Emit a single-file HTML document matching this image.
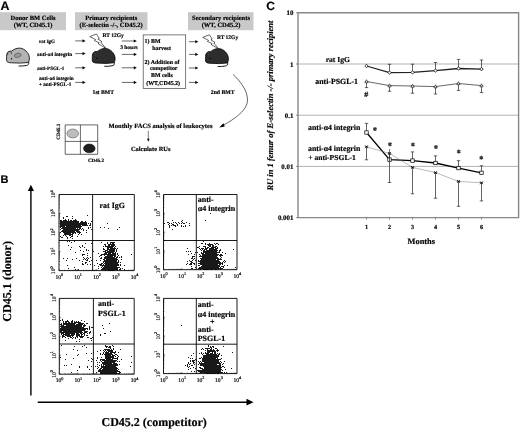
<!DOCTYPE html>
<html><head><meta charset="utf-8"><style>
html,body{margin:0;padding:0;background:#fff;width:520px;height:430px;overflow:hidden}
svg{display:block;font-family:'Liberation Serif',serif;font-weight:bold;text-rendering:geometricPrecision;filter:grayscale(1) blur(0.35px)}
text{stroke:#000;stroke-width:0.18px}
</style></head><body>
<svg width="520" height="430" viewBox="0 0 520 430">
<text x="0.4" y="9.8" font-size="12.4" style="font-family:'Liberation Sans',sans-serif;font-weight:bold">A</text>
<rect x="0" y="12.2" width="66" height="18" fill="#c9c9c9"/>
<rect x="75" y="12.2" width="72.5" height="18" fill="#c9c9c9"/>
<rect x="188" y="12.2" width="65.5" height="18" fill="#c9c9c9"/>
<text x="33" y="19.6" font-size="6.5" text-anchor="middle" >Donor BM Cells</text>
<text x="33" y="27" font-size="6.5" text-anchor="middle" >(WT, CD45.1)</text>
<text x="111.2" y="19.6" font-size="6.5" text-anchor="middle" >Primary recipients</text>
<text x="111.2" y="27" font-size="6.5" text-anchor="middle" >(E-selectin -/-, CD45.2)</text>
<text x="221" y="19.6" font-size="6.5" text-anchor="middle" >Secondary recipients</text>
<text x="221" y="27" font-size="6.5" text-anchor="middle" >(WT, CD45.2)</text>
<text x="39" y="43.4" font-size="5.0" text-anchor="start" >rat IgG</text>
<text x="37.1" y="56.2" font-size="5.25" text-anchor="start" >anti-&#945;4 integrin</text>
<text x="37.1" y="69.8" font-size="5.0" text-anchor="start" >anti-PSGL-1</text>
<text x="39" y="80.2" font-size="5.2" text-anchor="start" >anti-&#945;4 integrin</text>
<text x="39" y="86" font-size="5.15" text-anchor="start" >+ anti-PSGL-1</text>
<line x1="75.2" y1="40.9" x2="83.0" y2="40.9" stroke="#000" stroke-width="0.6"/>
<path d="M85.5 40.9 L82.5 39.3 L82.5 42.5Z" fill="#000"/>
<line x1="75.2" y1="53.6" x2="83.0" y2="53.6" stroke="#000" stroke-width="0.6"/>
<path d="M85.5 53.6 L82.5 52.0 L82.5 55.2Z" fill="#000"/>
<line x1="75.2" y1="67.8" x2="83.0" y2="67.8" stroke="#000" stroke-width="0.6"/>
<path d="M85.5 67.8 L82.5 66.2 L82.5 69.39999999999999Z" fill="#000"/>
<line x1="75.2" y1="82.4" x2="83.0" y2="82.4" stroke="#000" stroke-width="0.6"/>
<path d="M85.5 82.4 L82.5 80.80000000000001 L82.5 84.0Z" fill="#000"/>
<line x1="121.8" y1="41" x2="134.3" y2="41" stroke="#000" stroke-width="0.6"/>
<path d="M136.8 41 L133.8 39.4 L133.8 42.6Z" fill="#000"/>
<line x1="121.8" y1="54.4" x2="134.3" y2="54.4" stroke="#000" stroke-width="0.6"/>
<path d="M136.8 54.4 L133.8 52.8 L133.8 56.0Z" fill="#000"/>
<line x1="121.8" y1="67.8" x2="134.3" y2="67.8" stroke="#000" stroke-width="0.6"/>
<path d="M136.8 67.8 L133.8 66.2 L133.8 69.39999999999999Z" fill="#000"/>
<line x1="121.8" y1="82.4" x2="134.3" y2="82.4" stroke="#000" stroke-width="0.6"/>
<path d="M136.8 82.4 L133.8 80.80000000000001 L133.8 84.0Z" fill="#000"/>
<line x1="188.9" y1="41.7" x2="195.8" y2="41.7" stroke="#000" stroke-width="0.6"/>
<path d="M198.3 41.7 L195.3 40.1 L195.3 43.300000000000004Z" fill="#000"/>
<line x1="188.9" y1="54.4" x2="195.8" y2="54.4" stroke="#000" stroke-width="0.6"/>
<path d="M198.3 54.4 L195.3 52.8 L195.3 56.0Z" fill="#000"/>
<line x1="188.9" y1="68" x2="195.8" y2="68" stroke="#000" stroke-width="0.6"/>
<path d="M198.3 68 L195.3 66.4 L195.3 69.6Z" fill="#000"/>
<line x1="188.9" y1="82.4" x2="195.8" y2="82.4" stroke="#000" stroke-width="0.6"/>
<path d="M198.3 82.4 L195.3 80.80000000000001 L195.3 84.0Z" fill="#000"/>
<g transform="translate(-85.7,-0.3)"><path d="M92.3 56.5 C92.2 54.3 93 52.6 94.5 51.8 C95.5 51.3 96.5 51.3 97.3 51.5 C99.3 49.8 102 48.4 105 48.4 C109 48.4 113 51.5 114.6 55.5 C115.4 58 115.3 61 114 62.8 L106 63.4 L97 63.1 C94.5 63 92.6 62.5 92.3 61 Z" fill="#b3b3b3" stroke="#000" stroke-width="0.8"/><path d="M93.3 55.5 C92.9 53.5 93.8 52 95.5 51.9 C97 51.9 97.6 53.2 97.2 54.6" fill="#aaa" stroke="#000" stroke-width="0.5"/><ellipse cx="103.4" cy="55.6" rx="3.5" ry="2.1" transform="rotate(-15 103.4 55.6)" fill="#999" stroke="#444" stroke-width="0.5"/><circle cx="97.2" cy="59" r="0.7" fill="#000"/><path d="M114.3 62.3 C114.9 64.5 114 65.5 112 65.8 C109.5 66.3 106.5 66.4 104.3 66.3" fill="none" stroke="#000" stroke-width="0.9"/></g>
<g transform="translate(0,0)"><path d="M92.3 56.5 C92.2 54.3 93 52.6 94.5 51.8 C95.5 51.3 96.5 51.3 97.3 51.5 C99.3 49.8 102 48.4 105 48.4 C109 48.4 113 51.5 114.6 55.5 C115.4 58 115.3 61 114 62.8 L106 63.4 L97 63.1 C94.5 63 92.6 62.5 92.3 61 Z" fill="#2d2d2d" stroke="#000" stroke-width="0.8"/><path d="M94.5 51.8 C95 53 95.5 54 95 55.5" fill="none" stroke="#555" stroke-width="0.4"/><circle cx="96.8" cy="58.2" r="0.7" fill="#000"/><path d="M114.3 62.3 C114.9 64.5 114 65.5 112 65.8 C109.5 66.3 106.5 66.4 104.3 66.3" fill="none" stroke="#000" stroke-width="0.9"/></g>
<g transform="translate(113.3,0.2)"><path d="M92.3 56.5 C92.2 54.3 93 52.6 94.5 51.8 C95.5 51.3 96.5 51.3 97.3 51.5 C99.3 49.8 102 48.4 105 48.4 C109 48.4 113 51.5 114.6 55.5 C115.4 58 115.3 61 114 62.8 L106 63.4 L97 63.1 C94.5 63 92.6 62.5 92.3 61 Z" fill="#2d2d2d" stroke="#000" stroke-width="0.8"/><path d="M94.5 51.8 C95 53 95.5 54 95 55.5" fill="none" stroke="#555" stroke-width="0.4"/><circle cx="96.8" cy="58.2" r="0.7" fill="#000"/><path d="M114.3 62.3 C114.9 64.5 114 65.5 112 65.8 C109.5 66.3 106.5 66.4 104.3 66.3" fill="none" stroke="#000" stroke-width="0.9"/></g>
<path d="M89.8 36.6 L96.4 34.0 L99.2 38.3 L97.9 39.1 L102.0 41.6 L100.8 42.3 L106.0 48.4 L98.0 43.6 L99.2 42.8 L94.4 40.6 L95.6 39.6Z" fill="#fff" stroke="#000" stroke-width="0.6" stroke-linejoin="miter"/>
<path d="M202.8 37.4 L209.4 34.8 L212.2 39.1 L210.9 39.9 L215.0 42.4 L213.8 43.1 L219.0 49.2 L211.0 44.4 L212.2 43.6 L207.4 41.4 L208.6 40.4Z" fill="#fff" stroke="#000" stroke-width="0.6" stroke-linejoin="miter"/>
<text x="102.6" y="36.7" font-size="5.5" text-anchor="start" >RT 12Gy</text>
<text x="216.9" y="39.1" font-size="5.5" text-anchor="start" >RT 12Gy</text>
<text x="120.2" y="49.3" font-size="5.5" text-anchor="start" >3 hours</text>
<text x="92.5" y="94" font-size="5.75" text-anchor="start" >1st BMT</text>
<text x="210.8" y="94" font-size="5.75" text-anchor="start" >2nd BMT</text>
<rect x="143.2" y="34.9" width="42.5" height="53.5" fill="none" stroke="#444" stroke-width="0.7"/>
<text x="144.6" y="42.5" font-size="5.9" text-anchor="start" >1) BM</text>
<text x="152.2" y="49.6" font-size="5.9" text-anchor="start" >harvest</text>
<text x="144.6" y="63.6" font-size="5.95" text-anchor="start" >2) Addition of</text>
<text x="150" y="70.2" font-size="5.9" text-anchor="start" >competitor</text>
<text x="151" y="76.7" font-size="5.9" text-anchor="start" >BM cells</text>
<text x="146.2" y="84.7" font-size="5.95" text-anchor="start" >(WT,CD45.2)</text>
<path d="M233.1 74.5 C240 81 247.5 90 247.5 100 C247.5 110 235 119 221.5 126.2" fill="none" stroke="#000" stroke-width="0.6"/>
<path d="M219.2 127.5 L223.4 123.3 L224.8 126.4Z" fill="#000"/>
<ellipse cx="72.7" cy="133.5" rx="5.8" ry="4.5" fill="#bdbdbd" stroke="#444" stroke-width="0.5"/>
<ellipse cx="89.3" cy="148.4" rx="5.8" ry="4.4" fill="#1e1e1e" stroke="#000" stroke-width="0.5"/>
<path d="M65.2 124.9 H97.7 V154.3 H65.2Z M80.4 124.9 V154.3 M65.2 141.4 H97.7" fill="none" stroke="#000" stroke-width="0.6"/>
<text x="0" y="0" font-size="5" text-anchor="middle" transform="translate(60.2 131.7) rotate(-90)">CD45.1</text>
<text x="96" y="162" font-size="5.0" text-anchor="middle" >CD45.2</text>
<text x="160.5" y="127.7" font-size="6.55" text-anchor="middle" >Monthly FACS analysis of leukocytes</text>
<line x1="148.3" y1="130.8" x2="148.3" y2="139.5" stroke="#000" stroke-width="0.5"/>
<path d="M148.3 141.8 L147 138.8 L149.6 138.8Z" fill="#000"/>
<text x="150.7" y="150.8" font-size="6.45" text-anchor="middle" >Calculate RUs</text>
<text x="0.4" y="183.4" font-size="11" style="font-family:'Liberation Sans',sans-serif;font-weight:bold">B</text>
<line x1="30.9" y1="395.5" x2="30.9" y2="190" stroke="#000" stroke-width="1.4"/>
<path d="M30.9 184.8 L27.8 191 L34 191Z" fill="#000"/>
<line x1="37.7" y1="402.2" x2="247.5" y2="402.2" stroke="#000" stroke-width="1.4"/>
<path d="M253.5 402.2 L246.5 398.8 L246.5 405.6Z" fill="#000"/>
<text x="0" y="0" font-size="12.1" text-anchor="middle" transform="translate(10.8 281.4) rotate(-90)">CD45.1 (donor)</text>
<text x="101.5" y="426" font-size="12.0" text-anchor="start" >CD45.2 (competitor)</text>
<path d="M59 194.5 H134.3 V270.6 H59Z M92.6 194.5 V270.6 M59 240.5 H134.3" fill="none" stroke="#000" stroke-width="0.9"/>
<path d="M59.0 270.6 v-1.6 M59 270.6 h1.6 M64.7 270.6 v-0.9 M59 264.9 h0.9 M68.0 270.6 v-0.9 M59 261.5 h0.9 M70.3 270.6 v-0.9 M59 259.1 h0.9 M72.2 270.6 v-0.9 M59 257.3 h0.9 M73.6 270.6 v-0.9 M59 255.8 h0.9 M74.9 270.6 v-0.9 M59 254.5 h0.9 M76.0 270.6 v-0.9 M59 253.4 h0.9 M77.0 270.6 v-0.9 M59 252.4 h0.9 M77.8 270.6 v-1.6 M59 251.6 h1.6 M83.5 270.6 v-0.9 M59 245.8 h0.9 M86.8 270.6 v-0.9 M59 242.5 h0.9 M89.2 270.6 v-0.9 M59 240.1 h0.9 M91.0 270.6 v-0.9 M59 238.3 h0.9 M92.5 270.6 v-0.9 M59 236.8 h0.9 M93.7 270.6 v-0.9 M59 235.5 h0.9 M94.8 270.6 v-0.9 M59 234.4 h0.9 M95.8 270.6 v-0.9 M59 233.4 h0.9 M96.7 270.6 v-1.6 M59 232.6 h1.6 M102.3 270.6 v-0.9 M59 226.8 h0.9 M105.6 270.6 v-0.9 M59 223.5 h0.9 M108.0 270.6 v-0.9 M59 221.1 h0.9 M109.8 270.6 v-0.9 M59 219.3 h0.9 M111.3 270.6 v-0.9 M59 217.7 h0.9 M112.6 270.6 v-0.9 M59 216.5 h0.9 M113.7 270.6 v-0.9 M59 215.4 h0.9 M114.6 270.6 v-0.9 M59 214.4 h0.9 M115.5 270.6 v-1.6 M59 213.5 h1.6 M121.1 270.6 v-0.9 M59 207.8 h0.9 M124.5 270.6 v-0.9 M59 204.4 h0.9 M126.8 270.6 v-0.9 M59 202.1 h0.9 M128.6 270.6 v-0.9 M59 200.2 h0.9 M130.1 270.6 v-0.9 M59 198.7 h0.9 M131.4 270.6 v-0.9 M59 197.4 h0.9 M132.5 270.6 v-0.9 M59 196.3 h0.9 M133.4 270.6 v-0.9 M59 195.4 h0.9" stroke="#000" stroke-width="0.5"/>
<text x="59.3" y="278.6" font-size="5.6" fill="#000" text-anchor="middle" style="font-weight:normal">10<tspan dy="-2.5" font-size="4.2">0</tspan></text>
<text x="0" y="0" font-size="5.6" fill="#000" text-anchor="middle" style="font-weight:normal" transform="translate(55.4 270.3) rotate(-90)">10<tspan dy="-2.5" font-size="4.2">0</tspan></text>
<text x="78.1" y="278.6" font-size="5.6" fill="#000" text-anchor="middle" style="font-weight:normal">10<tspan dy="-2.5" font-size="4.2">1</tspan></text>
<text x="0" y="0" font-size="5.6" fill="#000" text-anchor="middle" style="font-weight:normal" transform="translate(55.4 251.3) rotate(-90)">10<tspan dy="-2.5" font-size="4.2">1</tspan></text>
<text x="97.0" y="278.6" font-size="5.6" fill="#000" text-anchor="middle" style="font-weight:normal">10<tspan dy="-2.5" font-size="4.2">2</tspan></text>
<text x="0" y="0" font-size="5.6" fill="#000" text-anchor="middle" style="font-weight:normal" transform="translate(55.4 232.2) rotate(-90)">10<tspan dy="-2.5" font-size="4.2">2</tspan></text>
<text x="115.8" y="278.6" font-size="5.6" fill="#000" text-anchor="middle" style="font-weight:normal">10<tspan dy="-2.5" font-size="4.2">3</tspan></text>
<text x="0" y="0" font-size="5.6" fill="#000" text-anchor="middle" style="font-weight:normal" transform="translate(55.4 213.2) rotate(-90)">10<tspan dy="-2.5" font-size="4.2">3</tspan></text>
<text x="134.6" y="278.6" font-size="5.6" fill="#000" text-anchor="middle" style="font-weight:normal">10<tspan dy="-2.5" font-size="4.2">4</tspan></text>
<text x="0" y="0" font-size="5.6" fill="#000" text-anchor="middle" style="font-weight:normal" transform="translate(55.4 194.2) rotate(-90)">10<tspan dy="-2.5" font-size="4.2">4</tspan></text>
<path d="M163.5 194.5 H237 V269.7 H163.5Z M196.3 194.5 V269.7 M163.5 240.5 H237" fill="none" stroke="#000" stroke-width="0.9"/>
<path d="M163.5 269.7 v-1.6 M163.5 269.7 h1.6 M169.0 269.7 v-0.9 M163.5 264.0 h0.9 M172.3 269.7 v-0.9 M163.5 260.7 h0.9 M174.6 269.7 v-0.9 M163.5 258.4 h0.9 M176.3 269.7 v-0.9 M163.5 256.6 h0.9 M177.8 269.7 v-0.9 M163.5 255.1 h0.9 M179.0 269.7 v-0.9 M163.5 253.8 h0.9 M180.1 269.7 v-0.9 M163.5 252.7 h0.9 M181.0 269.7 v-0.9 M163.5 251.8 h0.9 M181.9 269.7 v-1.6 M163.5 250.9 h1.6 M187.4 269.7 v-0.9 M163.5 245.2 h0.9 M190.6 269.7 v-0.9 M163.5 241.9 h0.9 M192.9 269.7 v-0.9 M163.5 239.6 h0.9 M194.7 269.7 v-0.9 M163.5 237.8 h0.9 M196.2 269.7 v-0.9 M163.5 236.3 h0.9 M197.4 269.7 v-0.9 M163.5 235.0 h0.9 M198.5 269.7 v-0.9 M163.5 233.9 h0.9 M199.4 269.7 v-0.9 M163.5 233.0 h0.9 M200.2 269.7 v-1.6 M163.5 232.1 h1.6 M205.8 269.7 v-0.9 M163.5 226.4 h0.9 M209.0 269.7 v-0.9 M163.5 223.1 h0.9 M211.3 269.7 v-0.9 M163.5 220.8 h0.9 M213.1 269.7 v-0.9 M163.5 219.0 h0.9 M214.5 269.7 v-0.9 M163.5 217.5 h0.9 M215.8 269.7 v-0.9 M163.5 216.2 h0.9 M216.8 269.7 v-0.9 M163.5 215.1 h0.9 M217.8 269.7 v-0.9 M163.5 214.2 h0.9 M218.6 269.7 v-1.6 M163.5 213.3 h1.6 M224.2 269.7 v-0.9 M163.5 207.6 h0.9 M227.4 269.7 v-0.9 M163.5 204.3 h0.9 M229.7 269.7 v-0.9 M163.5 202.0 h0.9 M231.5 269.7 v-0.9 M163.5 200.2 h0.9 M232.9 269.7 v-0.9 M163.5 198.7 h0.9 M234.2 269.7 v-0.9 M163.5 197.4 h0.9 M235.2 269.7 v-0.9 M163.5 196.3 h0.9 M236.2 269.7 v-0.9 M163.5 195.4 h0.9" stroke="#000" stroke-width="0.5"/>
<text x="163.8" y="277.7" font-size="5.6" fill="#000" text-anchor="middle" style="font-weight:normal">10<tspan dy="-2.5" font-size="4.2">0</tspan></text>
<text x="0" y="0" font-size="5.6" fill="#000" text-anchor="middle" style="font-weight:normal" transform="translate(159.9 269.4) rotate(-90)">10<tspan dy="-2.5" font-size="4.2">0</tspan></text>
<text x="182.2" y="277.7" font-size="5.6" fill="#000" text-anchor="middle" style="font-weight:normal">10<tspan dy="-2.5" font-size="4.2">1</tspan></text>
<text x="0" y="0" font-size="5.6" fill="#000" text-anchor="middle" style="font-weight:normal" transform="translate(159.9 250.6) rotate(-90)">10<tspan dy="-2.5" font-size="4.2">1</tspan></text>
<text x="200.6" y="277.7" font-size="5.6" fill="#000" text-anchor="middle" style="font-weight:normal">10<tspan dy="-2.5" font-size="4.2">2</tspan></text>
<text x="0" y="0" font-size="5.6" fill="#000" text-anchor="middle" style="font-weight:normal" transform="translate(159.9 231.8) rotate(-90)">10<tspan dy="-2.5" font-size="4.2">2</tspan></text>
<text x="218.9" y="277.7" font-size="5.6" fill="#000" text-anchor="middle" style="font-weight:normal">10<tspan dy="-2.5" font-size="4.2">3</tspan></text>
<text x="0" y="0" font-size="5.6" fill="#000" text-anchor="middle" style="font-weight:normal" transform="translate(159.9 213.0) rotate(-90)">10<tspan dy="-2.5" font-size="4.2">3</tspan></text>
<text x="237.3" y="277.7" font-size="5.6" fill="#000" text-anchor="middle" style="font-weight:normal">10<tspan dy="-2.5" font-size="4.2">4</tspan></text>
<text x="0" y="0" font-size="5.6" fill="#000" text-anchor="middle" style="font-weight:normal" transform="translate(159.9 194.2) rotate(-90)">10<tspan dy="-2.5" font-size="4.2">4</tspan></text>
<path d="M59.3 298.4 H134.2 V374.2 H59.3Z M93.4 298.4 V374.2 M59.3 344 H134.2" fill="none" stroke="#000" stroke-width="0.9"/>
<path d="M59.3 374.2 v-1.6 M59.3 374.2 h1.6 M64.9 374.2 v-0.9 M59.3 368.5 h0.9 M68.2 374.2 v-0.9 M59.3 365.2 h0.9 M70.6 374.2 v-0.9 M59.3 362.8 h0.9 M72.4 374.2 v-0.9 M59.3 361.0 h0.9 M73.9 374.2 v-0.9 M59.3 359.5 h0.9 M75.1 374.2 v-0.9 M59.3 358.2 h0.9 M76.2 374.2 v-0.9 M59.3 357.1 h0.9 M77.2 374.2 v-0.9 M59.3 356.1 h0.9 M78.0 374.2 v-1.6 M59.3 355.2 h1.6 M83.7 374.2 v-0.9 M59.3 349.5 h0.9 M87.0 374.2 v-0.9 M59.3 346.2 h0.9 M89.3 374.2 v-0.9 M59.3 343.8 h0.9 M91.1 374.2 v-0.9 M59.3 342.0 h0.9 M92.6 374.2 v-0.9 M59.3 340.5 h0.9 M93.8 374.2 v-0.9 M59.3 339.2 h0.9 M94.9 374.2 v-0.9 M59.3 338.1 h0.9 M95.9 374.2 v-0.9 M59.3 337.2 h0.9 M96.8 374.2 v-1.6 M59.3 336.3 h1.6 M102.4 374.2 v-0.9 M59.3 330.6 h0.9 M105.7 374.2 v-0.9 M59.3 327.3 h0.9 M108.0 374.2 v-0.9 M59.3 324.9 h0.9 M109.8 374.2 v-0.9 M59.3 323.1 h0.9 M111.3 374.2 v-0.9 M59.3 321.6 h0.9 M112.6 374.2 v-0.9 M59.3 320.3 h0.9 M113.7 374.2 v-0.9 M59.3 319.2 h0.9 M114.6 374.2 v-0.9 M59.3 318.2 h0.9 M115.5 374.2 v-1.6 M59.3 317.3 h1.6 M121.1 374.2 v-0.9 M59.3 311.6 h0.9 M124.4 374.2 v-0.9 M59.3 308.3 h0.9 M126.7 374.2 v-0.9 M59.3 305.9 h0.9 M128.6 374.2 v-0.9 M59.3 304.1 h0.9 M130.0 374.2 v-0.9 M59.3 302.6 h0.9 M131.3 374.2 v-0.9 M59.3 301.3 h0.9 M132.4 374.2 v-0.9 M59.3 300.2 h0.9 M133.3 374.2 v-0.9 M59.3 299.3 h0.9" stroke="#000" stroke-width="0.5"/>
<text x="59.6" y="382.2" font-size="5.6" fill="#000" text-anchor="middle" style="font-weight:normal">10<tspan dy="-2.5" font-size="4.2">0</tspan></text>
<text x="0" y="0" font-size="5.6" fill="#000" text-anchor="middle" style="font-weight:normal" transform="translate(55.7 373.9) rotate(-90)">10<tspan dy="-2.5" font-size="4.2">0</tspan></text>
<text x="78.3" y="382.2" font-size="5.6" fill="#000" text-anchor="middle" style="font-weight:normal">10<tspan dy="-2.5" font-size="4.2">1</tspan></text>
<text x="0" y="0" font-size="5.6" fill="#000" text-anchor="middle" style="font-weight:normal" transform="translate(55.7 354.9) rotate(-90)">10<tspan dy="-2.5" font-size="4.2">1</tspan></text>
<text x="97.0" y="382.2" font-size="5.6" fill="#000" text-anchor="middle" style="font-weight:normal">10<tspan dy="-2.5" font-size="4.2">2</tspan></text>
<text x="0" y="0" font-size="5.6" fill="#000" text-anchor="middle" style="font-weight:normal" transform="translate(55.7 336.0) rotate(-90)">10<tspan dy="-2.5" font-size="4.2">2</tspan></text>
<text x="115.8" y="382.2" font-size="5.6" fill="#000" text-anchor="middle" style="font-weight:normal">10<tspan dy="-2.5" font-size="4.2">3</tspan></text>
<text x="0" y="0" font-size="5.6" fill="#000" text-anchor="middle" style="font-weight:normal" transform="translate(55.7 317.0) rotate(-90)">10<tspan dy="-2.5" font-size="4.2">3</tspan></text>
<text x="134.5" y="382.2" font-size="5.6" fill="#000" text-anchor="middle" style="font-weight:normal">10<tspan dy="-2.5" font-size="4.2">4</tspan></text>
<text x="0" y="0" font-size="5.6" fill="#000" text-anchor="middle" style="font-weight:normal" transform="translate(55.7 298.1) rotate(-90)">10<tspan dy="-2.5" font-size="4.2">4</tspan></text>
<path d="M163.5 298.4 H237 V373.6 H163.5Z M196.3 298.4 V373.6 M163.5 344.2 H237" fill="none" stroke="#000" stroke-width="0.9"/>
<path d="M163.5 373.6 v-1.6 M163.5 373.6 h1.6 M169.0 373.6 v-0.9 M163.5 367.9 h0.9 M172.3 373.6 v-0.9 M163.5 364.6 h0.9 M174.6 373.6 v-0.9 M163.5 362.3 h0.9 M176.3 373.6 v-0.9 M163.5 360.5 h0.9 M177.8 373.6 v-0.9 M163.5 359.0 h0.9 M179.0 373.6 v-0.9 M163.5 357.7 h0.9 M180.1 373.6 v-0.9 M163.5 356.6 h0.9 M181.0 373.6 v-0.9 M163.5 355.7 h0.9 M181.9 373.6 v-1.6 M163.5 354.8 h1.6 M187.4 373.6 v-0.9 M163.5 349.1 h0.9 M190.6 373.6 v-0.9 M163.5 345.8 h0.9 M192.9 373.6 v-0.9 M163.5 343.5 h0.9 M194.7 373.6 v-0.9 M163.5 341.7 h0.9 M196.2 373.6 v-0.9 M163.5 340.2 h0.9 M197.4 373.6 v-0.9 M163.5 338.9 h0.9 M198.5 373.6 v-0.9 M163.5 337.8 h0.9 M199.4 373.6 v-0.9 M163.5 336.9 h0.9 M200.2 373.6 v-1.6 M163.5 336.0 h1.6 M205.8 373.6 v-0.9 M163.5 330.3 h0.9 M209.0 373.6 v-0.9 M163.5 327.0 h0.9 M211.3 373.6 v-0.9 M163.5 324.7 h0.9 M213.1 373.6 v-0.9 M163.5 322.9 h0.9 M214.5 373.6 v-0.9 M163.5 321.4 h0.9 M215.8 373.6 v-0.9 M163.5 320.1 h0.9 M216.8 373.6 v-0.9 M163.5 319.0 h0.9 M217.8 373.6 v-0.9 M163.5 318.1 h0.9 M218.6 373.6 v-1.6 M163.5 317.2 h1.6 M224.2 373.6 v-0.9 M163.5 311.5 h0.9 M227.4 373.6 v-0.9 M163.5 308.2 h0.9 M229.7 373.6 v-0.9 M163.5 305.9 h0.9 M231.5 373.6 v-0.9 M163.5 304.1 h0.9 M232.9 373.6 v-0.9 M163.5 302.6 h0.9 M234.2 373.6 v-0.9 M163.5 301.3 h0.9 M235.2 373.6 v-0.9 M163.5 300.2 h0.9 M236.2 373.6 v-0.9 M163.5 299.3 h0.9" stroke="#000" stroke-width="0.5"/>
<text x="163.8" y="381.6" font-size="5.6" fill="#000" text-anchor="middle" style="font-weight:normal">10<tspan dy="-2.5" font-size="4.2">0</tspan></text>
<text x="0" y="0" font-size="5.6" fill="#000" text-anchor="middle" style="font-weight:normal" transform="translate(159.9 373.3) rotate(-90)">10<tspan dy="-2.5" font-size="4.2">0</tspan></text>
<text x="182.2" y="381.6" font-size="5.6" fill="#000" text-anchor="middle" style="font-weight:normal">10<tspan dy="-2.5" font-size="4.2">1</tspan></text>
<text x="0" y="0" font-size="5.6" fill="#000" text-anchor="middle" style="font-weight:normal" transform="translate(159.9 354.5) rotate(-90)">10<tspan dy="-2.5" font-size="4.2">1</tspan></text>
<text x="200.6" y="381.6" font-size="5.6" fill="#000" text-anchor="middle" style="font-weight:normal">10<tspan dy="-2.5" font-size="4.2">2</tspan></text>
<text x="0" y="0" font-size="5.6" fill="#000" text-anchor="middle" style="font-weight:normal" transform="translate(159.9 335.7) rotate(-90)">10<tspan dy="-2.5" font-size="4.2">2</tspan></text>
<text x="218.9" y="381.6" font-size="5.6" fill="#000" text-anchor="middle" style="font-weight:normal">10<tspan dy="-2.5" font-size="4.2">3</tspan></text>
<text x="0" y="0" font-size="5.6" fill="#000" text-anchor="middle" style="font-weight:normal" transform="translate(159.9 316.9) rotate(-90)">10<tspan dy="-2.5" font-size="4.2">3</tspan></text>
<text x="237.3" y="381.6" font-size="5.6" fill="#000" text-anchor="middle" style="font-weight:normal">10<tspan dy="-2.5" font-size="4.2">4</tspan></text>
<text x="0" y="0" font-size="5.6" fill="#000" text-anchor="middle" style="font-weight:normal" transform="translate(159.9 298.1) rotate(-90)">10<tspan dy="-2.5" font-size="4.2">4</tspan></text>
<filter id="bl" x="0" y="0" width="1" height="1"><feGaussianBlur stdDeviation="0.3"/></filter>
<path d="M71 225h1v1h-1zM73 227h1v1h-1zM69 227h1v1h-1zM64 223h1v1h-1zM68 225h1v1h-1zM64 224h1v1h-1zM71 224h1v1h-1zM81 226h1v1h-1zM67 222h1v1h-1zM66 225h1v1h-1zM75 224h1v1h-1zM74 226h1v1h-1zM72 224h1v1h-1zM64 223h1v1h-1zM71 224h1v1h-1zM76 225h1v1h-1zM61 224h1v1h-1zM68 224h1v1h-1zM61 220h1v1h-1zM69 225h1v1h-1zM61 224h1v1h-1zM73 224h1v1h-1zM72 225h1v1h-1zM70 223h1v1h-1zM67 223h1v1h-1zM71 225h1v1h-1zM72 222h1v1h-1zM60 225h1v1h-1zM67 223h1v1h-1zM64 222h1v1h-1zM65 225h1v1h-1zM79 223h1v1h-1zM65 222h1v1h-1zM71 223h1v1h-1zM78 225h1v1h-1zM67 225h1v1h-1zM70 223h1v1h-1zM72 224h1v1h-1zM71 225h1v1h-1zM62 223h1v1h-1zM72 224h1v1h-1zM81 224h1v1h-1zM77 223h1v1h-1zM72 224h1v1h-1zM66 224h1v1h-1zM86 223h1v1h-1zM77 223h1v1h-1zM62 225h1v1h-1zM72 224h1v1h-1zM75 225h1v1h-1zM70 225h1v1h-1zM76 224h1v1h-1zM71 227h1v1h-1zM76 222h1v1h-1zM82 225h1v1h-1zM66 223h1v1h-1zM73 226h1v1h-1zM68 226h1v1h-1zM72 221h1v1h-1zM62 222h1v1h-1zM67 225h1v1h-1zM70 225h1v1h-1zM78 225h1v1h-1zM80 223h1v1h-1zM61 224h1v1h-1zM65 225h1v1h-1zM76 223h1v1h-1zM68 220h1v1h-1zM70 225h1v1h-1zM80 222h1v1h-1zM76 225h1v1h-1zM69 223h1v1h-1zM68 222h1v1h-1zM69 224h1v1h-1zM82 222h1v1h-1zM68 222h1v1h-1zM69 221h1v1h-1zM74 224h1v1h-1zM70 224h1v1h-1zM70 225h1v1h-1zM63 223h1v1h-1zM71 225h1v1h-1zM68 224h1v1h-1zM80 223h1v1h-1zM76 224h1v1h-1zM71 225h1v1h-1zM76 223h1v1h-1zM68 223h1v1h-1zM79 223h1v1h-1zM71 224h1v1h-1zM75 222h1v1h-1zM61 225h1v1h-1zM74 223h1v1h-1zM69 224h1v1h-1zM64 224h1v1h-1zM72 223h1v1h-1zM88 227h1v1h-1zM65 224h1v1h-1zM66 226h1v1h-1zM73 225h1v1h-1zM75 223h1v1h-1zM70 223h1v1h-1zM69 224h1v1h-1zM76 224h1v1h-1zM75 224h1v1h-1zM63 223h1v1h-1zM70 221h1v1h-1zM71 223h1v1h-1zM63 220h1v1h-1zM73 224h1v1h-1zM65 223h1v1h-1zM78 223h1v1h-1zM72 223h1v1h-1zM72 224h1v1h-1zM67 221h1v1h-1zM70 221h1v1h-1zM63 221h1v1h-1zM74 222h1v1h-1zM77 222h1v1h-1zM77 222h1v1h-1zM65 224h1v1h-1zM77 223h1v1h-1zM72 224h1v1h-1zM80 226h1v1h-1zM82 224h1v1h-1zM71 224h1v1h-1zM69 222h1v1h-1zM70 224h1v1h-1zM64 223h1v1h-1zM79 225h1v1h-1zM67 224h1v1h-1zM71 226h1v1h-1zM65 221h1v1h-1zM66 223h1v1h-1zM61 225h1v1h-1zM80 223h1v1h-1zM70 222h1v1h-1zM78 223h1v1h-1zM71 222h1v1h-1zM66 224h1v1h-1zM69 227h1v1h-1zM67 225h1v1h-1zM71 222h1v1h-1zM68 222h1v1h-1zM69 223h1v1h-1zM61 225h1v1h-1zM65 222h1v1h-1zM83 223h1v1h-1zM66 225h1v1h-1zM63 225h1v1h-1zM74 223h1v1h-1zM82 222h1v1h-1zM60 221h1v1h-1zM69 223h1v1h-1zM66 220h1v1h-1zM77 223h1v1h-1zM71 224h1v1h-1zM72 226h1v1h-1zM65 225h1v1h-1zM74 222h1v1h-1zM67 225h1v1h-1zM70 225h1v1h-1zM63 222h1v1h-1zM62 222h1v1h-1zM81 223h1v1h-1zM67 221h1v1h-1zM73 226h1v1h-1zM71 220h1v1h-1zM68 222h1v1h-1zM67 223h1v1h-1zM76 223h1v1h-1zM69 224h1v1h-1zM70 224h1v1h-1zM71 223h1v1h-1zM80 225h1v1h-1zM76 220h1v1h-1zM74 224h1v1h-1zM67 223h1v1h-1zM61 224h1v1h-1zM78 224h1v1h-1zM78 222h1v1h-1zM70 223h1v1h-1zM75 225h1v1h-1zM77 224h1v1h-1zM77 223h1v1h-1zM78 227h1v1h-1zM68 227h1v1h-1zM82 221h1v1h-1zM62 224h1v1h-1zM77 227h1v1h-1zM75 225h1v1h-1zM78 224h1v1h-1zM85 223h1v1h-1zM82 223h1v1h-1zM62 223h1v1h-1zM77 225h1v1h-1zM63 223h1v1h-1zM71 223h1v1h-1zM77 222h1v1h-1zM73 223h1v1h-1zM71 225h1v1h-1zM69 224h1v1h-1zM71 224h1v1h-1zM65 224h1v1h-1zM60 224h1v1h-1zM70 223h1v1h-1zM64 223h1v1h-1zM75 222h1v1h-1zM71 226h1v1h-1zM74 224h1v1h-1zM64 222h1v1h-1zM66 223h1v1h-1zM64 223h1v1h-1zM64 224h1v1h-1zM72 223h1v1h-1zM65 225h1v1h-1zM74 222h1v1h-1zM74 220h1v1h-1zM86 223h1v1h-1zM61 221h1v1h-1zM78 224h1v1h-1zM70 225h1v1h-1zM71 225h1v1h-1zM60 222h1v1h-1zM68 222h1v1h-1zM77 226h1v1h-1zM70 224h1v1h-1zM72 224h1v1h-1zM69 225h1v1h-1zM80 227h1v1h-1zM71 226h1v1h-1zM66 224h1v1h-1zM67 222h1v1h-1zM81 224h1v1h-1zM71 222h1v1h-1zM62 224h1v1h-1zM64 224h1v1h-1zM79 227h1v1h-1zM72 222h1v1h-1zM71 223h1v1h-1zM71 223h1v1h-1zM71 224h1v1h-1zM77 225h1v1h-1zM75 223h1v1h-1zM73 222h1v1h-1zM63 221h1v1h-1zM75 222h1v1h-1zM66 224h1v1h-1zM79 224h1v1h-1zM61 222h1v1h-1zM70 223h1v1h-1zM71 224h1v1h-1zM61 224h1v1h-1zM84 223h1v1h-1zM82 223h1v1h-1zM68 221h1v1h-1zM77 222h1v1h-1zM74 226h1v1h-1zM73 223h1v1h-1zM71 224h1v1h-1zM72 223h1v1h-1zM63 222h1v1h-1zM69 224h1v1h-1zM70 224h1v1h-1zM80 223h1v1h-1zM74 221h1v1h-1zM71 223h1v1h-1zM82 222h1v1h-1zM67 223h1v1h-1zM68 224h1v1h-1zM83 225h1v1h-1zM78 223h1v1h-1zM78 225h1v1h-1zM76 225h1v1h-1zM72 225h1v1h-1zM73 226h1v1h-1zM69 223h1v1h-1zM69 223h1v1h-1zM71 225h1v1h-1zM82 222h1v1h-1zM75 224h1v1h-1zM71 223h1v1h-1zM67 223h1v1h-1zM66 221h1v1h-1zM83 222h1v1h-1zM75 224h1v1h-1zM72 225h1v1h-1zM68 225h1v1h-1zM63 223h1v1h-1zM70 223h1v1h-1zM78 222h1v1h-1zM68 224h1v1h-1zM69 223h1v1h-1zM69 225h1v1h-1zM72 226h1v1h-1zM69 221h1v1h-1zM65 222h1v1h-1zM78 221h1v1h-1zM65 222h1v1h-1zM75 226h1v1h-1zM82 224h1v1h-1zM69 221h1v1h-1zM66 225h1v1h-1zM72 225h1v1h-1zM71 223h1v1h-1zM64 223h1v1h-1zM74 223h1v1h-1zM86 224h1v1h-1zM69 225h1v1h-1zM69 225h1v1h-1zM63 225h1v1h-1zM73 225h1v1h-1zM62 226h1v1h-1zM63 225h1v1h-1zM81 221h1v1h-1zM64 223h1v1h-1zM79 224h1v1h-1zM82 223h1v1h-1zM73 225h1v1h-1zM75 223h1v1h-1zM86 222h1v1h-1zM70 226h1v1h-1zM67 225h1v1h-1zM61 224h1v1h-1zM71 225h1v1h-1zM82 225h1v1h-1zM78 224h1v1h-1zM64 220h1v1h-1zM65 223h1v1h-1zM67 223h1v1h-1zM73 222h1v1h-1zM69 224h1v1h-1zM73 225h1v1h-1zM73 223h1v1h-1zM69 222h1v1h-1zM71 227h1v1h-1zM73 223h1v1h-1zM70 222h1v1h-1zM75 224h1v1h-1zM85 224h1v1h-1zM75 223h1v1h-1zM71 225h1v1h-1zM74 222h1v1h-1zM60 225h1v1h-1zM77 223h1v1h-1zM76 224h1v1h-1zM70 223h1v1h-1zM68 223h1v1h-1zM66 226h1v1h-1zM76 224h1v1h-1zM88 223h1v1h-1zM73 225h1v1h-1zM65 225h1v1h-1zM62 226h1v1h-1zM71 224h1v1h-1zM70 223h1v1h-1zM62 223h1v1h-1zM72 224h1v1h-1zM62 224h1v1h-1zM79 226h1v1h-1zM79 224h1v1h-1zM79 225h1v1h-1zM67 226h1v1h-1zM75 224h1v1h-1zM70 221h1v1h-1zM68 222h1v1h-1zM68 221h1v1h-1zM61 226h1v1h-1zM60 222h1v1h-1zM77 225h1v1h-1zM70 224h1v1h-1zM73 226h1v1h-1zM79 225h1v1h-1zM65 223h1v1h-1zM72 224h1v1h-1zM74 224h1v1h-1zM68 223h1v1h-1zM79 224h1v1h-1zM73 226h1v1h-1zM62 221h1v1h-1zM64 224h1v1h-1zM77 222h1v1h-1zM74 224h1v1h-1zM81 224h1v1h-1zM75 225h1v1h-1zM81 221h1v1h-1zM68 225h1v1h-1zM69 223h1v1h-1zM63 225h1v1h-1zM90 224h1v1h-1zM70 220h1v1h-1zM83 222h1v1h-1zM66 224h1v1h-1zM72 226h1v1h-1zM68 224h1v1h-1zM78 221h1v1h-1zM62 226h1v1h-1zM79 226h1v1h-1zM74 224h1v1h-1zM63 223h1v1h-1zM67 221h1v1h-1zM68 225h1v1h-1zM71 228h1v1h-1zM67 225h1v1h-1zM65 225h1v1h-1zM69 224h1v1h-1zM63 222h1v1h-1zM61 226h1v1h-1zM71 222h1v1h-1zM78 223h1v1h-1zM60 224h1v1h-1zM71 225h1v1h-1zM66 224h1v1h-1zM64 224h1v1h-1zM77 222h1v1h-1zM67 222h1v1h-1zM82 224h1v1h-1zM65 223h1v1h-1zM74 222h1v1h-1zM69 222h1v1h-1zM65 223h1v1h-1zM75 221h1v1h-1zM70 222h1v1h-1zM76 221h1v1h-1zM71 224h1v1h-1zM63 224h1v1h-1zM70 227h1v1h-1zM71 221h1v1h-1zM78 223h1v1h-1zM64 225h1v1h-1zM71 223h1v1h-1zM76 226h1v1h-1zM63 223h1v1h-1zM71 222h1v1h-1zM79 224h1v1h-1zM60 224h1v1h-1zM63 222h1v1h-1zM65 222h1v1h-1zM63 224h1v1h-1zM74 224h1v1h-1zM65 223h1v1h-1zM66 225h1v1h-1zM75 224h1v1h-1zM65 221h1v1h-1zM74 223h1v1h-1zM64 224h1v1h-1zM62 223h1v1h-1zM85 223h1v1h-1zM69 225h1v1h-1zM73 226h1v1h-1zM71 220h1v1h-1zM72 228h1v1h-1zM71 222h1v1h-1zM85 225h1v1h-1zM63 225h1v1h-1zM63 224h1v1h-1zM61 222h1v1h-1zM77 225h1v1h-1zM77 223h1v1h-1zM64 220h1v1h-1zM61 228h1v1h-1zM68 225h1v1h-1zM81 226h1v1h-1zM75 226h1v1h-1zM63 226h1v1h-1zM79 226h1v1h-1zM63 224h1v1h-1zM69 222h1v1h-1zM60 223h1v1h-1zM64 220h1v1h-1zM81 221h1v1h-1zM77 224h1v1h-1zM68 222h1v1h-1zM64 223h1v1h-1zM68 226h1v1h-1zM71 226h1v1h-1zM70 224h1v1h-1zM70 225h1v1h-1zM63 222h1v1h-1zM71 223h1v1h-1zM71 225h1v1h-1zM81 222h1v1h-1zM85 223h1v1h-1zM70 222h1v1h-1zM65 224h1v1h-1zM71 226h1v1h-1zM66 222h1v1h-1zM65 224h1v1h-1zM71 222h1v1h-1zM63 222h1v1h-1zM76 222h1v1h-1zM70 226h1v1h-1zM73 227h1v1h-1zM70 224h1v1h-1zM66 223h1v1h-1zM64 225h1v1h-1zM69 223h1v1h-1zM67 225h1v1h-1zM73 224h1v1h-1zM71 224h1v1h-1zM61 225h1v1h-1zM72 223h1v1h-1zM61 223h1v1h-1zM66 221h1v1h-1zM69 223h1v1h-1zM72 223h1v1h-1zM72 222h1v1h-1zM70 224h1v1h-1zM68 224h1v1h-1zM68 221h1v1h-1zM64 222h1v1h-1zM69 222h1v1h-1zM67 225h1v1h-1zM72 226h1v1h-1zM62 225h1v1h-1zM73 223h1v1h-1zM72 226h1v1h-1zM70 221h1v1h-1zM68 226h1v1h-1zM75 223h1v1h-1zM74 228h1v1h-1zM73 226h1v1h-1zM73 222h1v1h-1zM74 224h1v1h-1zM66 223h1v1h-1zM69 224h1v1h-1zM76 221h1v1h-1zM74 223h1v1h-1zM73 224h1v1h-1zM60 224h1v1h-1zM75 225h1v1h-1zM80 224h1v1h-1zM79 227h1v1h-1zM73 223h1v1h-1zM78 221h1v1h-1zM70 222h1v1h-1zM74 222h1v1h-1zM60 224h1v1h-1zM61 224h1v1h-1zM66 222h1v1h-1zM81 223h1v1h-1zM68 223h1v1h-1zM73 223h1v1h-1zM84 225h1v1h-1zM83 225h1v1h-1zM70 223h1v1h-1zM69 222h1v1h-1zM62 224h1v1h-1zM66 223h1v1h-1zM74 225h1v1h-1zM74 228h1v1h-1zM72 225h1v1h-1zM78 224h1v1h-1zM65 223h1v1h-1zM71 222h1v1h-1zM76 222h1v1h-1zM75 222h1v1h-1zM79 223h1v1h-1zM74 223h1v1h-1zM69 225h1v1h-1zM74 223h1v1h-1zM63 223h1v1h-1zM75 226h1v1h-1zM71 224h1v1h-1zM73 226h1v1h-1zM68 226h1v1h-1zM67 223h1v1h-1zM65 225h1v1h-1zM68 222h1v1h-1zM78 225h1v1h-1zM74 226h1v1h-1zM66 224h1v1h-1zM71 225h1v1h-1zM77 226h1v1h-1zM70 224h1v1h-1zM75 222h1v1h-1zM76 223h1v1h-1zM84 223h1v1h-1zM80 223h1v1h-1zM73 224h1v1h-1zM73 224h1v1h-1zM77 221h1v1h-1zM67 227h1v1h-1zM71 225h1v1h-1zM78 225h1v1h-1zM86 223h1v1h-1zM70 223h1v1h-1zM71 224h1v1h-1zM72 224h1v1h-1zM81 221h1v1h-1zM71 225h1v1h-1zM82 228h1v1h-1zM64 221h1v1h-1zM70 225h1v1h-1zM70 224h1v1h-1zM77 223h1v1h-1zM79 226h1v1h-1zM60 222h1v1h-1zM64 224h1v1h-1zM74 226h1v1h-1zM66 223h1v1h-1zM60 223h1v1h-1zM79 224h1v1h-1zM75 223h1v1h-1zM75 226h1v1h-1zM67 222h1v1h-1zM79 225h1v1h-1zM69 222h1v1h-1zM79 225h1v1h-1zM64 223h1v1h-1zM65 220h1v1h-1zM73 224h1v1h-1zM66 222h1v1h-1zM76 223h1v1h-1zM73 226h1v1h-1zM64 222h1v1h-1zM72 222h1v1h-1zM68 226h1v1h-1zM78 224h1v1h-1zM66 226h1v1h-1zM68 224h1v1h-1zM80 222h1v1h-1zM88 223h1v1h-1zM86 225h1v1h-1zM71 225h1v1h-1zM73 224h1v1h-1zM83 224h1v1h-1zM70 223h1v1h-1zM64 223h1v1h-1zM72 227h1v1h-1zM74 224h1v1h-1zM65 222h1v1h-1zM60 225h1v1h-1zM76 225h1v1h-1zM65 223h1v1h-1zM70 223h1v1h-1zM73 224h1v1h-1zM76 221h1v1h-1zM68 222h1v1h-1zM75 225h1v1h-1zM64 223h1v1h-1zM68 224h1v1h-1zM63 225h1v1h-1zM79 225h1v1h-1zM71 224h1v1h-1zM65 227h1v1h-1zM68 225h1v1h-1zM69 223h1v1h-1zM76 225h1v1h-1zM63 222h1v1h-1zM68 224h1v1h-1zM90 223h1v1h-1zM78 221h1v1h-1zM70 223h1v1h-1zM76 223h1v1h-1zM86 223h1v1h-1zM69 221h1v1h-1zM68 223h1v1h-1zM80 224h1v1h-1zM75 224h1v1h-1zM76 222h1v1h-1zM67 225h1v1h-1zM85 222h1v1h-1zM84 223h1v1h-1zM75 226h1v1h-1zM76 223h1v1h-1zM76 225h1v1h-1zM70 223h1v1h-1zM74 223h1v1h-1zM76 224h1v1h-1zM68 225h1v1h-1zM74 222h1v1h-1zM65 222h1v1h-1zM69 222h1v1h-1zM66 222h1v1h-1zM68 222h1v1h-1zM80 222h1v1h-1zM73 224h1v1h-1zM79 224h1v1h-1zM86 222h1v1h-1zM71 224h1v1h-1zM64 224h1v1h-1zM62 223h1v1h-1zM67 224h1v1h-1zM72 222h1v1h-1zM74 225h1v1h-1zM60 222h1v1h-1zM73 223h1v1h-1zM70 225h1v1h-1zM69 223h1v1h-1zM70 224h1v1h-1zM67 222h1v1h-1zM66 222h1v1h-1zM71 227h1v1h-1zM85 223h1v1h-1zM86 223h1v1h-1zM81 223h1v1h-1zM76 223h1v1h-1zM66 225h1v1h-1zM82 224h1v1h-1zM71 227h1v1h-1zM70 224h1v1h-1zM69 226h1v1h-1zM72 224h1v1h-1zM68 225h1v1h-1zM70 221h1v1h-1zM63 223h1v1h-1zM68 223h1v1h-1zM88 223h1v1h-1zM70 220h1v1h-1zM69 225h1v1h-1zM75 223h1v1h-1zM76 223h1v1h-1zM63 223h1v1h-1zM69 223h1v1h-1zM78 224h1v1h-1zM73 222h1v1h-1zM72 222h1v1h-1zM83 224h1v1h-1zM66 224h1v1h-1zM72 223h1v1h-1zM67 223h1v1h-1zM82 222h1v1h-1zM66 225h1v1h-1zM67 222h1v1h-1zM76 226h1v1h-1zM76 225h1v1h-1zM81 223h1v1h-1zM77 221h1v1h-1zM69 221h1v1h-1zM66 222h1v1h-1zM75 223h1v1h-1zM64 223h1v1h-1zM68 224h1v1h-1zM60 220h1v1h-1zM66 224h1v1h-1zM74 221h1v1h-1zM73 223h1v1h-1zM83 223h1v1h-1zM70 222h1v1h-1zM60 222h1v1h-1zM65 222h1v1h-1zM64 224h1v1h-1zM62 224h1v1h-1zM74 224h1v1h-1zM66 222h1v1h-1zM76 222h1v1h-1zM70 224h1v1h-1zM74 221h1v1h-1zM72 225h1v1h-1zM76 223h1v1h-1zM71 222h1v1h-1zM80 224h1v1h-1zM74 225h1v1h-1zM74 224h1v1h-1zM74 225h1v1h-1zM60 224h1v1h-1zM70 225h1v1h-1zM69 225h1v1h-1zM73 223h1v1h-1zM61 226h1v1h-1zM83 224h1v1h-1zM72 224h1v1h-1zM62 222h1v1h-1zM69 225h1v1h-1zM70 222h1v1h-1zM66 225h1v1h-1zM72 224h1v1h-1zM66 224h1v1h-1zM75 220h1v1h-1zM66 223h1v1h-1zM71 225h1v1h-1zM78 222h1v1h-1zM90 224h1v1h-1zM63 220h1v1h-1zM68 225h1v1h-1zM65 223h1v1h-1zM77 225h1v1h-1zM62 221h1v1h-1zM67 225h1v1h-1zM71 223h1v1h-1zM64 225h1v1h-1zM64 222h1v1h-1zM67 223h1v1h-1zM60 222h1v1h-1zM68 223h1v1h-1zM72 223h1v1h-1zM70 222h1v1h-1zM68 226h1v1h-1zM77 223h1v1h-1zM75 221h1v1h-1zM70 225h1v1h-1zM64 225h1v1h-1zM76 225h1v1h-1zM67 225h1v1h-1zM62 222h1v1h-1zM65 223h1v1h-1zM82 222h1v1h-1zM73 221h1v1h-1zM80 225h1v1h-1zM67 223h1v1h-1zM78 227h1v1h-1zM66 224h1v1h-1zM70 223h1v1h-1zM90 225h1v1h-1zM77 226h1v1h-1zM67 224h1v1h-1zM70 222h1v1h-1zM73 224h1v1h-1zM80 226h1v1h-1zM67 223h1v1h-1zM69 225h1v1h-1zM71 224h1v1h-1zM72 222h1v1h-1zM81 223h1v1h-1zM73 222h1v1h-1zM77 224h1v1h-1zM63 224h1v1h-1zM78 225h1v1h-1zM87 225h1v1h-1zM77 221h1v1h-1zM73 224h1v1h-1zM72 225h1v1h-1zM84 224h1v1h-1zM64 225h1v1h-1zM70 223h1v1h-1zM74 222h1v1h-1zM77 225h1v1h-1zM68 222h1v1h-1zM73 220h1v1h-1zM69 225h1v1h-1zM72 223h1v1h-1zM70 223h1v1h-1zM62 222h1v1h-1zM71 222h1v1h-1zM78 222h1v1h-1zM64 223h1v1h-1zM69 224h1v1h-1zM76 220h1v1h-1zM63 225h1v1h-1zM72 222h1v1h-1zM63 222h1v1h-1zM72 233h1v1h-1zM69 229h1v1h-1zM62 231h1v1h-1zM77 231h1v1h-1zM65 234h1v1h-1zM70 225h1v1h-1zM70 233h1v1h-1zM75 227h1v1h-1zM67 226h1v1h-1zM74 229h1v1h-1zM66 228h1v1h-1zM74 225h1v1h-1zM66 223h1v1h-1zM67 225h1v1h-1zM78 234h1v1h-1zM70 235h1v1h-1zM69 231h1v1h-1zM79 233h1v1h-1zM71 227h1v1h-1zM65 228h1v1h-1zM72 229h1v1h-1zM64 225h1v1h-1zM74 225h1v1h-1zM74 229h1v1h-1zM66 227h1v1h-1zM66 225h1v1h-1zM70 230h1v1h-1zM69 228h1v1h-1zM65 232h1v1h-1zM72 228h1v1h-1zM60 227h1v1h-1zM67 229h1v1h-1zM67 228h1v1h-1zM68 226h1v1h-1zM70 227h1v1h-1zM63 231h1v1h-1zM72 231h1v1h-1zM68 233h1v1h-1zM66 223h1v1h-1zM63 227h1v1h-1zM64 227h1v1h-1zM71 229h1v1h-1zM65 227h1v1h-1zM69 227h1v1h-1zM74 231h1v1h-1zM74 229h1v1h-1zM76 224h1v1h-1zM68 233h1v1h-1zM64 232h1v1h-1zM74 226h1v1h-1zM70 231h1v1h-1zM74 226h1v1h-1zM69 232h1v1h-1zM74 228h1v1h-1zM73 226h1v1h-1zM72 227h1v1h-1zM71 226h1v1h-1zM71 229h1v1h-1zM70 229h1v1h-1zM70 229h1v1h-1zM73 227h1v1h-1zM67 216h1v1h-1zM77 229h1v1h-1zM69 222h1v1h-1zM73 229h1v1h-1zM69 232h1v1h-1zM68 229h1v1h-1zM78 227h1v1h-1zM68 228h1v1h-1zM63 228h1v1h-1zM66 227h1v1h-1zM68 226h1v1h-1zM79 225h1v1h-1zM70 233h1v1h-1zM73 228h1v1h-1zM64 232h1v1h-1zM71 228h1v1h-1zM72 229h1v1h-1zM77 228h1v1h-1zM66 230h1v1h-1zM72 231h1v1h-1zM70 229h1v1h-1zM64 226h1v1h-1zM69 226h1v1h-1zM68 234h1v1h-1zM72 227h1v1h-1zM71 234h1v1h-1zM67 232h1v1h-1zM63 230h1v1h-1zM76 227h1v1h-1zM70 237h1v1h-1zM74 230h1v1h-1zM75 230h1v1h-1zM67 228h1v1h-1zM73 224h1v1h-1zM68 224h1v1h-1zM69 230h1v1h-1zM69 230h1v1h-1zM69 228h1v1h-1zM74 224h1v1h-1zM70 223h1v1h-1zM68 227h1v1h-1zM68 223h1v1h-1zM71 232h1v1h-1zM65 233h1v1h-1zM67 238h1v1h-1zM69 232h1v1h-1zM66 226h1v1h-1zM68 225h1v1h-1zM66 216h1v1h-1zM78 226h1v1h-1zM75 228h1v1h-1zM71 232h1v1h-1zM69 231h1v1h-1zM79 231h1v1h-1zM70 229h1v1h-1zM69 231h1v1h-1zM70 234h1v1h-1zM70 225h1v1h-1zM75 227h1v1h-1zM69 224h1v1h-1zM78 234h1v1h-1zM65 233h1v1h-1zM72 231h1v1h-1zM64 224h1v1h-1zM77 229h1v1h-1zM68 228h1v1h-1zM69 229h1v1h-1zM73 228h1v1h-1zM75 230h1v1h-1zM64 227h1v1h-1zM67 231h1v1h-1zM63 229h1v1h-1zM70 227h1v1h-1zM69 228h1v1h-1zM67 227h1v1h-1zM66 231h1v1h-1zM67 228h1v1h-1zM66 230h1v1h-1zM71 227h1v1h-1zM76 223h1v1h-1zM60 232h1v1h-1zM68 225h1v1h-1zM67 231h1v1h-1zM71 230h1v1h-1zM65 223h1v1h-1zM68 225h1v1h-1zM64 227h1v1h-1zM72 226h1v1h-1zM69 224h1v1h-1zM68 231h1v1h-1zM71 228h1v1h-1zM68 230h1v1h-1zM62 227h1v1h-1zM72 230h1v1h-1zM70 226h1v1h-1zM68 228h1v1h-1zM73 231h1v1h-1zM74 229h1v1h-1zM64 227h1v1h-1zM65 225h1v1h-1zM76 229h1v1h-1zM75 230h1v1h-1zM66 228h1v1h-1zM64 226h1v1h-1zM66 230h1v1h-1zM67 237h1v1h-1zM62 227h1v1h-1zM69 230h1v1h-1zM63 230h1v1h-1zM64 220h1v1h-1zM73 229h1v1h-1zM66 226h1v1h-1zM69 233h1v1h-1zM72 228h1v1h-1zM73 226h1v1h-1zM67 228h1v1h-1zM69 229h1v1h-1zM65 227h1v1h-1zM77 228h1v1h-1zM72 224h1v1h-1zM64 228h1v1h-1zM69 231h1v1h-1zM72 235h1v1h-1zM71 231h1v1h-1zM77 229h1v1h-1zM75 233h1v1h-1zM67 232h1v1h-1zM69 234h1v1h-1zM63 232h1v1h-1zM70 228h1v1h-1zM70 229h1v1h-1zM81 229h1v1h-1zM69 230h1v1h-1zM60 229h1v1h-1zM66 226h1v1h-1zM70 221h1v1h-1zM63 226h1v1h-1zM65 221h1v1h-1zM67 229h1v1h-1zM71 229h1v1h-1zM68 223h1v1h-1zM65 231h1v1h-1zM73 232h1v1h-1zM67 229h1v1h-1zM67 234h1v1h-1zM63 235h1v1h-1zM65 224h1v1h-1zM72 232h1v1h-1zM62 230h1v1h-1zM69 230h1v1h-1zM72 232h1v1h-1zM67 226h1v1h-1zM70 226h1v1h-1zM64 226h1v1h-1zM75 226h1v1h-1zM74 228h1v1h-1zM70 223h1v1h-1zM61 225h1v1h-1zM64 231h1v1h-1zM73 228h1v1h-1zM77 230h1v1h-1zM70 222h1v1h-1zM75 226h1v1h-1zM66 227h1v1h-1zM68 229h1v1h-1zM69 226h1v1h-1zM71 232h1v1h-1zM62 228h1v1h-1zM73 229h1v1h-1zM75 229h1v1h-1zM64 231h1v1h-1zM63 227h1v1h-1zM71 232h1v1h-1zM66 230h1v1h-1zM73 229h1v1h-1zM70 230h1v1h-1zM67 232h1v1h-1zM79 232h1v1h-1zM70 230h1v1h-1zM66 232h1v1h-1zM69 229h1v1h-1zM64 233h1v1h-1zM66 228h1v1h-1zM71 221h1v1h-1zM67 233h1v1h-1zM67 229h1v1h-1zM77 224h1v1h-1zM73 228h1v1h-1zM73 225h1v1h-1zM71 236h1v1h-1zM71 230h1v1h-1zM76 223h1v1h-1zM69 230h1v1h-1zM77 227h1v1h-1zM65 235h1v1h-1zM68 225h1v1h-1zM63 221h1v1h-1zM67 229h1v1h-1zM71 227h1v1h-1zM76 227h1v1h-1zM66 221h1v1h-1zM69 230h1v1h-1zM67 234h1v1h-1zM66 222h1v1h-1zM64 233h1v1h-1zM69 227h1v1h-1zM61 237h1v1h-1zM69 230h1v1h-1zM69 228h1v1h-1zM66 232h1v1h-1zM64 230h1v1h-1zM63 226h1v1h-1zM77 231h1v1h-1zM63 227h1v1h-1zM76 222h1v1h-1zM72 236h1v1h-1zM67 227h1v1h-1zM64 226h1v1h-1zM74 230h1v1h-1zM77 223h1v1h-1zM65 224h1v1h-1zM68 227h1v1h-1zM74 227h1v1h-1zM71 229h1v1h-1zM78 232h1v1h-1zM66 227h1v1h-1zM71 230h1v1h-1zM63 231h1v1h-1zM78 225h1v1h-1zM66 229h1v1h-1zM68 232h1v1h-1zM68 230h1v1h-1zM78 229h1v1h-1zM67 224h1v1h-1zM69 229h1v1h-1zM72 226h1v1h-1zM76 231h1v1h-1zM69 228h1v1h-1zM74 226h1v1h-1zM71 232h1v1h-1zM68 231h1v1h-1zM69 226h1v1h-1zM69 233h1v1h-1zM65 227h1v1h-1zM74 227h1v1h-1zM63 229h1v1h-1zM74 226h1v1h-1zM73 227h1v1h-1zM69 228h1v1h-1zM66 234h1v1h-1zM68 234h1v1h-1zM71 228h1v1h-1zM72 234h1v1h-1zM70 228h1v1h-1zM73 230h1v1h-1zM66 232h1v1h-1zM70 230h1v1h-1zM62 237h1v1h-1zM72 229h1v1h-1zM70 224h1v1h-1zM67 233h1v1h-1zM74 227h1v1h-1zM72 227h1v1h-1zM69 232h1v1h-1zM62 231h1v1h-1zM74 231h1v1h-1zM80 232h1v1h-1zM67 234h1v1h-1zM69 228h1v1h-1zM68 232h1v1h-1zM71 226h1v1h-1zM72 227h1v1h-1zM75 232h1v1h-1zM65 230h1v1h-1zM76 224h1v1h-1zM65 230h1v1h-1zM70 228h1v1h-1zM74 226h1v1h-1zM72 230h1v1h-1zM65 227h1v1h-1zM66 223h1v1h-1zM67 225h1v1h-1zM69 235h1v1h-1zM74 223h1v1h-1zM63 229h1v1h-1zM71 231h1v1h-1zM72 231h1v1h-1zM72 224h1v1h-1zM71 227h1v1h-1zM76 229h1v1h-1zM71 231h1v1h-1zM73 226h1v1h-1zM72 224h1v1h-1zM77 232h1v1h-1zM60 232h1v1h-1zM75 230h1v1h-1zM68 226h1v1h-1zM68 230h1v1h-1zM65 229h1v1h-1zM61 231h1v1h-1zM67 224h1v1h-1zM66 229h1v1h-1zM71 228h1v1h-1zM62 225h1v1h-1zM75 229h1v1h-1zM70 229h1v1h-1zM68 227h1v1h-1zM66 230h1v1h-1zM65 224h1v1h-1zM64 228h1v1h-1zM67 230h1v1h-1zM69 229h1v1h-1zM68 232h1v1h-1zM63 224h1v1h-1zM68 223h1v1h-1zM65 229h1v1h-1zM70 230h1v1h-1zM77 236h1v1h-1zM72 231h1v1h-1zM68 225h1v1h-1zM62 231h1v1h-1zM63 226h1v1h-1zM61 223h1v1h-1zM72 238h1v1h-1zM66 230h1v1h-1zM69 231h1v1h-1zM66 230h1v1h-1zM69 235h1v1h-1zM75 229h1v1h-1zM66 233h1v1h-1zM67 225h1v1h-1zM65 224h1v1h-1zM73 233h1v1h-1zM64 234h1v1h-1zM64 230h1v1h-1zM63 229h1v1h-1zM63 229h1v1h-1zM71 226h1v1h-1zM81 234h1v1h-1zM65 231h1v1h-1zM73 230h1v1h-1zM70 230h1v1h-1zM64 232h1v1h-1zM68 230h1v1h-1zM68 231h1v1h-1zM66 224h1v1h-1zM78 230h1v1h-1zM60 236h1v1h-1zM71 227h1v1h-1zM70 228h1v1h-1zM66 232h1v1h-1zM70 232h1v1h-1zM73 231h1v1h-1zM70 223h1v1h-1zM71 230h1v1h-1zM72 224h1v1h-1zM60 226h1v1h-1zM76 230h1v1h-1zM79 227h1v1h-1zM73 231h1v1h-1zM63 231h1v1h-1zM68 231h1v1h-1zM65 225h1v1h-1zM66 226h1v1h-1zM73 225h1v1h-1zM65 227h1v1h-1zM68 225h1v1h-1zM60 226h1v1h-1zM68 228h1v1h-1zM69 225h1v1h-1zM66 224h1v1h-1zM66 224h1v1h-1zM77 230h1v1h-1zM64 229h1v1h-1zM64 232h1v1h-1zM65 232h1v1h-1zM74 227h1v1h-1zM78 231h1v1h-1zM70 223h1v1h-1zM66 236h1v1h-1zM67 233h1v1h-1zM74 228h1v1h-1zM65 224h1v1h-1zM76 230h1v1h-1zM67 237h1v1h-1zM81 229h1v1h-1zM75 223h1v1h-1zM70 222h1v1h-1zM83 224h1v1h-1zM65 219h1v1h-1zM77 223h1v1h-1zM70 223h1v1h-1zM66 230h1v1h-1zM78 224h1v1h-1zM65 223h1v1h-1zM91 221h1v1h-1zM69 221h1v1h-1zM64 225h1v1h-1zM79 231h1v1h-1zM63 223h1v1h-1zM62 230h1v1h-1zM75 227h1v1h-1zM80 226h1v1h-1zM63 218h1v1h-1zM85 221h1v1h-1zM67 229h1v1h-1zM75 232h1v1h-1zM77 227h1v1h-1zM79 229h1v1h-1zM89 225h1v1h-1zM79 223h1v1h-1zM70 230h1v1h-1zM65 227h1v1h-1zM62 225h1v1h-1zM79 228h1v1h-1zM71 227h1v1h-1zM64 223h1v1h-1zM69 233h1v1h-1zM88 227h1v1h-1zM71 226h1v1h-1zM69 232h1v1h-1zM86 230h1v1h-1zM78 226h1v1h-1zM74 228h1v1h-1zM69 222h1v1h-1zM60 223h1v1h-1zM63 217h1v1h-1zM70 231h1v1h-1zM72 218h1v1h-1zM77 229h1v1h-1zM79 223h1v1h-1zM76 222h1v1h-1zM76 225h1v1h-1zM65 227h1v1h-1zM69 233h1v1h-1zM65 227h1v1h-1zM68 230h1v1h-1zM72 224h1v1h-1zM63 229h1v1h-1zM64 227h1v1h-1zM73 224h1v1h-1zM75 226h1v1h-1zM68 226h1v1h-1zM78 227h1v1h-1zM72 228h1v1h-1zM65 224h1v1h-1zM74 223h1v1h-1zM91 229h1v1h-1zM68 219h1v1h-1zM84 224h1v1h-1zM86 232h1v1h-1zM87 215h1v1h-1zM67 223h1v1h-1zM75 219h1v1h-1zM72 236h1v1h-1zM72 216h1v1h-1zM79 232h1v1h-1zM74 232h1v1h-1zM72 230h1v1h-1zM86 225h1v1h-1zM67 227h1v1h-1zM65 222h1v1h-1zM81 229h1v1h-1zM80 222h1v1h-1zM84 225h1v1h-1zM64 230h1v1h-1zM84 222h1v1h-1zM78 225h1v1h-1zM90 227h1v1h-1zM63 221h1v1h-1zM76 231h1v1h-1zM72 227h1v1h-1zM60 220h1v1h-1zM68 226h1v1h-1zM84 223h1v1h-1zM70 223h1v1h-1zM67 226h1v1h-1zM82 223h1v1h-1zM83 230h1v1h-1zM83 223h1v1h-1zM67 230h1v1h-1zM73 226h1v1h-1zM83 229h1v1h-1zM68 224h1v1h-1zM67 224h1v1h-1zM81 221h1v1h-1zM88 228h1v1h-1zM64 230h1v1h-1zM61 231h1v1h-1zM65 227h1v1h-1zM73 225h1v1h-1zM80 228h1v1h-1zM73 226h1v1h-1zM68 232h1v1h-1zM75 230h1v1h-1zM65 223h1v1h-1zM74 223h1v1h-1zM111 255h1v1h-1zM108 266h1v1h-1zM111 267h1v1h-1zM108 257h1v1h-1zM105 265h1v1h-1zM105 267h1v1h-1zM107 265h1v1h-1zM114 248h1v1h-1zM106 260h1v1h-1zM114 256h1v1h-1zM115 263h1v1h-1zM110 261h1v1h-1zM110 262h1v1h-1zM108 269h1v1h-1zM110 269h1v1h-1zM112 251h1v1h-1zM110 269h1v1h-1zM113 253h1v1h-1zM114 266h1v1h-1zM111 266h1v1h-1zM111 269h1v1h-1zM110 247h1v1h-1zM111 264h1v1h-1zM106 263h1v1h-1zM112 268h1v1h-1zM111 267h1v1h-1zM107 259h1v1h-1zM117 257h1v1h-1zM107 255h1v1h-1zM107 258h1v1h-1zM111 264h1v1h-1zM104 259h1v1h-1zM107 264h1v1h-1zM105 256h1v1h-1zM107 257h1v1h-1zM110 250h1v1h-1zM111 267h1v1h-1zM113 254h1v1h-1zM113 266h1v1h-1zM114 266h1v1h-1zM112 249h1v1h-1zM109 244h1v1h-1zM113 252h1v1h-1zM108 267h1v1h-1zM108 269h1v1h-1zM115 267h1v1h-1zM113 266h1v1h-1zM111 263h1v1h-1zM112 246h1v1h-1zM113 266h1v1h-1zM106 260h1v1h-1zM110 256h1v1h-1zM106 264h1v1h-1zM111 268h1v1h-1zM108 267h1v1h-1zM114 254h1v1h-1zM112 264h1v1h-1zM108 247h1v1h-1zM110 258h1v1h-1zM107 251h1v1h-1zM110 267h1v1h-1zM112 263h1v1h-1zM111 264h1v1h-1zM104 257h1v1h-1zM109 259h1v1h-1zM112 261h1v1h-1zM111 257h1v1h-1zM114 263h1v1h-1zM106 268h1v1h-1zM112 262h1v1h-1zM108 263h1v1h-1zM111 269h1v1h-1zM111 259h1v1h-1zM113 269h1v1h-1zM108 260h1v1h-1zM111 254h1v1h-1zM107 252h1v1h-1zM105 261h1v1h-1zM112 254h1v1h-1zM110 266h1v1h-1zM104 269h1v1h-1zM107 264h1v1h-1zM110 265h1v1h-1zM115 254h1v1h-1zM113 242h1v1h-1zM113 260h1v1h-1zM105 244h1v1h-1zM110 269h1v1h-1zM112 269h1v1h-1zM111 262h1v1h-1zM111 249h1v1h-1zM109 257h1v1h-1zM116 269h1v1h-1zM115 268h1v1h-1zM110 263h1v1h-1zM107 268h1v1h-1zM117 262h1v1h-1zM108 265h1v1h-1zM114 269h1v1h-1zM116 262h1v1h-1zM107 262h1v1h-1zM111 268h1v1h-1zM109 268h1v1h-1zM112 257h1v1h-1zM111 252h1v1h-1zM117 268h1v1h-1zM112 254h1v1h-1zM110 257h1v1h-1zM114 261h1v1h-1zM109 264h1v1h-1zM109 269h1v1h-1zM118 267h1v1h-1zM107 268h1v1h-1zM108 263h1v1h-1zM110 269h1v1h-1zM107 247h1v1h-1zM105 245h1v1h-1zM114 269h1v1h-1zM107 265h1v1h-1zM108 258h1v1h-1zM109 255h1v1h-1zM107 246h1v1h-1zM106 266h1v1h-1zM111 247h1v1h-1zM118 264h1v1h-1zM113 269h1v1h-1zM113 264h1v1h-1zM105 263h1v1h-1zM110 257h1v1h-1zM106 265h1v1h-1zM113 268h1v1h-1zM109 268h1v1h-1zM110 255h1v1h-1zM110 261h1v1h-1zM108 259h1v1h-1zM105 263h1v1h-1zM112 266h1v1h-1zM105 263h1v1h-1zM106 265h1v1h-1zM109 259h1v1h-1zM108 267h1v1h-1zM111 265h1v1h-1zM113 259h1v1h-1zM111 269h1v1h-1zM111 247h1v1h-1zM110 269h1v1h-1zM104 259h1v1h-1zM111 264h1v1h-1zM107 264h1v1h-1zM110 268h1v1h-1zM109 268h1v1h-1zM112 248h1v1h-1zM113 254h1v1h-1zM104 249h1v1h-1zM110 267h1v1h-1zM117 262h1v1h-1zM112 242h1v1h-1zM115 268h1v1h-1zM110 266h1v1h-1zM105 262h1v1h-1zM106 269h1v1h-1zM112 257h1v1h-1zM113 259h1v1h-1zM108 262h1v1h-1zM109 263h1v1h-1zM111 259h1v1h-1zM105 257h1v1h-1zM109 269h1v1h-1zM115 255h1v1h-1zM117 254h1v1h-1zM110 255h1v1h-1zM116 262h1v1h-1zM108 268h1v1h-1zM107 265h1v1h-1zM102 269h1v1h-1zM114 269h1v1h-1zM109 266h1v1h-1zM118 262h1v1h-1zM111 246h1v1h-1zM111 267h1v1h-1zM104 263h1v1h-1zM115 255h1v1h-1zM109 262h1v1h-1zM110 262h1v1h-1zM103 261h1v1h-1zM113 267h1v1h-1zM114 269h1v1h-1zM108 266h1v1h-1zM110 257h1v1h-1zM111 255h1v1h-1zM113 266h1v1h-1zM110 242h1v1h-1zM116 261h1v1h-1zM109 268h1v1h-1zM108 260h1v1h-1zM108 267h1v1h-1zM102 254h1v1h-1zM108 259h1v1h-1zM114 268h1v1h-1zM111 266h1v1h-1zM107 269h1v1h-1zM111 259h1v1h-1zM104 259h1v1h-1zM109 266h1v1h-1zM112 269h1v1h-1zM113 267h1v1h-1zM108 264h1v1h-1zM113 259h1v1h-1zM117 269h1v1h-1zM109 265h1v1h-1zM113 266h1v1h-1zM105 254h1v1h-1zM104 259h1v1h-1zM112 261h1v1h-1zM110 265h1v1h-1zM111 252h1v1h-1zM108 269h1v1h-1zM109 260h1v1h-1zM113 255h1v1h-1zM116 259h1v1h-1zM109 263h1v1h-1zM104 268h1v1h-1zM115 268h1v1h-1zM112 259h1v1h-1zM112 264h1v1h-1zM111 258h1v1h-1zM118 264h1v1h-1zM110 248h1v1h-1zM112 266h1v1h-1zM104 267h1v1h-1zM108 267h1v1h-1zM108 262h1v1h-1zM110 265h1v1h-1zM111 269h1v1h-1zM108 251h1v1h-1zM116 263h1v1h-1zM107 264h1v1h-1zM109 267h1v1h-1zM111 254h1v1h-1zM106 269h1v1h-1zM112 260h1v1h-1zM112 259h1v1h-1zM109 269h1v1h-1zM116 251h1v1h-1zM110 262h1v1h-1zM111 260h1v1h-1zM107 267h1v1h-1zM104 267h1v1h-1zM108 262h1v1h-1zM109 259h1v1h-1zM109 262h1v1h-1zM113 264h1v1h-1zM106 269h1v1h-1zM104 267h1v1h-1zM115 262h1v1h-1zM108 254h1v1h-1zM109 257h1v1h-1zM106 269h1v1h-1zM113 266h1v1h-1zM109 249h1v1h-1zM111 242h1v1h-1zM104 260h1v1h-1zM114 258h1v1h-1zM111 263h1v1h-1zM112 265h1v1h-1zM114 264h1v1h-1zM109 269h1v1h-1zM110 252h1v1h-1zM113 263h1v1h-1zM112 266h1v1h-1zM109 256h1v1h-1zM110 260h1v1h-1zM108 265h1v1h-1zM113 266h1v1h-1zM113 250h1v1h-1zM110 264h1v1h-1zM117 269h1v1h-1zM105 260h1v1h-1zM109 266h1v1h-1zM116 258h1v1h-1zM109 268h1v1h-1zM105 267h1v1h-1zM114 247h1v1h-1zM112 269h1v1h-1zM106 262h1v1h-1zM113 268h1v1h-1zM107 259h1v1h-1zM106 256h1v1h-1zM110 262h1v1h-1zM109 256h1v1h-1zM107 258h1v1h-1zM109 269h1v1h-1zM107 259h1v1h-1zM110 257h1v1h-1zM110 267h1v1h-1zM112 256h1v1h-1zM109 262h1v1h-1zM106 260h1v1h-1zM105 268h1v1h-1zM109 250h1v1h-1zM116 268h1v1h-1zM113 262h1v1h-1zM108 268h1v1h-1zM113 265h1v1h-1zM106 259h1v1h-1zM113 254h1v1h-1zM109 263h1v1h-1zM113 257h1v1h-1zM112 258h1v1h-1zM109 265h1v1h-1zM111 256h1v1h-1zM106 266h1v1h-1zM110 253h1v1h-1zM114 264h1v1h-1zM124 265h1v1h-1zM112 261h1v1h-1zM110 261h1v1h-1zM107 259h1v1h-1zM113 254h1v1h-1zM104 267h1v1h-1zM107 269h1v1h-1zM111 269h1v1h-1zM106 265h1v1h-1zM115 254h1v1h-1zM114 265h1v1h-1zM108 262h1v1h-1zM108 256h1v1h-1zM106 254h1v1h-1zM105 266h1v1h-1zM111 250h1v1h-1zM112 263h1v1h-1zM111 263h1v1h-1zM111 269h1v1h-1zM109 253h1v1h-1zM111 255h1v1h-1zM105 262h1v1h-1zM110 263h1v1h-1zM115 255h1v1h-1zM115 269h1v1h-1zM109 258h1v1h-1zM109 262h1v1h-1zM114 254h1v1h-1zM116 257h1v1h-1zM105 263h1v1h-1zM109 258h1v1h-1zM111 256h1v1h-1zM114 255h1v1h-1zM107 267h1v1h-1zM112 258h1v1h-1zM109 268h1v1h-1zM118 262h1v1h-1zM111 254h1v1h-1zM110 266h1v1h-1zM109 264h1v1h-1zM114 265h1v1h-1zM112 247h1v1h-1zM107 261h1v1h-1zM111 257h1v1h-1zM106 266h1v1h-1zM107 269h1v1h-1zM106 261h1v1h-1zM106 265h1v1h-1zM108 252h1v1h-1zM107 259h1v1h-1zM112 260h1v1h-1zM113 267h1v1h-1zM109 262h1v1h-1zM106 265h1v1h-1zM113 264h1v1h-1zM104 251h1v1h-1zM105 250h1v1h-1zM113 269h1v1h-1zM112 269h1v1h-1zM114 269h1v1h-1zM109 268h1v1h-1zM106 266h1v1h-1zM109 259h1v1h-1zM112 264h1v1h-1zM107 268h1v1h-1zM108 270h1v1h-1zM105 268h1v1h-1zM106 268h1v1h-1zM113 259h1v1h-1zM112 270h1v1h-1zM106 268h1v1h-1zM106 269h1v1h-1zM108 259h1v1h-1zM112 260h1v1h-1zM106 258h1v1h-1zM110 267h1v1h-1zM103 262h1v1h-1zM106 258h1v1h-1zM112 267h1v1h-1zM113 264h1v1h-1zM107 250h1v1h-1zM108 251h1v1h-1zM113 269h1v1h-1zM109 268h1v1h-1zM108 258h1v1h-1zM112 269h1v1h-1zM111 263h1v1h-1zM113 245h1v1h-1zM113 258h1v1h-1zM108 269h1v1h-1zM110 260h1v1h-1zM110 258h1v1h-1zM105 268h1v1h-1zM107 265h1v1h-1zM113 243h1v1h-1zM105 260h1v1h-1zM114 269h1v1h-1zM111 262h1v1h-1zM110 269h1v1h-1zM112 256h1v1h-1zM112 265h1v1h-1zM114 268h1v1h-1zM109 265h1v1h-1zM109 257h1v1h-1zM109 258h1v1h-1zM117 265h1v1h-1zM113 266h1v1h-1zM107 258h1v1h-1zM109 268h1v1h-1zM108 267h1v1h-1zM110 265h1v1h-1zM111 269h1v1h-1zM118 261h1v1h-1zM105 253h1v1h-1zM113 246h1v1h-1zM112 265h1v1h-1zM108 265h1v1h-1zM110 267h1v1h-1zM109 256h1v1h-1zM110 265h1v1h-1zM114 269h1v1h-1zM105 267h1v1h-1zM115 268h1v1h-1zM109 259h1v1h-1zM115 262h1v1h-1zM112 262h1v1h-1zM114 264h1v1h-1zM112 268h1v1h-1zM114 258h1v1h-1zM110 269h1v1h-1zM108 258h1v1h-1zM112 259h1v1h-1zM113 263h1v1h-1zM118 267h1v1h-1zM103 267h1v1h-1zM109 269h1v1h-1zM114 259h1v1h-1zM107 247h1v1h-1zM109 266h1v1h-1zM117 253h1v1h-1zM115 256h1v1h-1zM108 248h1v1h-1zM115 259h1v1h-1zM114 251h1v1h-1zM112 252h1v1h-1zM111 255h1v1h-1zM111 268h1v1h-1zM107 264h1v1h-1zM109 250h1v1h-1zM113 266h1v1h-1zM111 262h1v1h-1zM117 268h1v1h-1zM109 259h1v1h-1zM102 266h1v1h-1zM109 270h1v1h-1zM111 265h1v1h-1zM112 266h1v1h-1zM110 249h1v1h-1zM107 266h1v1h-1zM115 267h1v1h-1zM108 263h1v1h-1zM113 261h1v1h-1zM109 253h1v1h-1zM106 257h1v1h-1zM115 260h1v1h-1zM101 269h1v1h-1zM107 265h1v1h-1zM111 248h1v1h-1zM109 244h1v1h-1zM113 266h1v1h-1zM110 262h1v1h-1zM109 257h1v1h-1zM117 263h1v1h-1zM109 265h1v1h-1zM110 252h1v1h-1zM107 259h1v1h-1zM108 252h1v1h-1zM112 259h1v1h-1zM112 253h1v1h-1zM110 266h1v1h-1zM108 245h1v1h-1zM112 254h1v1h-1zM104 267h1v1h-1zM109 257h1v1h-1zM109 269h1v1h-1zM107 265h1v1h-1zM111 265h1v1h-1zM108 253h1v1h-1zM108 254h1v1h-1zM115 246h1v1h-1zM113 259h1v1h-1zM114 250h1v1h-1zM110 266h1v1h-1zM113 255h1v1h-1zM113 270h1v1h-1zM115 268h1v1h-1zM119 269h1v1h-1zM109 264h1v1h-1zM111 266h1v1h-1zM110 265h1v1h-1zM98 266h1v1h-1zM106 261h1v1h-1zM110 266h1v1h-1zM113 268h1v1h-1zM109 255h1v1h-1zM114 265h1v1h-1zM115 268h1v1h-1zM109 264h1v1h-1zM115 265h1v1h-1zM116 258h1v1h-1zM112 264h1v1h-1zM107 250h1v1h-1zM115 255h1v1h-1zM110 269h1v1h-1zM109 265h1v1h-1zM111 260h1v1h-1zM108 264h1v1h-1zM114 269h1v1h-1zM113 253h1v1h-1zM114 249h1v1h-1zM112 266h1v1h-1zM108 261h1v1h-1zM110 261h1v1h-1zM113 255h1v1h-1zM109 258h1v1h-1zM120 264h1v1h-1zM109 265h1v1h-1zM108 265h1v1h-1zM114 261h1v1h-1zM113 263h1v1h-1zM110 247h1v1h-1zM110 260h1v1h-1zM112 250h1v1h-1zM113 265h1v1h-1zM113 269h1v1h-1zM109 260h1v1h-1zM112 266h1v1h-1zM113 263h1v1h-1zM113 266h1v1h-1zM100 265h1v1h-1zM107 263h1v1h-1zM108 266h1v1h-1zM110 259h1v1h-1zM111 270h1v1h-1zM114 269h1v1h-1zM112 266h1v1h-1zM110 260h1v1h-1zM110 251h1v1h-1zM116 266h1v1h-1zM108 266h1v1h-1zM111 245h1v1h-1zM116 268h1v1h-1zM111 265h1v1h-1zM105 246h1v1h-1zM112 266h1v1h-1zM109 263h1v1h-1zM110 262h1v1h-1zM114 266h1v1h-1zM112 259h1v1h-1zM109 261h1v1h-1zM113 253h1v1h-1zM112 266h1v1h-1zM111 248h1v1h-1zM111 269h1v1h-1zM111 264h1v1h-1zM109 268h1v1h-1zM109 257h1v1h-1zM110 269h1v1h-1zM107 265h1v1h-1zM106 258h1v1h-1zM115 266h1v1h-1zM110 256h1v1h-1zM110 258h1v1h-1zM110 252h1v1h-1zM110 259h1v1h-1zM110 252h1v1h-1zM111 258h1v1h-1zM108 263h1v1h-1zM113 262h1v1h-1zM108 260h1v1h-1zM114 257h1v1h-1zM103 269h1v1h-1zM107 268h1v1h-1zM114 260h1v1h-1zM110 268h1v1h-1zM108 263h1v1h-1zM112 267h1v1h-1zM107 258h1v1h-1zM111 246h1v1h-1zM103 267h1v1h-1zM109 268h1v1h-1zM108 267h1v1h-1zM112 265h1v1h-1zM113 262h1v1h-1zM107 262h1v1h-1zM116 269h1v1h-1zM108 268h1v1h-1zM104 259h1v1h-1zM102 263h1v1h-1zM116 268h1v1h-1zM110 259h1v1h-1zM108 256h1v1h-1zM108 266h1v1h-1zM107 256h1v1h-1zM115 267h1v1h-1zM110 254h1v1h-1zM117 268h1v1h-1zM110 266h1v1h-1zM103 254h1v1h-1zM113 263h1v1h-1zM109 254h1v1h-1zM109 266h1v1h-1zM115 262h1v1h-1zM109 262h1v1h-1zM114 269h1v1h-1zM110 267h1v1h-1zM108 268h1v1h-1zM112 262h1v1h-1zM108 265h1v1h-1zM114 264h1v1h-1zM114 268h1v1h-1zM111 261h1v1h-1zM112 267h1v1h-1zM112 259h1v1h-1zM109 259h1v1h-1zM113 246h1v1h-1zM110 267h1v1h-1zM112 243h1v1h-1zM107 266h1v1h-1zM111 257h1v1h-1zM112 269h1v1h-1zM108 255h1v1h-1zM109 268h1v1h-1zM109 263h1v1h-1zM113 269h1v1h-1zM108 265h1v1h-1zM116 269h1v1h-1zM112 264h1v1h-1zM105 264h1v1h-1zM111 265h1v1h-1zM114 265h1v1h-1zM109 261h1v1h-1zM114 268h1v1h-1zM112 254h1v1h-1zM112 264h1v1h-1zM109 266h1v1h-1zM109 266h1v1h-1zM110 253h1v1h-1zM111 263h1v1h-1zM112 262h1v1h-1zM112 269h1v1h-1zM109 254h1v1h-1zM111 269h1v1h-1zM112 268h1v1h-1zM105 257h1v1h-1zM108 263h1v1h-1zM108 260h1v1h-1zM110 260h1v1h-1zM110 242h1v1h-1zM109 266h1v1h-1zM108 251h1v1h-1zM113 265h1v1h-1zM111 260h1v1h-1zM105 263h1v1h-1zM110 268h1v1h-1zM107 260h1v1h-1zM115 248h1v1h-1zM109 260h1v1h-1zM109 257h1v1h-1zM111 255h1v1h-1zM110 257h1v1h-1zM110 258h1v1h-1zM116 267h1v1h-1zM111 267h1v1h-1zM113 266h1v1h-1zM114 256h1v1h-1zM107 261h1v1h-1zM116 269h1v1h-1zM113 264h1v1h-1zM114 262h1v1h-1zM107 264h1v1h-1zM113 262h1v1h-1zM112 259h1v1h-1zM109 257h1v1h-1zM118 260h1v1h-1zM112 264h1v1h-1zM110 263h1v1h-1zM113 260h1v1h-1zM114 267h1v1h-1zM112 269h1v1h-1zM115 266h1v1h-1zM115 254h1v1h-1zM106 264h1v1h-1zM109 262h1v1h-1zM108 254h1v1h-1zM111 263h1v1h-1zM115 260h1v1h-1zM112 254h1v1h-1zM107 260h1v1h-1zM110 247h1v1h-1zM114 269h1v1h-1zM109 260h1v1h-1zM110 259h1v1h-1zM111 251h1v1h-1zM105 254h1v1h-1zM113 252h1v1h-1zM112 267h1v1h-1zM112 253h1v1h-1zM107 265h1v1h-1zM108 252h1v1h-1zM108 264h1v1h-1zM111 259h1v1h-1zM111 247h1v1h-1zM111 251h1v1h-1zM116 262h1v1h-1zM115 267h1v1h-1zM108 264h1v1h-1zM108 266h1v1h-1zM116 260h1v1h-1zM109 267h1v1h-1zM114 242h1v1h-1zM116 268h1v1h-1zM108 269h1v1h-1zM111 261h1v1h-1zM107 264h1v1h-1zM107 263h1v1h-1zM109 256h1v1h-1zM113 263h1v1h-1zM109 249h1v1h-1zM110 254h1v1h-1zM109 263h1v1h-1zM106 257h1v1h-1zM116 269h1v1h-1zM103 259h1v1h-1zM108 264h1v1h-1zM112 265h1v1h-1zM106 260h1v1h-1zM112 263h1v1h-1zM115 269h1v1h-1zM108 259h1v1h-1zM111 260h1v1h-1zM107 257h1v1h-1zM112 257h1v1h-1zM111 259h1v1h-1zM111 258h1v1h-1zM115 267h1v1h-1zM112 260h1v1h-1zM114 250h1v1h-1zM112 262h1v1h-1zM106 261h1v1h-1zM111 260h1v1h-1zM112 262h1v1h-1zM106 263h1v1h-1zM114 253h1v1h-1zM111 254h1v1h-1zM111 244h1v1h-1zM107 266h1v1h-1zM111 267h1v1h-1zM111 259h1v1h-1zM109 269h1v1h-1zM111 269h1v1h-1zM104 258h1v1h-1zM115 259h1v1h-1zM107 258h1v1h-1zM103 264h1v1h-1zM107 254h1v1h-1zM108 258h1v1h-1zM112 258h1v1h-1zM107 260h1v1h-1zM111 252h1v1h-1zM107 265h1v1h-1zM117 257h1v1h-1zM112 261h1v1h-1zM117 269h1v1h-1zM107 264h1v1h-1zM112 244h1v1h-1zM107 266h1v1h-1zM112 265h1v1h-1zM112 257h1v1h-1zM105 263h1v1h-1zM107 261h1v1h-1zM107 259h1v1h-1zM105 270h1v1h-1zM108 262h1v1h-1zM108 244h1v1h-1zM106 252h1v1h-1zM111 261h1v1h-1zM112 259h1v1h-1zM107 248h1v1h-1zM109 251h1v1h-1zM110 263h1v1h-1zM110 264h1v1h-1zM108 265h1v1h-1zM113 257h1v1h-1zM113 266h1v1h-1zM112 258h1v1h-1zM117 267h1v1h-1zM116 259h1v1h-1zM109 266h1v1h-1zM110 267h1v1h-1zM114 254h1v1h-1zM108 251h1v1h-1zM112 258h1v1h-1zM110 260h1v1h-1zM108 257h1v1h-1zM110 265h1v1h-1zM105 264h1v1h-1zM108 265h1v1h-1zM104 257h1v1h-1zM118 265h1v1h-1zM116 267h1v1h-1zM115 266h1v1h-1zM111 264h1v1h-1zM113 255h1v1h-1zM115 268h1v1h-1zM113 263h1v1h-1zM107 269h1v1h-1zM112 259h1v1h-1zM108 266h1v1h-1zM106 267h1v1h-1zM107 262h1v1h-1zM112 262h1v1h-1zM114 265h1v1h-1zM106 263h1v1h-1zM116 261h1v1h-1zM115 263h1v1h-1zM109 264h1v1h-1zM109 251h1v1h-1zM110 263h1v1h-1zM114 262h1v1h-1zM109 266h1v1h-1zM107 265h1v1h-1zM111 256h1v1h-1zM104 258h1v1h-1zM111 263h1v1h-1zM114 268h1v1h-1zM111 255h1v1h-1zM113 251h1v1h-1zM112 265h1v1h-1zM112 254h1v1h-1zM111 266h1v1h-1zM108 247h1v1h-1zM110 253h1v1h-1zM110 269h1v1h-1zM115 268h1v1h-1zM116 269h1v1h-1zM112 263h1v1h-1zM108 264h1v1h-1zM108 252h1v1h-1zM110 258h1v1h-1zM115 264h1v1h-1zM111 264h1v1h-1zM110 251h1v1h-1zM108 259h1v1h-1zM113 266h1v1h-1zM111 249h1v1h-1zM110 268h1v1h-1zM111 264h1v1h-1zM116 269h1v1h-1zM110 256h1v1h-1zM116 261h1v1h-1zM114 256h1v1h-1zM110 267h1v1h-1zM113 261h1v1h-1zM110 258h1v1h-1zM108 262h1v1h-1zM109 267h1v1h-1zM107 264h1v1h-1zM112 264h1v1h-1zM110 268h1v1h-1zM112 246h1v1h-1zM113 267h1v1h-1zM100 260h1v1h-1zM111 265h1v1h-1zM104 269h1v1h-1zM111 251h1v1h-1zM107 269h1v1h-1zM111 256h1v1h-1zM114 247h1v1h-1zM105 256h1v1h-1zM111 262h1v1h-1zM110 269h1v1h-1zM104 263h1v1h-1zM113 268h1v1h-1zM110 263h1v1h-1zM109 261h1v1h-1zM108 259h1v1h-1zM121 259h1v1h-1zM109 250h1v1h-1zM105 258h1v1h-1zM108 251h1v1h-1zM109 255h1v1h-1zM109 257h1v1h-1zM110 267h1v1h-1zM107 267h1v1h-1zM112 257h1v1h-1zM109 256h1v1h-1zM106 264h1v1h-1zM108 255h1v1h-1zM109 265h1v1h-1zM113 270h1v1h-1zM112 265h1v1h-1zM109 254h1v1h-1zM110 261h1v1h-1zM111 268h1v1h-1zM117 263h1v1h-1zM108 266h1v1h-1zM112 268h1v1h-1zM113 259h1v1h-1zM107 254h1v1h-1zM111 261h1v1h-1zM111 256h1v1h-1zM109 265h1v1h-1zM112 266h1v1h-1zM114 266h1v1h-1zM114 266h1v1h-1zM110 264h1v1h-1zM111 251h1v1h-1zM119 267h1v1h-1zM107 259h1v1h-1zM111 264h1v1h-1zM113 249h1v1h-1zM111 269h1v1h-1zM112 256h1v1h-1zM111 265h1v1h-1zM113 264h1v1h-1zM115 262h1v1h-1zM110 268h1v1h-1zM111 249h1v1h-1zM110 257h1v1h-1zM109 252h1v1h-1zM110 259h1v1h-1zM106 267h1v1h-1zM113 260h1v1h-1zM116 263h1v1h-1zM116 266h1v1h-1zM114 251h1v1h-1zM107 266h1v1h-1zM115 258h1v1h-1zM110 267h1v1h-1zM117 268h1v1h-1zM107 257h1v1h-1zM113 264h1v1h-1zM111 255h1v1h-1zM110 259h1v1h-1zM107 267h1v1h-1zM112 263h1v1h-1zM109 262h1v1h-1zM114 264h1v1h-1zM114 255h1v1h-1zM106 259h1v1h-1zM109 250h1v1h-1zM109 265h1v1h-1zM107 257h1v1h-1zM106 265h1v1h-1zM111 260h1v1h-1zM110 261h1v1h-1zM105 260h1v1h-1zM109 262h1v1h-1zM112 253h1v1h-1zM107 255h1v1h-1zM107 264h1v1h-1zM116 267h1v1h-1zM115 260h1v1h-1zM105 267h1v1h-1zM106 257h1v1h-1zM111 254h1v1h-1zM106 260h1v1h-1zM110 255h1v1h-1zM109 260h1v1h-1zM112 250h1v1h-1zM103 246h1v1h-1zM102 269h1v1h-1zM106 267h1v1h-1zM114 262h1v1h-1zM110 258h1v1h-1zM106 246h1v1h-1zM112 269h1v1h-1zM112 245h1v1h-1zM109 265h1v1h-1zM109 269h1v1h-1zM112 262h1v1h-1zM114 261h1v1h-1zM111 269h1v1h-1zM112 259h1v1h-1zM110 267h1v1h-1zM109 266h1v1h-1zM107 266h1v1h-1zM111 266h1v1h-1zM109 269h1v1h-1zM110 254h1v1h-1zM113 262h1v1h-1zM112 267h1v1h-1zM113 243h1v1h-1zM105 262h1v1h-1zM112 261h1v1h-1zM108 260h1v1h-1zM108 248h1v1h-1zM108 257h1v1h-1zM114 259h1v1h-1zM113 258h1v1h-1zM108 265h1v1h-1zM106 267h1v1h-1zM110 256h1v1h-1zM109 269h1v1h-1zM116 268h1v1h-1zM105 264h1v1h-1zM105 252h1v1h-1zM109 258h1v1h-1zM110 269h1v1h-1zM111 254h1v1h-1zM113 261h1v1h-1zM117 263h1v1h-1zM109 262h1v1h-1zM109 260h1v1h-1zM104 266h1v1h-1zM111 266h1v1h-1zM113 262h1v1h-1zM109 264h1v1h-1zM114 260h1v1h-1zM110 266h1v1h-1zM114 244h1v1h-1zM111 256h1v1h-1zM107 264h1v1h-1zM108 258h1v1h-1zM105 268h1v1h-1zM105 261h1v1h-1zM111 255h1v1h-1zM113 264h1v1h-1zM116 258h1v1h-1zM110 254h1v1h-1zM109 269h1v1h-1zM107 258h1v1h-1zM113 258h1v1h-1zM112 268h1v1h-1zM108 262h1v1h-1zM113 268h1v1h-1zM112 261h1v1h-1zM104 258h1v1h-1zM113 259h1v1h-1zM111 256h1v1h-1zM109 264h1v1h-1zM109 258h1v1h-1zM116 268h1v1h-1zM115 254h1v1h-1zM117 270h1v1h-1zM106 266h1v1h-1zM108 267h1v1h-1zM113 264h1v1h-1zM106 266h1v1h-1zM108 270h1v1h-1zM105 254h1v1h-1zM117 269h1v1h-1zM114 260h1v1h-1zM112 265h1v1h-1zM111 269h1v1h-1zM109 267h1v1h-1zM109 251h1v1h-1zM112 252h1v1h-1zM108 266h1v1h-1zM114 264h1v1h-1zM109 266h1v1h-1zM107 260h1v1h-1zM114 255h1v1h-1zM110 264h1v1h-1zM112 269h1v1h-1zM109 258h1v1h-1zM103 259h1v1h-1zM112 264h1v1h-1zM106 267h1v1h-1zM114 267h1v1h-1zM105 270h1v1h-1zM104 268h1v1h-1zM111 263h1v1h-1zM112 267h1v1h-1zM111 266h1v1h-1zM106 266h1v1h-1zM113 264h1v1h-1zM106 258h1v1h-1zM109 264h1v1h-1zM108 265h1v1h-1zM109 267h1v1h-1zM113 265h1v1h-1zM109 245h1v1h-1zM112 261h1v1h-1zM113 267h1v1h-1zM104 267h1v1h-1zM107 257h1v1h-1zM109 268h1v1h-1zM109 250h1v1h-1zM111 259h1v1h-1zM104 263h1v1h-1zM113 263h1v1h-1zM113 268h1v1h-1zM110 259h1v1h-1zM105 268h1v1h-1zM110 265h1v1h-1zM108 268h1v1h-1zM112 260h1v1h-1zM110 266h1v1h-1zM113 262h1v1h-1zM109 247h1v1h-1zM115 256h1v1h-1zM104 244h1v1h-1zM107 255h1v1h-1zM112 266h1v1h-1zM105 260h1v1h-1zM113 267h1v1h-1zM106 259h1v1h-1zM111 262h1v1h-1zM107 264h1v1h-1zM109 259h1v1h-1zM111 255h1v1h-1zM110 247h1v1h-1zM109 266h1v1h-1zM117 262h1v1h-1zM110 254h1v1h-1zM107 263h1v1h-1zM114 267h1v1h-1zM113 258h1v1h-1zM114 253h1v1h-1zM116 258h1v1h-1zM108 247h1v1h-1zM114 263h1v1h-1zM114 264h1v1h-1zM110 269h1v1h-1zM111 257h1v1h-1zM100 264h1v1h-1zM108 265h1v1h-1zM116 262h1v1h-1zM109 262h1v1h-1zM111 265h1v1h-1zM112 252h1v1h-1zM115 255h1v1h-1zM105 257h1v1h-1zM110 265h1v1h-1zM113 262h1v1h-1zM106 262h1v1h-1zM110 266h1v1h-1zM116 250h1v1h-1zM114 253h1v1h-1zM112 261h1v1h-1zM101 265h1v1h-1zM110 263h1v1h-1zM112 261h1v1h-1zM109 258h1v1h-1zM110 266h1v1h-1zM120 262h1v1h-1zM110 267h1v1h-1zM107 252h1v1h-1zM111 256h1v1h-1zM109 261h1v1h-1zM109 268h1v1h-1zM110 260h1v1h-1zM113 263h1v1h-1zM111 260h1v1h-1zM106 259h1v1h-1zM110 265h1v1h-1zM112 259h1v1h-1zM109 268h1v1h-1zM114 254h1v1h-1zM113 250h1v1h-1zM107 268h1v1h-1zM111 254h1v1h-1zM117 265h1v1h-1zM115 262h1v1h-1zM110 249h1v1h-1zM113 266h1v1h-1zM108 254h1v1h-1zM106 253h1v1h-1zM112 260h1v1h-1zM111 267h1v1h-1zM112 268h1v1h-1zM110 270h1v1h-1zM111 266h1v1h-1zM109 251h1v1h-1zM112 249h1v1h-1zM113 269h1v1h-1zM110 262h1v1h-1zM113 257h1v1h-1zM104 265h1v1h-1zM108 265h1v1h-1zM115 265h1v1h-1zM116 262h1v1h-1zM111 258h1v1h-1zM110 265h1v1h-1zM106 269h1v1h-1zM111 254h1v1h-1zM113 266h1v1h-1zM105 260h1v1h-1zM112 263h1v1h-1zM112 257h1v1h-1zM112 247h1v1h-1zM107 249h1v1h-1zM112 254h1v1h-1zM105 264h1v1h-1zM116 269h1v1h-1zM111 269h1v1h-1zM106 269h1v1h-1zM115 262h1v1h-1zM114 264h1v1h-1zM108 256h1v1h-1zM117 256h1v1h-1zM108 246h1v1h-1zM111 244h1v1h-1zM114 268h1v1h-1zM104 254h1v1h-1zM114 264h1v1h-1zM110 260h1v1h-1zM110 270h1v1h-1zM107 260h1v1h-1zM111 256h1v1h-1zM107 260h1v1h-1zM107 261h1v1h-1zM109 267h1v1h-1zM106 257h1v1h-1zM115 254h1v1h-1zM106 266h1v1h-1zM108 254h1v1h-1zM109 265h1v1h-1zM110 250h1v1h-1zM113 262h1v1h-1zM113 267h1v1h-1zM110 243h1v1h-1zM109 258h1v1h-1zM110 260h1v1h-1zM113 263h1v1h-1zM113 269h1v1h-1zM108 269h1v1h-1zM104 253h1v1h-1zM117 259h1v1h-1zM114 264h1v1h-1zM111 252h1v1h-1zM111 264h1v1h-1zM109 265h1v1h-1zM107 265h1v1h-1zM109 258h1v1h-1zM110 266h1v1h-1zM108 258h1v1h-1zM105 268h1v1h-1zM109 263h1v1h-1zM112 264h1v1h-1zM109 266h1v1h-1zM110 252h1v1h-1zM104 259h1v1h-1zM110 268h1v1h-1zM110 259h1v1h-1zM107 247h1v1h-1zM105 251h1v1h-1zM111 246h1v1h-1zM108 260h1v1h-1zM112 258h1v1h-1zM109 263h1v1h-1zM113 269h1v1h-1zM109 268h1v1h-1zM105 261h1v1h-1zM110 266h1v1h-1zM109 265h1v1h-1zM113 268h1v1h-1zM109 246h1v1h-1zM109 265h1v1h-1zM113 255h1v1h-1zM114 265h1v1h-1zM113 268h1v1h-1zM114 263h1v1h-1zM112 264h1v1h-1zM113 257h1v1h-1zM113 267h1v1h-1zM112 258h1v1h-1zM111 263h1v1h-1zM117 248h1v1h-1zM110 250h1v1h-1zM110 261h1v1h-1zM109 262h1v1h-1zM110 249h1v1h-1zM111 260h1v1h-1zM106 265h1v1h-1zM104 261h1v1h-1zM111 262h1v1h-1zM106 252h1v1h-1zM111 256h1v1h-1zM111 254h1v1h-1zM114 257h1v1h-1zM116 260h1v1h-1zM111 255h1v1h-1zM109 257h1v1h-1zM107 259h1v1h-1zM108 267h1v1h-1zM110 266h1v1h-1zM104 260h1v1h-1zM111 262h1v1h-1zM110 255h1v1h-1zM112 264h1v1h-1zM109 269h1v1h-1zM111 259h1v1h-1zM108 267h1v1h-1zM109 250h1v1h-1zM104 263h1v1h-1zM111 269h1v1h-1zM115 255h1v1h-1zM111 262h1v1h-1zM111 260h1v1h-1zM107 257h1v1h-1zM115 265h1v1h-1zM108 264h1v1h-1zM113 268h1v1h-1zM111 269h1v1h-1zM107 256h1v1h-1zM114 260h1v1h-1zM110 254h1v1h-1zM111 269h1v1h-1zM112 269h1v1h-1zM110 262h1v1h-1zM109 267h1v1h-1zM112 262h1v1h-1zM109 264h1v1h-1zM110 250h1v1h-1zM108 269h1v1h-1zM105 263h1v1h-1zM108 265h1v1h-1zM109 258h1v1h-1zM110 264h1v1h-1zM114 258h1v1h-1zM105 258h1v1h-1zM111 262h1v1h-1zM103 264h1v1h-1zM107 265h1v1h-1zM109 257h1v1h-1zM102 269h1v1h-1zM105 251h1v1h-1zM111 264h1v1h-1zM111 264h1v1h-1zM110 264h1v1h-1zM107 268h1v1h-1zM118 267h1v1h-1zM110 261h1v1h-1zM107 268h1v1h-1zM116 264h1v1h-1zM112 262h1v1h-1zM109 268h1v1h-1zM114 266h1v1h-1zM111 266h1v1h-1zM112 265h1v1h-1zM111 266h1v1h-1zM107 258h1v1h-1zM113 261h1v1h-1zM111 265h1v1h-1zM107 255h1v1h-1zM108 268h1v1h-1zM114 268h1v1h-1zM109 258h1v1h-1zM110 265h1v1h-1zM113 267h1v1h-1zM111 262h1v1h-1zM105 264h1v1h-1zM113 267h1v1h-1zM113 251h1v1h-1zM113 254h1v1h-1zM116 263h1v1h-1zM112 267h1v1h-1zM113 258h1v1h-1zM116 264h1v1h-1zM109 269h1v1h-1zM116 268h1v1h-1zM116 263h1v1h-1zM113 269h1v1h-1zM117 267h1v1h-1zM113 267h1v1h-1zM108 254h1v1h-1zM114 266h1v1h-1zM111 251h1v1h-1zM112 258h1v1h-1zM111 252h1v1h-1zM115 260h1v1h-1zM112 264h1v1h-1zM110 261h1v1h-1zM101 264h1v1h-1zM107 261h1v1h-1zM109 261h1v1h-1zM118 264h1v1h-1zM111 265h1v1h-1zM108 262h1v1h-1zM115 265h1v1h-1zM108 257h1v1h-1zM109 247h1v1h-1zM110 255h1v1h-1zM101 257h1v1h-1zM114 256h1v1h-1zM111 254h1v1h-1zM107 265h1v1h-1zM103 261h1v1h-1zM110 266h1v1h-1zM116 268h1v1h-1zM105 264h1v1h-1zM103 264h1v1h-1zM111 266h1v1h-1zM101 255h1v1h-1zM97 263h1v1h-1zM106 269h1v1h-1zM105 268h1v1h-1zM107 266h1v1h-1zM106 261h1v1h-1zM111 262h1v1h-1zM108 268h1v1h-1zM106 250h1v1h-1zM107 243h1v1h-1zM112 246h1v1h-1zM114 251h1v1h-1zM113 248h1v1h-1zM113 264h1v1h-1zM103 264h1v1h-1zM107 250h1v1h-1zM110 247h1v1h-1zM100 258h1v1h-1zM110 262h1v1h-1zM106 261h1v1h-1zM110 263h1v1h-1zM107 264h1v1h-1zM105 254h1v1h-1zM111 254h1v1h-1zM107 242h1v1h-1zM101 263h1v1h-1zM105 269h1v1h-1zM108 262h1v1h-1zM103 268h1v1h-1zM116 267h1v1h-1zM103 265h1v1h-1zM118 255h1v1h-1zM113 253h1v1h-1zM104 261h1v1h-1zM110 266h1v1h-1zM114 245h1v1h-1zM108 257h1v1h-1zM103 248h1v1h-1zM109 264h1v1h-1zM120 269h1v1h-1zM101 254h1v1h-1zM112 269h1v1h-1zM109 244h1v1h-1zM108 266h1v1h-1zM107 250h1v1h-1zM107 265h1v1h-1zM114 256h1v1h-1zM112 265h1v1h-1zM104 253h1v1h-1zM117 264h1v1h-1zM102 265h1v1h-1zM112 255h1v1h-1zM110 246h1v1h-1zM115 261h1v1h-1zM111 266h1v1h-1zM115 268h1v1h-1zM109 266h1v1h-1zM114 255h1v1h-1zM111 268h1v1h-1zM120 265h1v1h-1zM105 265h1v1h-1zM115 255h1v1h-1zM111 269h1v1h-1zM110 249h1v1h-1zM106 258h1v1h-1zM111 258h1v1h-1zM101 267h1v1h-1zM102 265h1v1h-1zM113 263h1v1h-1zM101 257h1v1h-1zM116 249h1v1h-1zM108 248h1v1h-1zM110 266h1v1h-1zM109 266h1v1h-1zM111 244h1v1h-1zM107 269h1v1h-1zM107 263h1v1h-1zM108 269h1v1h-1zM114 255h1v1h-1zM115 263h1v1h-1zM116 265h1v1h-1zM111 267h1v1h-1zM108 266h1v1h-1zM100 255h1v1h-1zM112 245h1v1h-1zM114 268h1v1h-1zM107 265h1v1h-1zM113 266h1v1h-1zM115 246h1v1h-1zM109 260h1v1h-1zM114 260h1v1h-1zM111 267h1v1h-1zM100 264h1v1h-1zM107 250h1v1h-1zM107 265h1v1h-1zM111 248h1v1h-1zM104 259h1v1h-1zM107 266h1v1h-1zM104 269h1v1h-1zM109 269h1v1h-1zM109 268h1v1h-1zM113 244h1v1h-1zM113 264h1v1h-1zM110 255h1v1h-1zM110 263h1v1h-1zM109 262h1v1h-1zM110 268h1v1h-1zM117 263h1v1h-1zM96 260h1v1h-1zM108 249h1v1h-1zM111 269h1v1h-1zM115 266h1v1h-1zM103 267h1v1h-1zM111 267h1v1h-1zM113 252h1v1h-1zM107 263h1v1h-1zM99 256h1v1h-1zM102 265h1v1h-1zM112 256h1v1h-1zM105 246h1v1h-1zM119 269h1v1h-1zM110 249h1v1h-1zM105 262h1v1h-1zM106 263h1v1h-1zM104 249h1v1h-1zM111 263h1v1h-1zM116 257h1v1h-1zM108 255h1v1h-1zM114 261h1v1h-1zM104 257h1v1h-1zM121 256h1v1h-1zM101 269h1v1h-1zM115 253h1v1h-1zM115 253h1v1h-1zM99 264h1v1h-1zM101 258h1v1h-1zM104 268h1v1h-1zM114 269h1v1h-1zM107 267h1v1h-1zM108 247h1v1h-1zM113 257h1v1h-1zM110 258h1v1h-1zM110 265h1v1h-1zM107 269h1v1h-1zM115 266h1v1h-1zM105 250h1v1h-1zM118 264h1v1h-1zM107 269h1v1h-1zM105 264h1v1h-1zM112 252h1v1h-1zM111 263h1v1h-1zM98 268h1v1h-1zM110 267h1v1h-1zM102 268h1v1h-1zM105 260h1v1h-1zM113 264h1v1h-1zM104 266h1v1h-1zM111 261h1v1h-1zM107 267h1v1h-1zM120 269h1v1h-1zM108 263h1v1h-1zM103 249h1v1h-1zM103 254h1v1h-1zM104 255h1v1h-1zM110 259h1v1h-1zM109 269h1v1h-1zM114 256h1v1h-1zM110 269h1v1h-1zM110 259h1v1h-1zM110 256h1v1h-1zM108 267h1v1h-1zM110 268h1v1h-1zM113 268h1v1h-1zM113 257h1v1h-1zM106 259h1v1h-1zM79 260h1v1h-1zM83 259h1v1h-1zM87 253h1v1h-1zM76 258h1v1h-1zM84 247h1v1h-1zM84 258h1v1h-1zM82 245h1v1h-1zM85 263h1v1h-1zM92 249h1v1h-1zM91 260h1v1h-1zM82 254h1v1h-1zM82 246h1v1h-1zM85 262h1v1h-1zM82 261h1v1h-1zM87 264h1v1h-1zM86 260h1v1h-1zM91 260h1v1h-1zM87 257h1v1h-1zM85 259h1v1h-1zM83 251h1v1h-1zM85 243h1v1h-1zM87 260h1v1h-1zM86 262h1v1h-1zM87 259h1v1h-1zM86 250h1v1h-1zM83 257h1v1h-1zM84 254h1v1h-1zM88 250h1v1h-1zM86 258h1v1h-1zM82 255h1v1h-1zM83 254h1v1h-1zM83 264h1v1h-1zM86 250h1v1h-1zM69 241h1v1h-1zM74 267h1v1h-1zM90 257h1v1h-1zM63 258h1v1h-1zM88 258h1v1h-1zM71 242h1v1h-1zM70 249h1v1h-1zM91 243h1v1h-1zM72 259h1v1h-1zM67 265h1v1h-1zM66 260h1v1h-1zM82 264h1v1h-1zM80 250h1v1h-1zM67 241h1v1h-1zM75 252h1v1h-1zM68 245h1v1h-1zM86 249h1v1h-1zM71 247h1v1h-1zM79 246h1v1h-1zM89 261h1v1h-1zM67 258h1v1h-1zM90 264h1v1h-1zM75 269h1v1h-1zM80 247h1v1h-1zM68 268h1v1h-1zM82 263h1v1h-1zM83 257h1v1h-1zM78 269h1v1h-1zM87 255h1v1h-1zM74 241h1v1h-1zM98 253h1v1h-1zM105 264h1v1h-1zM121 257h1v1h-1zM116 260h1v1h-1zM120 268h1v1h-1zM93 251h1v1h-1zM103 246h1v1h-1zM115 252h1v1h-1zM119 257h1v1h-1zM110 244h1v1h-1zM101 242h1v1h-1zM105 262h1v1h-1zM124 269h1v1h-1zM122 268h1v1h-1zM103 251h1v1h-1zM131 254h1v1h-1zM94 265h1v1h-1zM102 269h1v1h-1zM119 227h1v1h-1zM104 227h1v1h-1zM117 229h1v1h-1zM107 223h1v1h-1zM100 227h1v1h-1zM108 228h1v1h-1zM175 225h1v1h-1zM172 224h1v1h-1zM171 223h1v1h-1zM181 225h1v1h-1zM181 223h1v1h-1zM172 220h1v1h-1zM169 225h1v1h-1zM183 223h1v1h-1zM168 222h1v1h-1zM178 222h1v1h-1zM172 224h1v1h-1zM167 222h1v1h-1zM177 225h1v1h-1zM176 223h1v1h-1zM185 226h1v1h-1zM189 223h1v1h-1zM176 223h1v1h-1zM182 220h1v1h-1zM182 222h1v1h-1zM174 225h1v1h-1zM172 229h1v1h-1zM186 222h1v1h-1zM175 222h1v1h-1zM177 225h1v1h-1zM175 225h1v1h-1zM176 223h1v1h-1zM173 224h1v1h-1zM181 221h1v1h-1zM184 223h1v1h-1zM175 226h1v1h-1zM169 227h1v1h-1zM177 224h1v1h-1zM169 223h1v1h-1zM173 225h1v1h-1zM183 226h1v1h-1zM189 225h1v1h-1zM179 223h1v1h-1zM171 225h1v1h-1zM181 226h1v1h-1zM164 223h1v1h-1zM173 222h1v1h-1zM185 225h1v1h-1zM181 225h1v1h-1zM169 226h1v1h-1zM168 224h1v1h-1zM212 261h1v1h-1zM215 263h1v1h-1zM211 257h1v1h-1zM210 258h1v1h-1zM215 262h1v1h-1zM210 263h1v1h-1zM215 257h1v1h-1zM219 255h1v1h-1zM214 268h1v1h-1zM215 262h1v1h-1zM213 253h1v1h-1zM212 266h1v1h-1zM212 264h1v1h-1zM211 260h1v1h-1zM216 269h1v1h-1zM204 263h1v1h-1zM210 252h1v1h-1zM213 261h1v1h-1zM207 250h1v1h-1zM210 257h1v1h-1zM208 261h1v1h-1zM213 268h1v1h-1zM214 256h1v1h-1zM217 261h1v1h-1zM213 268h1v1h-1zM208 262h1v1h-1zM212 268h1v1h-1zM213 261h1v1h-1zM216 257h1v1h-1zM201 262h1v1h-1zM212 255h1v1h-1zM203 265h1v1h-1zM214 264h1v1h-1zM212 254h1v1h-1zM213 259h1v1h-1zM215 264h1v1h-1zM212 256h1v1h-1zM208 256h1v1h-1zM212 266h1v1h-1zM216 263h1v1h-1zM210 250h1v1h-1zM211 266h1v1h-1zM206 258h1v1h-1zM216 265h1v1h-1zM208 264h1v1h-1zM207 262h1v1h-1zM209 255h1v1h-1zM207 269h1v1h-1zM210 263h1v1h-1zM216 260h1v1h-1zM214 259h1v1h-1zM217 266h1v1h-1zM217 267h1v1h-1zM207 266h1v1h-1zM213 267h1v1h-1zM217 267h1v1h-1zM220 258h1v1h-1zM205 261h1v1h-1zM204 264h1v1h-1zM213 257h1v1h-1zM209 254h1v1h-1zM206 259h1v1h-1zM212 257h1v1h-1zM207 261h1v1h-1zM200 268h1v1h-1zM211 264h1v1h-1zM211 260h1v1h-1zM213 250h1v1h-1zM214 257h1v1h-1zM211 263h1v1h-1zM210 267h1v1h-1zM208 266h1v1h-1zM204 257h1v1h-1zM209 260h1v1h-1zM215 257h1v1h-1zM213 265h1v1h-1zM220 267h1v1h-1zM210 253h1v1h-1zM203 260h1v1h-1zM214 268h1v1h-1zM215 267h1v1h-1zM205 265h1v1h-1zM204 249h1v1h-1zM211 269h1v1h-1zM214 264h1v1h-1zM206 250h1v1h-1zM209 263h1v1h-1zM207 263h1v1h-1zM206 253h1v1h-1zM205 257h1v1h-1zM211 266h1v1h-1zM209 264h1v1h-1zM208 267h1v1h-1zM199 267h1v1h-1zM218 260h1v1h-1zM207 260h1v1h-1zM210 264h1v1h-1zM205 268h1v1h-1zM212 251h1v1h-1zM204 260h1v1h-1zM211 263h1v1h-1zM210 257h1v1h-1zM214 254h1v1h-1zM206 255h1v1h-1zM208 261h1v1h-1zM210 253h1v1h-1zM220 267h1v1h-1zM204 261h1v1h-1zM212 245h1v1h-1zM208 264h1v1h-1zM212 250h1v1h-1zM214 267h1v1h-1zM211 268h1v1h-1zM212 260h1v1h-1zM212 259h1v1h-1zM208 265h1v1h-1zM210 263h1v1h-1zM203 263h1v1h-1zM209 252h1v1h-1zM207 266h1v1h-1zM210 246h1v1h-1zM214 261h1v1h-1zM212 264h1v1h-1zM213 262h1v1h-1zM215 260h1v1h-1zM200 264h1v1h-1zM212 266h1v1h-1zM210 249h1v1h-1zM210 263h1v1h-1zM205 256h1v1h-1zM213 266h1v1h-1zM215 262h1v1h-1zM215 263h1v1h-1zM210 248h1v1h-1zM213 264h1v1h-1zM215 265h1v1h-1zM218 262h1v1h-1zM216 264h1v1h-1zM211 266h1v1h-1zM211 262h1v1h-1zM211 265h1v1h-1zM212 266h1v1h-1zM209 243h1v1h-1zM214 267h1v1h-1zM208 262h1v1h-1zM207 259h1v1h-1zM212 265h1v1h-1zM208 263h1v1h-1zM209 263h1v1h-1zM202 257h1v1h-1zM214 267h1v1h-1zM210 252h1v1h-1zM210 260h1v1h-1zM212 259h1v1h-1zM211 266h1v1h-1zM208 260h1v1h-1zM220 267h1v1h-1zM209 263h1v1h-1zM215 266h1v1h-1zM218 262h1v1h-1zM208 259h1v1h-1zM211 265h1v1h-1zM207 266h1v1h-1zM215 268h1v1h-1zM209 246h1v1h-1zM206 266h1v1h-1zM216 254h1v1h-1zM214 254h1v1h-1zM207 252h1v1h-1zM215 251h1v1h-1zM211 260h1v1h-1zM222 263h1v1h-1zM218 258h1v1h-1zM208 266h1v1h-1zM209 262h1v1h-1zM207 259h1v1h-1zM211 262h1v1h-1zM211 264h1v1h-1zM213 250h1v1h-1zM211 268h1v1h-1zM205 244h1v1h-1zM216 255h1v1h-1zM216 268h1v1h-1zM210 258h1v1h-1zM210 267h1v1h-1zM210 263h1v1h-1zM211 268h1v1h-1zM204 258h1v1h-1zM214 259h1v1h-1zM208 266h1v1h-1zM211 269h1v1h-1zM199 268h1v1h-1zM212 267h1v1h-1zM216 263h1v1h-1zM200 269h1v1h-1zM217 263h1v1h-1zM212 254h1v1h-1zM207 260h1v1h-1zM204 250h1v1h-1zM216 267h1v1h-1zM212 253h1v1h-1zM213 254h1v1h-1zM209 265h1v1h-1zM214 266h1v1h-1zM206 262h1v1h-1zM214 265h1v1h-1zM204 255h1v1h-1zM207 262h1v1h-1zM204 267h1v1h-1zM215 247h1v1h-1zM203 256h1v1h-1zM205 267h1v1h-1zM213 261h1v1h-1zM211 257h1v1h-1zM220 262h1v1h-1zM219 264h1v1h-1zM213 248h1v1h-1zM213 247h1v1h-1zM202 266h1v1h-1zM207 266h1v1h-1zM209 263h1v1h-1zM210 244h1v1h-1zM204 269h1v1h-1zM207 254h1v1h-1zM207 262h1v1h-1zM215 267h1v1h-1zM212 266h1v1h-1zM209 262h1v1h-1zM209 263h1v1h-1zM212 260h1v1h-1zM208 255h1v1h-1zM209 265h1v1h-1zM204 254h1v1h-1zM213 262h1v1h-1zM215 259h1v1h-1zM212 266h1v1h-1zM212 258h1v1h-1zM212 268h1v1h-1zM219 263h1v1h-1zM211 263h1v1h-1zM204 268h1v1h-1zM206 257h1v1h-1zM214 265h1v1h-1zM215 267h1v1h-1zM214 253h1v1h-1zM214 268h1v1h-1zM211 256h1v1h-1zM204 260h1v1h-1zM207 264h1v1h-1zM203 263h1v1h-1zM209 258h1v1h-1zM204 268h1v1h-1zM211 254h1v1h-1zM210 255h1v1h-1zM202 259h1v1h-1zM214 259h1v1h-1zM213 249h1v1h-1zM205 253h1v1h-1zM211 264h1v1h-1zM213 256h1v1h-1zM209 267h1v1h-1zM214 257h1v1h-1zM211 268h1v1h-1zM215 267h1v1h-1zM211 264h1v1h-1zM210 263h1v1h-1zM212 252h1v1h-1zM214 262h1v1h-1zM212 259h1v1h-1zM208 268h1v1h-1zM207 268h1v1h-1zM209 245h1v1h-1zM208 245h1v1h-1zM211 261h1v1h-1zM211 249h1v1h-1zM210 265h1v1h-1zM210 266h1v1h-1zM217 265h1v1h-1zM215 249h1v1h-1zM208 255h1v1h-1zM212 264h1v1h-1zM209 264h1v1h-1zM210 251h1v1h-1zM209 267h1v1h-1zM208 267h1v1h-1zM204 263h1v1h-1zM201 252h1v1h-1zM211 260h1v1h-1zM216 265h1v1h-1zM206 263h1v1h-1zM213 259h1v1h-1zM209 265h1v1h-1zM212 267h1v1h-1zM207 267h1v1h-1zM209 261h1v1h-1zM210 268h1v1h-1zM200 267h1v1h-1zM211 253h1v1h-1zM210 257h1v1h-1zM199 265h1v1h-1zM213 251h1v1h-1zM210 266h1v1h-1zM211 261h1v1h-1zM212 260h1v1h-1zM209 262h1v1h-1zM206 261h1v1h-1zM209 259h1v1h-1zM209 261h1v1h-1zM221 268h1v1h-1zM209 245h1v1h-1zM208 268h1v1h-1zM212 266h1v1h-1zM213 259h1v1h-1zM207 264h1v1h-1zM218 254h1v1h-1zM215 257h1v1h-1zM203 268h1v1h-1zM203 254h1v1h-1zM207 257h1v1h-1zM211 263h1v1h-1zM213 260h1v1h-1zM209 260h1v1h-1zM203 262h1v1h-1zM211 263h1v1h-1zM213 264h1v1h-1zM210 268h1v1h-1zM208 267h1v1h-1zM213 262h1v1h-1zM210 262h1v1h-1zM205 267h1v1h-1zM211 267h1v1h-1zM204 268h1v1h-1zM214 260h1v1h-1zM212 250h1v1h-1zM206 263h1v1h-1zM211 261h1v1h-1zM216 267h1v1h-1zM202 256h1v1h-1zM210 245h1v1h-1zM217 247h1v1h-1zM203 266h1v1h-1zM210 255h1v1h-1zM204 268h1v1h-1zM210 244h1v1h-1zM200 263h1v1h-1zM204 255h1v1h-1zM208 263h1v1h-1zM211 254h1v1h-1zM212 253h1v1h-1zM212 266h1v1h-1zM216 265h1v1h-1zM213 245h1v1h-1zM214 265h1v1h-1zM206 255h1v1h-1zM210 261h1v1h-1zM224 260h1v1h-1zM220 258h1v1h-1zM214 262h1v1h-1zM213 249h1v1h-1zM215 262h1v1h-1zM209 262h1v1h-1zM219 262h1v1h-1zM209 267h1v1h-1zM210 266h1v1h-1zM220 263h1v1h-1zM201 262h1v1h-1zM212 261h1v1h-1zM202 265h1v1h-1zM208 254h1v1h-1zM210 268h1v1h-1zM209 252h1v1h-1zM211 268h1v1h-1zM207 267h1v1h-1zM210 257h1v1h-1zM205 260h1v1h-1zM209 248h1v1h-1zM205 255h1v1h-1zM213 253h1v1h-1zM205 255h1v1h-1zM214 267h1v1h-1zM208 268h1v1h-1zM209 262h1v1h-1zM216 268h1v1h-1zM211 254h1v1h-1zM202 263h1v1h-1zM213 264h1v1h-1zM198 261h1v1h-1zM212 264h1v1h-1zM209 263h1v1h-1zM205 249h1v1h-1zM211 257h1v1h-1zM209 268h1v1h-1zM219 264h1v1h-1zM208 260h1v1h-1zM219 265h1v1h-1zM217 263h1v1h-1zM208 253h1v1h-1zM207 257h1v1h-1zM216 256h1v1h-1zM210 266h1v1h-1zM211 263h1v1h-1zM209 263h1v1h-1zM205 264h1v1h-1zM209 264h1v1h-1zM206 263h1v1h-1zM204 256h1v1h-1zM209 268h1v1h-1zM218 259h1v1h-1zM217 257h1v1h-1zM210 258h1v1h-1zM211 261h1v1h-1zM213 259h1v1h-1zM217 268h1v1h-1zM212 268h1v1h-1zM208 262h1v1h-1zM209 262h1v1h-1zM215 254h1v1h-1zM221 254h1v1h-1zM208 258h1v1h-1zM201 268h1v1h-1zM214 265h1v1h-1zM210 265h1v1h-1zM211 252h1v1h-1zM216 255h1v1h-1zM211 257h1v1h-1zM205 259h1v1h-1zM202 261h1v1h-1zM210 254h1v1h-1zM206 253h1v1h-1zM212 265h1v1h-1zM204 265h1v1h-1zM209 265h1v1h-1zM203 269h1v1h-1zM209 257h1v1h-1zM208 258h1v1h-1zM213 262h1v1h-1zM216 260h1v1h-1zM210 262h1v1h-1zM207 252h1v1h-1zM218 244h1v1h-1zM212 257h1v1h-1zM213 265h1v1h-1zM213 257h1v1h-1zM217 262h1v1h-1zM215 266h1v1h-1zM213 258h1v1h-1zM213 252h1v1h-1zM206 268h1v1h-1zM208 265h1v1h-1zM210 257h1v1h-1zM211 258h1v1h-1zM210 260h1v1h-1zM212 266h1v1h-1zM211 265h1v1h-1zM208 265h1v1h-1zM203 266h1v1h-1zM214 267h1v1h-1zM213 253h1v1h-1zM206 266h1v1h-1zM213 257h1v1h-1zM212 268h1v1h-1zM211 253h1v1h-1zM202 262h1v1h-1zM205 269h1v1h-1zM208 264h1v1h-1zM218 265h1v1h-1zM206 266h1v1h-1zM209 260h1v1h-1zM205 266h1v1h-1zM208 259h1v1h-1zM212 257h1v1h-1zM201 259h1v1h-1zM198 260h1v1h-1zM213 265h1v1h-1zM211 264h1v1h-1zM208 259h1v1h-1zM214 256h1v1h-1zM215 268h1v1h-1zM202 248h1v1h-1zM210 264h1v1h-1zM215 261h1v1h-1zM208 255h1v1h-1zM209 263h1v1h-1zM215 260h1v1h-1zM209 264h1v1h-1zM205 266h1v1h-1zM207 260h1v1h-1zM205 254h1v1h-1zM213 263h1v1h-1zM202 267h1v1h-1zM215 254h1v1h-1zM203 263h1v1h-1zM211 265h1v1h-1zM204 265h1v1h-1zM209 262h1v1h-1zM215 268h1v1h-1zM215 252h1v1h-1zM217 267h1v1h-1zM210 267h1v1h-1zM211 264h1v1h-1zM213 252h1v1h-1zM209 263h1v1h-1zM215 261h1v1h-1zM212 261h1v1h-1zM216 267h1v1h-1zM213 267h1v1h-1zM214 268h1v1h-1zM207 259h1v1h-1zM209 260h1v1h-1zM204 263h1v1h-1zM209 266h1v1h-1zM210 246h1v1h-1zM214 268h1v1h-1zM205 255h1v1h-1zM225 261h1v1h-1zM210 266h1v1h-1zM216 253h1v1h-1zM215 260h1v1h-1zM200 256h1v1h-1zM209 255h1v1h-1zM217 265h1v1h-1zM201 243h1v1h-1zM214 262h1v1h-1zM207 255h1v1h-1zM208 264h1v1h-1zM211 267h1v1h-1zM203 251h1v1h-1zM211 255h1v1h-1zM208 251h1v1h-1zM207 265h1v1h-1zM214 265h1v1h-1zM227 265h1v1h-1zM212 257h1v1h-1zM213 252h1v1h-1zM210 259h1v1h-1zM207 267h1v1h-1zM212 260h1v1h-1zM217 264h1v1h-1zM211 264h1v1h-1zM214 257h1v1h-1zM209 260h1v1h-1zM221 259h1v1h-1zM213 266h1v1h-1zM213 252h1v1h-1zM211 255h1v1h-1zM205 263h1v1h-1zM205 261h1v1h-1zM209 263h1v1h-1zM211 259h1v1h-1zM205 263h1v1h-1zM205 268h1v1h-1zM213 264h1v1h-1zM215 262h1v1h-1zM208 267h1v1h-1zM207 268h1v1h-1zM207 253h1v1h-1zM222 266h1v1h-1zM213 267h1v1h-1zM210 268h1v1h-1zM215 268h1v1h-1zM221 263h1v1h-1zM216 260h1v1h-1zM204 257h1v1h-1zM210 252h1v1h-1zM209 257h1v1h-1zM209 263h1v1h-1zM205 251h1v1h-1zM209 264h1v1h-1zM205 267h1v1h-1zM212 260h1v1h-1zM211 266h1v1h-1zM204 265h1v1h-1zM203 253h1v1h-1zM208 261h1v1h-1zM213 258h1v1h-1zM213 259h1v1h-1zM210 254h1v1h-1zM208 262h1v1h-1zM207 258h1v1h-1zM209 248h1v1h-1zM205 251h1v1h-1zM208 265h1v1h-1zM207 264h1v1h-1zM223 266h1v1h-1zM213 257h1v1h-1zM209 265h1v1h-1zM210 265h1v1h-1zM210 252h1v1h-1zM211 250h1v1h-1zM208 264h1v1h-1zM210 267h1v1h-1zM215 258h1v1h-1zM214 267h1v1h-1zM212 262h1v1h-1zM216 249h1v1h-1zM211 259h1v1h-1zM206 262h1v1h-1zM204 246h1v1h-1zM207 268h1v1h-1zM210 253h1v1h-1zM215 253h1v1h-1zM208 268h1v1h-1zM207 248h1v1h-1zM214 261h1v1h-1zM215 258h1v1h-1zM208 256h1v1h-1zM212 256h1v1h-1zM217 268h1v1h-1zM212 260h1v1h-1zM210 263h1v1h-1zM200 268h1v1h-1zM216 265h1v1h-1zM213 263h1v1h-1zM211 268h1v1h-1zM208 260h1v1h-1zM204 266h1v1h-1zM210 244h1v1h-1zM210 246h1v1h-1zM215 256h1v1h-1zM205 262h1v1h-1zM216 254h1v1h-1zM210 256h1v1h-1zM216 263h1v1h-1zM206 258h1v1h-1zM212 257h1v1h-1zM216 265h1v1h-1zM211 260h1v1h-1zM204 265h1v1h-1zM209 265h1v1h-1zM213 259h1v1h-1zM204 264h1v1h-1zM204 264h1v1h-1zM211 259h1v1h-1zM206 257h1v1h-1zM214 267h1v1h-1zM205 262h1v1h-1zM202 258h1v1h-1zM207 260h1v1h-1zM217 257h1v1h-1zM207 255h1v1h-1zM210 256h1v1h-1zM211 256h1v1h-1zM206 267h1v1h-1zM215 259h1v1h-1zM211 256h1v1h-1zM212 265h1v1h-1zM202 268h1v1h-1zM203 261h1v1h-1zM198 263h1v1h-1zM210 253h1v1h-1zM209 268h1v1h-1zM214 268h1v1h-1zM216 248h1v1h-1zM209 266h1v1h-1zM209 255h1v1h-1zM217 262h1v1h-1zM206 266h1v1h-1zM213 259h1v1h-1zM209 263h1v1h-1zM209 253h1v1h-1zM214 253h1v1h-1zM207 257h1v1h-1zM206 255h1v1h-1zM213 265h1v1h-1zM210 262h1v1h-1zM209 262h1v1h-1zM210 259h1v1h-1zM213 266h1v1h-1zM209 266h1v1h-1zM213 251h1v1h-1zM212 262h1v1h-1zM217 265h1v1h-1zM216 254h1v1h-1zM214 268h1v1h-1zM209 261h1v1h-1zM211 267h1v1h-1zM208 261h1v1h-1zM223 261h1v1h-1zM209 252h1v1h-1zM213 265h1v1h-1zM217 264h1v1h-1zM204 259h1v1h-1zM207 254h1v1h-1zM209 248h1v1h-1zM206 268h1v1h-1zM205 261h1v1h-1zM208 256h1v1h-1zM216 251h1v1h-1zM214 258h1v1h-1zM211 264h1v1h-1zM210 257h1v1h-1zM203 260h1v1h-1zM213 254h1v1h-1zM212 256h1v1h-1zM206 259h1v1h-1zM211 264h1v1h-1zM210 245h1v1h-1zM208 261h1v1h-1zM206 261h1v1h-1zM208 253h1v1h-1zM206 266h1v1h-1zM213 267h1v1h-1zM212 259h1v1h-1zM212 266h1v1h-1zM209 266h1v1h-1zM208 264h1v1h-1zM220 268h1v1h-1zM202 267h1v1h-1zM216 261h1v1h-1zM212 266h1v1h-1zM211 258h1v1h-1zM208 250h1v1h-1zM209 256h1v1h-1zM205 267h1v1h-1zM204 257h1v1h-1zM210 268h1v1h-1zM203 260h1v1h-1zM214 253h1v1h-1zM215 262h1v1h-1zM203 267h1v1h-1zM212 267h1v1h-1zM211 251h1v1h-1zM211 266h1v1h-1zM212 266h1v1h-1zM214 260h1v1h-1zM214 266h1v1h-1zM218 252h1v1h-1zM210 254h1v1h-1zM214 264h1v1h-1zM204 249h1v1h-1zM210 259h1v1h-1zM205 256h1v1h-1zM217 266h1v1h-1zM220 250h1v1h-1zM213 267h1v1h-1zM205 261h1v1h-1zM210 265h1v1h-1zM211 266h1v1h-1zM211 269h1v1h-1zM215 249h1v1h-1zM215 262h1v1h-1zM199 254h1v1h-1zM216 258h1v1h-1zM208 254h1v1h-1zM208 268h1v1h-1zM216 255h1v1h-1zM209 259h1v1h-1zM205 255h1v1h-1zM204 262h1v1h-1zM211 261h1v1h-1zM214 262h1v1h-1zM217 265h1v1h-1zM210 253h1v1h-1zM208 255h1v1h-1zM217 255h1v1h-1zM208 263h1v1h-1zM216 251h1v1h-1zM211 264h1v1h-1zM211 257h1v1h-1zM209 268h1v1h-1zM212 263h1v1h-1zM208 261h1v1h-1zM207 258h1v1h-1zM210 262h1v1h-1zM207 268h1v1h-1zM212 256h1v1h-1zM211 259h1v1h-1zM209 262h1v1h-1zM210 260h1v1h-1zM209 262h1v1h-1zM217 248h1v1h-1zM210 263h1v1h-1zM208 265h1v1h-1zM209 256h1v1h-1zM213 257h1v1h-1zM209 265h1v1h-1zM210 250h1v1h-1zM209 258h1v1h-1zM211 261h1v1h-1zM212 268h1v1h-1zM212 253h1v1h-1zM203 257h1v1h-1zM205 265h1v1h-1zM198 265h1v1h-1zM214 264h1v1h-1zM215 261h1v1h-1zM216 257h1v1h-1zM211 257h1v1h-1zM216 267h1v1h-1zM210 267h1v1h-1zM210 259h1v1h-1zM204 260h1v1h-1zM207 263h1v1h-1zM208 268h1v1h-1zM214 258h1v1h-1zM218 261h1v1h-1zM208 252h1v1h-1zM212 262h1v1h-1zM212 258h1v1h-1zM207 265h1v1h-1zM203 254h1v1h-1zM207 263h1v1h-1zM204 261h1v1h-1zM209 268h1v1h-1zM210 264h1v1h-1zM210 255h1v1h-1zM210 256h1v1h-1zM213 268h1v1h-1zM206 264h1v1h-1zM214 249h1v1h-1zM202 267h1v1h-1zM211 264h1v1h-1zM212 268h1v1h-1zM207 257h1v1h-1zM203 258h1v1h-1zM213 255h1v1h-1zM207 263h1v1h-1zM214 252h1v1h-1zM213 246h1v1h-1zM210 267h1v1h-1zM210 266h1v1h-1zM215 267h1v1h-1zM212 259h1v1h-1zM206 264h1v1h-1zM211 253h1v1h-1zM213 268h1v1h-1zM211 264h1v1h-1zM211 261h1v1h-1zM210 258h1v1h-1zM210 263h1v1h-1zM206 268h1v1h-1zM204 268h1v1h-1zM216 267h1v1h-1zM207 268h1v1h-1zM211 254h1v1h-1zM211 263h1v1h-1zM207 254h1v1h-1zM222 252h1v1h-1zM206 260h1v1h-1zM206 266h1v1h-1zM215 259h1v1h-1zM216 263h1v1h-1zM201 256h1v1h-1zM212 267h1v1h-1zM214 265h1v1h-1zM205 265h1v1h-1zM213 263h1v1h-1zM208 257h1v1h-1zM206 263h1v1h-1zM209 259h1v1h-1zM208 263h1v1h-1zM204 259h1v1h-1zM220 256h1v1h-1zM208 266h1v1h-1zM214 257h1v1h-1zM210 262h1v1h-1zM216 263h1v1h-1zM209 268h1v1h-1zM212 250h1v1h-1zM211 253h1v1h-1zM211 263h1v1h-1zM209 267h1v1h-1zM210 265h1v1h-1zM218 266h1v1h-1zM208 255h1v1h-1zM208 267h1v1h-1zM209 252h1v1h-1zM213 265h1v1h-1zM212 256h1v1h-1zM215 264h1v1h-1zM204 263h1v1h-1zM212 263h1v1h-1zM210 269h1v1h-1zM209 263h1v1h-1zM211 251h1v1h-1zM202 258h1v1h-1zM212 263h1v1h-1zM211 265h1v1h-1zM204 266h1v1h-1zM210 249h1v1h-1zM217 264h1v1h-1zM209 267h1v1h-1zM213 262h1v1h-1zM209 261h1v1h-1zM207 267h1v1h-1zM207 252h1v1h-1zM209 245h1v1h-1zM216 255h1v1h-1zM214 266h1v1h-1zM207 258h1v1h-1zM215 268h1v1h-1zM210 268h1v1h-1zM207 263h1v1h-1zM212 262h1v1h-1zM207 255h1v1h-1zM204 257h1v1h-1zM216 257h1v1h-1zM202 268h1v1h-1zM203 268h1v1h-1zM210 252h1v1h-1zM209 264h1v1h-1zM208 263h1v1h-1zM200 268h1v1h-1zM210 265h1v1h-1zM210 258h1v1h-1zM207 258h1v1h-1zM210 266h1v1h-1zM214 251h1v1h-1zM207 259h1v1h-1zM212 263h1v1h-1zM205 261h1v1h-1zM212 258h1v1h-1zM213 256h1v1h-1zM222 268h1v1h-1zM214 264h1v1h-1zM212 268h1v1h-1zM217 266h1v1h-1zM206 250h1v1h-1zM215 263h1v1h-1zM208 247h1v1h-1zM207 269h1v1h-1zM216 268h1v1h-1zM211 268h1v1h-1zM216 250h1v1h-1zM204 258h1v1h-1zM212 267h1v1h-1zM208 267h1v1h-1zM209 251h1v1h-1zM202 265h1v1h-1zM215 267h1v1h-1zM211 255h1v1h-1zM206 263h1v1h-1zM205 254h1v1h-1zM206 268h1v1h-1zM216 258h1v1h-1zM210 265h1v1h-1zM209 256h1v1h-1zM213 266h1v1h-1zM210 265h1v1h-1zM211 267h1v1h-1zM214 262h1v1h-1zM212 259h1v1h-1zM215 267h1v1h-1zM205 261h1v1h-1zM211 268h1v1h-1zM209 265h1v1h-1zM211 244h1v1h-1zM210 267h1v1h-1zM208 255h1v1h-1zM209 267h1v1h-1zM215 263h1v1h-1zM208 265h1v1h-1zM205 263h1v1h-1zM213 253h1v1h-1zM215 261h1v1h-1zM209 259h1v1h-1zM211 264h1v1h-1zM207 265h1v1h-1zM210 266h1v1h-1zM216 267h1v1h-1zM214 267h1v1h-1zM211 268h1v1h-1zM209 266h1v1h-1zM204 258h1v1h-1zM212 261h1v1h-1zM213 264h1v1h-1zM215 264h1v1h-1zM212 268h1v1h-1zM214 243h1v1h-1zM206 249h1v1h-1zM216 262h1v1h-1zM214 263h1v1h-1zM216 261h1v1h-1zM213 256h1v1h-1zM213 265h1v1h-1zM217 268h1v1h-1zM208 259h1v1h-1zM214 268h1v1h-1zM215 262h1v1h-1zM207 263h1v1h-1zM206 257h1v1h-1zM212 245h1v1h-1zM211 268h1v1h-1zM213 261h1v1h-1zM213 265h1v1h-1zM207 252h1v1h-1zM212 252h1v1h-1zM216 267h1v1h-1zM209 258h1v1h-1zM209 252h1v1h-1zM205 268h1v1h-1zM214 267h1v1h-1zM219 261h1v1h-1zM204 267h1v1h-1zM214 262h1v1h-1zM214 260h1v1h-1zM208 268h1v1h-1zM209 261h1v1h-1zM206 261h1v1h-1zM207 264h1v1h-1zM211 254h1v1h-1zM213 257h1v1h-1zM211 255h1v1h-1zM214 258h1v1h-1zM211 264h1v1h-1zM206 255h1v1h-1zM217 264h1v1h-1zM216 267h1v1h-1zM207 263h1v1h-1zM218 262h1v1h-1zM213 266h1v1h-1zM211 266h1v1h-1zM219 266h1v1h-1zM199 265h1v1h-1zM204 257h1v1h-1zM214 264h1v1h-1zM210 255h1v1h-1zM206 263h1v1h-1zM217 265h1v1h-1zM213 262h1v1h-1zM205 262h1v1h-1zM214 266h1v1h-1zM219 268h1v1h-1zM202 260h1v1h-1zM212 254h1v1h-1zM209 263h1v1h-1zM203 259h1v1h-1zM210 258h1v1h-1zM203 266h1v1h-1zM208 264h1v1h-1zM218 260h1v1h-1zM213 265h1v1h-1zM214 259h1v1h-1zM213 265h1v1h-1zM212 256h1v1h-1zM215 258h1v1h-1zM206 261h1v1h-1zM209 249h1v1h-1zM214 261h1v1h-1zM207 264h1v1h-1zM209 259h1v1h-1zM216 267h1v1h-1zM217 263h1v1h-1zM208 262h1v1h-1zM207 266h1v1h-1zM213 261h1v1h-1zM212 261h1v1h-1zM208 268h1v1h-1zM213 260h1v1h-1zM213 258h1v1h-1zM211 262h1v1h-1zM224 262h1v1h-1zM217 263h1v1h-1zM214 266h1v1h-1zM215 255h1v1h-1zM224 265h1v1h-1zM216 264h1v1h-1zM207 264h1v1h-1zM212 249h1v1h-1zM211 247h1v1h-1zM208 266h1v1h-1zM212 264h1v1h-1zM212 268h1v1h-1zM210 245h1v1h-1zM209 257h1v1h-1zM214 261h1v1h-1zM204 259h1v1h-1zM214 264h1v1h-1zM211 265h1v1h-1zM212 269h1v1h-1zM200 267h1v1h-1zM218 263h1v1h-1zM203 262h1v1h-1zM207 252h1v1h-1zM213 258h1v1h-1zM208 267h1v1h-1zM209 248h1v1h-1zM201 258h1v1h-1zM209 258h1v1h-1zM212 266h1v1h-1zM214 264h1v1h-1zM209 262h1v1h-1zM212 260h1v1h-1zM213 261h1v1h-1zM208 257h1v1h-1zM207 259h1v1h-1zM220 269h1v1h-1zM207 253h1v1h-1zM216 269h1v1h-1zM211 263h1v1h-1zM217 255h1v1h-1zM208 259h1v1h-1zM213 263h1v1h-1zM212 263h1v1h-1zM210 267h1v1h-1zM212 264h1v1h-1zM207 263h1v1h-1zM210 251h1v1h-1zM209 261h1v1h-1zM214 261h1v1h-1zM210 252h1v1h-1zM205 258h1v1h-1zM209 254h1v1h-1zM210 261h1v1h-1zM207 266h1v1h-1zM217 265h1v1h-1zM213 264h1v1h-1zM214 261h1v1h-1zM207 263h1v1h-1zM209 266h1v1h-1zM215 267h1v1h-1zM205 258h1v1h-1zM212 267h1v1h-1zM211 268h1v1h-1zM209 262h1v1h-1zM211 260h1v1h-1zM206 266h1v1h-1zM212 260h1v1h-1zM205 265h1v1h-1zM205 260h1v1h-1zM217 261h1v1h-1zM207 267h1v1h-1zM201 263h1v1h-1zM215 257h1v1h-1zM207 259h1v1h-1zM210 263h1v1h-1zM215 260h1v1h-1zM212 248h1v1h-1zM218 259h1v1h-1zM210 250h1v1h-1zM213 264h1v1h-1zM206 263h1v1h-1zM211 257h1v1h-1zM218 268h1v1h-1zM213 267h1v1h-1zM211 267h1v1h-1zM202 265h1v1h-1zM209 268h1v1h-1zM205 266h1v1h-1zM214 267h1v1h-1zM207 263h1v1h-1zM212 257h1v1h-1zM206 269h1v1h-1zM220 267h1v1h-1zM205 264h1v1h-1zM211 261h1v1h-1zM222 255h1v1h-1zM212 265h1v1h-1zM207 260h1v1h-1zM213 263h1v1h-1zM215 264h1v1h-1zM215 268h1v1h-1zM202 265h1v1h-1zM212 252h1v1h-1zM201 264h1v1h-1zM219 261h1v1h-1zM211 266h1v1h-1zM209 268h1v1h-1zM214 260h1v1h-1zM213 261h1v1h-1zM206 251h1v1h-1zM218 267h1v1h-1zM210 264h1v1h-1zM203 264h1v1h-1zM217 262h1v1h-1zM217 252h1v1h-1zM216 265h1v1h-1zM213 263h1v1h-1zM207 266h1v1h-1zM215 266h1v1h-1zM220 268h1v1h-1zM214 261h1v1h-1zM216 243h1v1h-1zM207 263h1v1h-1zM215 258h1v1h-1zM215 267h1v1h-1zM205 246h1v1h-1zM203 269h1v1h-1zM208 250h1v1h-1zM211 248h1v1h-1zM213 267h1v1h-1zM210 256h1v1h-1zM210 261h1v1h-1zM210 261h1v1h-1zM211 263h1v1h-1zM214 268h1v1h-1zM213 257h1v1h-1zM210 262h1v1h-1zM212 255h1v1h-1zM209 255h1v1h-1zM215 268h1v1h-1zM209 258h1v1h-1zM217 250h1v1h-1zM211 252h1v1h-1zM212 254h1v1h-1zM208 256h1v1h-1zM209 252h1v1h-1zM212 267h1v1h-1zM211 266h1v1h-1zM208 268h1v1h-1zM205 266h1v1h-1zM211 254h1v1h-1zM211 267h1v1h-1zM213 250h1v1h-1zM215 247h1v1h-1zM209 260h1v1h-1zM202 258h1v1h-1zM210 265h1v1h-1zM203 259h1v1h-1zM205 268h1v1h-1zM215 265h1v1h-1zM213 266h1v1h-1zM208 263h1v1h-1zM208 260h1v1h-1zM210 260h1v1h-1zM202 268h1v1h-1zM213 246h1v1h-1zM209 260h1v1h-1zM219 261h1v1h-1zM206 268h1v1h-1zM215 261h1v1h-1zM208 255h1v1h-1zM216 267h1v1h-1zM206 260h1v1h-1zM214 265h1v1h-1zM209 258h1v1h-1zM207 256h1v1h-1zM210 255h1v1h-1zM213 262h1v1h-1zM213 266h1v1h-1zM217 255h1v1h-1zM214 251h1v1h-1zM199 263h1v1h-1zM209 267h1v1h-1zM203 250h1v1h-1zM209 253h1v1h-1zM213 259h1v1h-1zM204 267h1v1h-1zM205 266h1v1h-1zM211 264h1v1h-1zM210 253h1v1h-1zM218 259h1v1h-1zM212 268h1v1h-1zM213 268h1v1h-1zM218 254h1v1h-1zM208 263h1v1h-1zM211 268h1v1h-1zM206 266h1v1h-1zM212 264h1v1h-1zM216 268h1v1h-1zM217 261h1v1h-1zM211 269h1v1h-1zM208 255h1v1h-1zM207 261h1v1h-1zM204 267h1v1h-1zM211 254h1v1h-1zM217 267h1v1h-1zM200 261h1v1h-1zM202 255h1v1h-1zM217 261h1v1h-1zM203 263h1v1h-1zM212 250h1v1h-1zM206 254h1v1h-1zM214 261h1v1h-1zM214 262h1v1h-1zM211 254h1v1h-1zM215 268h1v1h-1zM211 265h1v1h-1zM213 262h1v1h-1zM219 266h1v1h-1zM215 252h1v1h-1zM208 253h1v1h-1zM207 257h1v1h-1zM210 262h1v1h-1zM210 263h1v1h-1zM211 252h1v1h-1zM208 259h1v1h-1zM214 259h1v1h-1zM211 265h1v1h-1zM212 258h1v1h-1zM211 264h1v1h-1zM213 250h1v1h-1zM206 254h1v1h-1zM218 268h1v1h-1zM212 261h1v1h-1zM213 259h1v1h-1zM214 263h1v1h-1zM215 253h1v1h-1zM214 255h1v1h-1zM212 263h1v1h-1zM210 250h1v1h-1zM203 262h1v1h-1zM212 267h1v1h-1zM210 245h1v1h-1zM209 267h1v1h-1zM222 264h1v1h-1zM203 261h1v1h-1zM211 260h1v1h-1zM216 252h1v1h-1zM215 261h1v1h-1zM217 266h1v1h-1zM205 263h1v1h-1zM207 259h1v1h-1zM214 258h1v1h-1zM210 249h1v1h-1zM219 264h1v1h-1zM212 263h1v1h-1zM212 251h1v1h-1zM213 262h1v1h-1zM210 266h1v1h-1zM211 256h1v1h-1zM208 267h1v1h-1zM211 268h1v1h-1zM209 264h1v1h-1zM212 261h1v1h-1zM205 252h1v1h-1zM205 255h1v1h-1zM213 259h1v1h-1zM212 262h1v1h-1zM206 263h1v1h-1zM210 260h1v1h-1zM206 262h1v1h-1zM220 263h1v1h-1zM204 261h1v1h-1zM219 262h1v1h-1zM207 262h1v1h-1zM213 265h1v1h-1zM210 260h1v1h-1zM209 266h1v1h-1zM215 268h1v1h-1zM214 257h1v1h-1zM210 260h1v1h-1zM207 259h1v1h-1zM220 264h1v1h-1zM217 258h1v1h-1zM211 258h1v1h-1zM210 259h1v1h-1zM212 255h1v1h-1zM211 248h1v1h-1zM216 257h1v1h-1zM207 259h1v1h-1zM211 265h1v1h-1zM207 261h1v1h-1zM217 263h1v1h-1zM219 268h1v1h-1zM210 254h1v1h-1zM213 264h1v1h-1zM217 254h1v1h-1zM207 267h1v1h-1zM213 264h1v1h-1zM210 257h1v1h-1zM218 268h1v1h-1zM212 268h1v1h-1zM203 256h1v1h-1zM212 257h1v1h-1zM211 266h1v1h-1zM220 267h1v1h-1zM210 258h1v1h-1zM213 268h1v1h-1zM212 269h1v1h-1zM204 266h1v1h-1zM211 258h1v1h-1zM209 268h1v1h-1zM217 258h1v1h-1zM221 257h1v1h-1zM206 264h1v1h-1zM206 266h1v1h-1zM207 260h1v1h-1zM208 255h1v1h-1zM208 263h1v1h-1zM211 264h1v1h-1zM215 246h1v1h-1zM205 259h1v1h-1zM205 248h1v1h-1zM203 255h1v1h-1zM216 267h1v1h-1zM217 261h1v1h-1zM204 266h1v1h-1zM211 256h1v1h-1zM215 254h1v1h-1zM216 267h1v1h-1zM212 256h1v1h-1zM214 250h1v1h-1zM212 267h1v1h-1zM209 243h1v1h-1zM219 252h1v1h-1zM211 268h1v1h-1zM206 265h1v1h-1zM209 267h1v1h-1zM204 258h1v1h-1zM211 253h1v1h-1zM215 249h1v1h-1zM206 248h1v1h-1zM216 266h1v1h-1zM219 251h1v1h-1zM213 266h1v1h-1zM206 253h1v1h-1zM207 262h1v1h-1zM209 263h1v1h-1zM206 252h1v1h-1zM206 258h1v1h-1zM210 264h1v1h-1zM210 259h1v1h-1zM214 261h1v1h-1zM206 253h1v1h-1zM219 263h1v1h-1zM215 254h1v1h-1zM215 259h1v1h-1zM208 255h1v1h-1zM219 259h1v1h-1zM209 261h1v1h-1zM219 264h1v1h-1zM207 258h1v1h-1zM209 259h1v1h-1zM219 263h1v1h-1zM215 250h1v1h-1zM210 252h1v1h-1zM212 258h1v1h-1zM212 260h1v1h-1zM207 263h1v1h-1zM210 266h1v1h-1zM208 264h1v1h-1zM209 263h1v1h-1zM213 265h1v1h-1zM207 259h1v1h-1zM214 266h1v1h-1zM211 264h1v1h-1zM214 258h1v1h-1zM215 261h1v1h-1zM216 260h1v1h-1zM213 249h1v1h-1zM214 256h1v1h-1zM210 264h1v1h-1zM213 257h1v1h-1zM207 255h1v1h-1zM210 245h1v1h-1zM214 258h1v1h-1zM211 255h1v1h-1zM213 253h1v1h-1zM207 244h1v1h-1zM217 261h1v1h-1zM208 268h1v1h-1zM213 264h1v1h-1zM211 254h1v1h-1zM215 261h1v1h-1zM209 255h1v1h-1zM206 263h1v1h-1zM203 253h1v1h-1zM210 258h1v1h-1zM205 264h1v1h-1zM213 268h1v1h-1zM217 258h1v1h-1zM200 267h1v1h-1zM205 259h1v1h-1zM212 251h1v1h-1zM212 265h1v1h-1zM212 264h1v1h-1zM213 265h1v1h-1zM213 258h1v1h-1zM219 264h1v1h-1zM213 247h1v1h-1zM205 268h1v1h-1zM209 261h1v1h-1zM212 259h1v1h-1zM208 247h1v1h-1zM210 268h1v1h-1zM209 262h1v1h-1zM208 255h1v1h-1zM214 257h1v1h-1zM209 259h1v1h-1zM206 258h1v1h-1zM208 259h1v1h-1zM211 263h1v1h-1zM220 258h1v1h-1zM212 263h1v1h-1zM218 268h1v1h-1zM213 263h1v1h-1zM201 260h1v1h-1zM213 262h1v1h-1zM207 264h1v1h-1zM205 257h1v1h-1zM206 267h1v1h-1zM219 265h1v1h-1zM203 267h1v1h-1zM208 267h1v1h-1zM216 267h1v1h-1zM214 266h1v1h-1zM204 246h1v1h-1zM210 257h1v1h-1zM209 262h1v1h-1zM210 266h1v1h-1zM214 260h1v1h-1zM208 258h1v1h-1zM210 259h1v1h-1zM218 263h1v1h-1zM203 256h1v1h-1zM209 251h1v1h-1zM213 256h1v1h-1zM205 262h1v1h-1zM208 256h1v1h-1zM205 255h1v1h-1zM212 256h1v1h-1zM208 259h1v1h-1zM214 260h1v1h-1zM216 268h1v1h-1zM211 263h1v1h-1zM209 257h1v1h-1zM212 255h1v1h-1zM211 257h1v1h-1zM206 259h1v1h-1zM216 266h1v1h-1zM212 259h1v1h-1zM215 266h1v1h-1zM205 256h1v1h-1zM215 257h1v1h-1zM220 259h1v1h-1zM213 254h1v1h-1zM204 260h1v1h-1zM211 268h1v1h-1zM211 256h1v1h-1zM212 261h1v1h-1zM210 254h1v1h-1zM213 259h1v1h-1zM209 250h1v1h-1zM212 263h1v1h-1zM208 258h1v1h-1zM211 264h1v1h-1zM215 261h1v1h-1zM209 254h1v1h-1zM214 262h1v1h-1zM207 267h1v1h-1zM209 260h1v1h-1zM210 268h1v1h-1zM216 256h1v1h-1zM207 265h1v1h-1zM216 261h1v1h-1zM205 254h1v1h-1zM210 266h1v1h-1zM215 258h1v1h-1zM214 266h1v1h-1zM206 263h1v1h-1zM205 263h1v1h-1zM215 260h1v1h-1zM206 255h1v1h-1zM214 268h1v1h-1zM209 260h1v1h-1zM211 264h1v1h-1zM221 257h1v1h-1zM218 265h1v1h-1zM214 254h1v1h-1zM205 264h1v1h-1zM212 250h1v1h-1zM211 266h1v1h-1zM210 262h1v1h-1zM216 248h1v1h-1zM203 269h1v1h-1zM212 268h1v1h-1zM211 262h1v1h-1zM207 266h1v1h-1zM219 263h1v1h-1zM205 259h1v1h-1zM211 268h1v1h-1zM211 260h1v1h-1zM202 254h1v1h-1zM205 256h1v1h-1zM206 268h1v1h-1zM214 262h1v1h-1zM215 254h1v1h-1zM213 250h1v1h-1zM212 246h1v1h-1zM202 253h1v1h-1zM212 254h1v1h-1zM208 267h1v1h-1zM215 244h1v1h-1zM216 246h1v1h-1zM220 254h1v1h-1zM214 254h1v1h-1zM215 266h1v1h-1zM206 263h1v1h-1zM211 269h1v1h-1zM205 259h1v1h-1zM215 267h1v1h-1zM206 252h1v1h-1zM210 265h1v1h-1zM207 267h1v1h-1zM209 255h1v1h-1zM213 247h1v1h-1zM208 263h1v1h-1zM212 265h1v1h-1zM206 263h1v1h-1zM217 262h1v1h-1zM208 265h1v1h-1zM215 262h1v1h-1zM219 250h1v1h-1zM201 248h1v1h-1zM206 261h1v1h-1zM210 267h1v1h-1zM216 255h1v1h-1zM209 263h1v1h-1zM213 267h1v1h-1zM208 261h1v1h-1zM213 260h1v1h-1zM205 268h1v1h-1zM215 269h1v1h-1zM199 248h1v1h-1zM202 265h1v1h-1zM219 264h1v1h-1zM212 252h1v1h-1zM207 264h1v1h-1zM221 266h1v1h-1zM215 248h1v1h-1zM216 265h1v1h-1zM209 260h1v1h-1zM214 258h1v1h-1zM213 251h1v1h-1zM204 255h1v1h-1zM213 251h1v1h-1zM210 268h1v1h-1zM217 268h1v1h-1zM217 266h1v1h-1zM208 265h1v1h-1zM208 265h1v1h-1zM211 244h1v1h-1zM214 263h1v1h-1zM209 268h1v1h-1zM210 259h1v1h-1zM214 268h1v1h-1zM212 244h1v1h-1zM216 264h1v1h-1zM212 265h1v1h-1zM207 250h1v1h-1zM203 261h1v1h-1zM215 267h1v1h-1zM209 263h1v1h-1zM209 267h1v1h-1zM209 260h1v1h-1zM204 262h1v1h-1zM209 261h1v1h-1zM198 268h1v1h-1zM209 267h1v1h-1zM207 265h1v1h-1zM220 269h1v1h-1zM213 261h1v1h-1zM210 261h1v1h-1zM212 268h1v1h-1zM214 258h1v1h-1zM207 264h1v1h-1zM210 267h1v1h-1zM209 259h1v1h-1zM222 262h1v1h-1zM211 264h1v1h-1zM201 267h1v1h-1zM215 267h1v1h-1zM223 267h1v1h-1zM206 260h1v1h-1zM225 253h1v1h-1zM211 259h1v1h-1zM216 267h1v1h-1zM208 258h1v1h-1zM210 265h1v1h-1zM205 266h1v1h-1zM206 267h1v1h-1zM216 258h1v1h-1zM206 257h1v1h-1zM213 265h1v1h-1zM212 262h1v1h-1zM208 244h1v1h-1zM211 264h1v1h-1zM210 257h1v1h-1zM209 255h1v1h-1zM211 261h1v1h-1zM211 252h1v1h-1zM206 266h1v1h-1zM205 263h1v1h-1zM207 262h1v1h-1zM217 265h1v1h-1zM218 267h1v1h-1zM212 254h1v1h-1zM215 264h1v1h-1zM211 268h1v1h-1zM216 261h1v1h-1zM211 268h1v1h-1zM213 265h1v1h-1zM209 263h1v1h-1zM211 268h1v1h-1zM220 263h1v1h-1zM205 266h1v1h-1zM211 268h1v1h-1zM208 264h1v1h-1zM215 258h1v1h-1zM219 261h1v1h-1zM209 267h1v1h-1zM199 256h1v1h-1zM214 263h1v1h-1zM213 255h1v1h-1zM203 266h1v1h-1zM210 268h1v1h-1zM210 263h1v1h-1zM200 260h1v1h-1zM214 262h1v1h-1zM212 247h1v1h-1zM212 266h1v1h-1zM206 267h1v1h-1zM208 258h1v1h-1zM208 264h1v1h-1zM213 257h1v1h-1zM206 256h1v1h-1zM217 257h1v1h-1zM200 269h1v1h-1zM219 266h1v1h-1zM212 267h1v1h-1zM208 258h1v1h-1zM211 256h1v1h-1zM202 265h1v1h-1zM212 269h1v1h-1zM199 261h1v1h-1zM206 267h1v1h-1zM217 263h1v1h-1zM217 260h1v1h-1zM209 243h1v1h-1zM206 258h1v1h-1zM215 253h1v1h-1zM210 265h1v1h-1zM212 251h1v1h-1zM214 265h1v1h-1zM206 262h1v1h-1zM215 267h1v1h-1zM201 261h1v1h-1zM218 268h1v1h-1zM203 264h1v1h-1zM208 254h1v1h-1zM207 266h1v1h-1zM214 255h1v1h-1zM214 266h1v1h-1zM212 263h1v1h-1zM213 257h1v1h-1zM213 260h1v1h-1zM210 260h1v1h-1zM203 246h1v1h-1zM200 262h1v1h-1zM200 261h1v1h-1zM210 251h1v1h-1zM210 265h1v1h-1zM210 267h1v1h-1zM212 264h1v1h-1zM210 268h1v1h-1zM206 268h1v1h-1zM204 263h1v1h-1zM202 264h1v1h-1zM217 265h1v1h-1zM215 263h1v1h-1zM204 262h1v1h-1zM209 258h1v1h-1zM213 256h1v1h-1zM217 250h1v1h-1zM208 263h1v1h-1zM212 267h1v1h-1zM216 262h1v1h-1zM203 257h1v1h-1zM207 261h1v1h-1zM210 268h1v1h-1zM207 267h1v1h-1zM220 255h1v1h-1zM215 265h1v1h-1zM212 266h1v1h-1zM206 259h1v1h-1zM215 263h1v1h-1zM213 253h1v1h-1zM208 265h1v1h-1zM209 261h1v1h-1zM204 263h1v1h-1zM210 259h1v1h-1zM215 269h1v1h-1zM211 258h1v1h-1zM212 245h1v1h-1zM205 243h1v1h-1zM205 256h1v1h-1zM214 255h1v1h-1zM210 262h1v1h-1zM210 258h1v1h-1zM211 253h1v1h-1zM208 264h1v1h-1zM205 248h1v1h-1zM210 259h1v1h-1zM216 256h1v1h-1zM208 256h1v1h-1zM204 263h1v1h-1zM209 243h1v1h-1zM201 259h1v1h-1zM209 252h1v1h-1zM206 259h1v1h-1zM213 261h1v1h-1zM208 255h1v1h-1zM213 255h1v1h-1zM220 249h1v1h-1zM206 262h1v1h-1zM203 253h1v1h-1zM210 261h1v1h-1zM207 247h1v1h-1zM208 269h1v1h-1zM204 250h1v1h-1zM211 267h1v1h-1zM208 255h1v1h-1zM206 257h1v1h-1zM209 263h1v1h-1zM214 258h1v1h-1zM205 268h1v1h-1zM203 263h1v1h-1zM214 263h1v1h-1zM208 253h1v1h-1zM210 268h1v1h-1zM211 259h1v1h-1zM208 247h1v1h-1zM202 262h1v1h-1zM213 256h1v1h-1zM205 254h1v1h-1zM218 258h1v1h-1zM212 260h1v1h-1zM202 243h1v1h-1zM205 262h1v1h-1zM206 250h1v1h-1zM212 258h1v1h-1zM212 246h1v1h-1zM209 259h1v1h-1zM206 259h1v1h-1zM209 264h1v1h-1zM211 256h1v1h-1zM202 249h1v1h-1zM206 257h1v1h-1zM205 251h1v1h-1zM209 253h1v1h-1zM201 253h1v1h-1zM204 258h1v1h-1zM217 248h1v1h-1zM203 255h1v1h-1zM208 257h1v1h-1zM204 254h1v1h-1zM214 256h1v1h-1zM207 268h1v1h-1zM205 261h1v1h-1zM201 248h1v1h-1zM206 255h1v1h-1zM212 264h1v1h-1zM211 253h1v1h-1zM201 259h1v1h-1zM216 258h1v1h-1zM206 262h1v1h-1zM202 257h1v1h-1zM208 257h1v1h-1zM204 251h1v1h-1zM205 261h1v1h-1zM204 251h1v1h-1zM205 258h1v1h-1zM199 256h1v1h-1zM210 264h1v1h-1zM205 257h1v1h-1zM214 259h1v1h-1zM210 258h1v1h-1zM211 252h1v1h-1zM209 251h1v1h-1zM214 253h1v1h-1zM206 267h1v1h-1zM202 253h1v1h-1zM209 255h1v1h-1zM206 263h1v1h-1zM205 251h1v1h-1zM214 262h1v1h-1zM211 259h1v1h-1zM208 256h1v1h-1zM205 262h1v1h-1zM213 248h1v1h-1zM204 264h1v1h-1zM205 260h1v1h-1zM211 250h1v1h-1zM218 265h1v1h-1zM206 267h1v1h-1zM198 247h1v1h-1zM211 256h1v1h-1zM214 254h1v1h-1zM207 263h1v1h-1zM216 268h1v1h-1zM217 243h1v1h-1zM204 258h1v1h-1zM205 257h1v1h-1zM201 266h1v1h-1zM210 258h1v1h-1zM211 248h1v1h-1zM211 257h1v1h-1zM201 250h1v1h-1zM204 252h1v1h-1zM200 258h1v1h-1zM199 254h1v1h-1zM201 260h1v1h-1zM199 246h1v1h-1zM210 268h1v1h-1zM211 264h1v1h-1zM207 248h1v1h-1zM207 251h1v1h-1zM210 256h1v1h-1zM208 268h1v1h-1zM206 254h1v1h-1zM205 267h1v1h-1zM208 267h1v1h-1zM202 258h1v1h-1zM213 267h1v1h-1zM199 261h1v1h-1zM210 253h1v1h-1zM200 249h1v1h-1zM215 257h1v1h-1zM212 266h1v1h-1zM203 248h1v1h-1zM205 246h1v1h-1zM202 262h1v1h-1zM221 255h1v1h-1zM200 264h1v1h-1zM205 247h1v1h-1zM209 250h1v1h-1zM210 256h1v1h-1zM210 257h1v1h-1zM206 260h1v1h-1zM207 266h1v1h-1zM208 268h1v1h-1zM214 259h1v1h-1zM200 255h1v1h-1zM205 258h1v1h-1zM201 260h1v1h-1zM203 268h1v1h-1zM203 259h1v1h-1zM219 251h1v1h-1zM214 262h1v1h-1zM208 268h1v1h-1zM202 261h1v1h-1zM210 251h1v1h-1zM214 253h1v1h-1zM211 257h1v1h-1zM212 260h1v1h-1zM207 256h1v1h-1zM197 247h1v1h-1zM197 252h1v1h-1zM207 262h1v1h-1zM210 264h1v1h-1zM214 247h1v1h-1zM206 255h1v1h-1zM208 245h1v1h-1zM209 254h1v1h-1zM207 258h1v1h-1zM202 255h1v1h-1zM213 253h1v1h-1zM210 249h1v1h-1zM209 244h1v1h-1zM201 258h1v1h-1zM190 261h1v1h-1zM195 252h1v1h-1zM187 248h1v1h-1zM192 256h1v1h-1zM194 258h1v1h-1zM186 251h1v1h-1zM193 259h1v1h-1zM187 261h1v1h-1zM192 262h1v1h-1zM195 267h1v1h-1zM191 263h1v1h-1zM192 257h1v1h-1zM189 260h1v1h-1zM192 262h1v1h-1zM194 254h1v1h-1zM191 266h1v1h-1zM191 264h1v1h-1zM192 258h1v1h-1zM193 256h1v1h-1zM191 263h1v1h-1zM189 264h1v1h-1zM192 268h1v1h-1zM194 264h1v1h-1zM192 260h1v1h-1zM194 263h1v1h-1zM188 254h1v1h-1zM190 263h1v1h-1zM188 251h1v1h-1zM191 261h1v1h-1zM191 262h1v1h-1zM190 251h1v1h-1zM191 253h1v1h-1zM190 264h1v1h-1zM193 256h1v1h-1zM190 261h1v1h-1zM194 256h1v1h-1zM186 264h1v1h-1zM191 268h1v1h-1zM187 263h1v1h-1zM193 263h1v1h-1zM195 260h1v1h-1zM191 258h1v1h-1zM203 241h1v1h-1zM217 259h1v1h-1zM211 251h1v1h-1zM235 267h1v1h-1zM233 249h1v1h-1zM218 265h1v1h-1zM203 252h1v1h-1zM209 259h1v1h-1zM210 213h1v1h-1zM228 210h1v1h-1zM205 220h1v1h-1zM87 328h1v1h-1zM80 329h1v1h-1zM74 333h1v1h-1zM76 333h1v1h-1zM71 331h1v1h-1zM77 332h1v1h-1zM66 329h1v1h-1zM65 337h1v1h-1zM67 333h1v1h-1zM81 337h1v1h-1zM81 330h1v1h-1zM66 330h1v1h-1zM78 332h1v1h-1zM69 329h1v1h-1zM77 330h1v1h-1zM68 325h1v1h-1zM77 332h1v1h-1zM69 329h1v1h-1zM68 331h1v1h-1zM70 328h1v1h-1zM71 323h1v1h-1zM66 330h1v1h-1zM61 332h1v1h-1zM82 324h1v1h-1zM68 325h1v1h-1zM66 334h1v1h-1zM79 332h1v1h-1zM68 323h1v1h-1zM78 335h1v1h-1zM73 331h1v1h-1zM72 332h1v1h-1zM79 325h1v1h-1zM81 329h1v1h-1zM77 324h1v1h-1zM66 335h1v1h-1zM61 330h1v1h-1zM63 322h1v1h-1zM82 330h1v1h-1zM69 329h1v1h-1zM71 328h1v1h-1zM72 330h1v1h-1zM84 335h1v1h-1zM66 330h1v1h-1zM78 323h1v1h-1zM72 328h1v1h-1zM69 324h1v1h-1zM76 330h1v1h-1zM65 328h1v1h-1zM67 325h1v1h-1zM72 328h1v1h-1zM71 326h1v1h-1zM78 330h1v1h-1zM66 328h1v1h-1zM71 330h1v1h-1zM72 328h1v1h-1zM70 331h1v1h-1zM75 328h1v1h-1zM69 328h1v1h-1zM78 327h1v1h-1zM66 329h1v1h-1zM61 323h1v1h-1zM70 337h1v1h-1zM78 326h1v1h-1zM67 329h1v1h-1zM66 327h1v1h-1zM68 327h1v1h-1zM71 330h1v1h-1zM69 327h1v1h-1zM72 327h1v1h-1zM80 326h1v1h-1zM74 325h1v1h-1zM65 334h1v1h-1zM79 324h1v1h-1zM73 325h1v1h-1zM80 329h1v1h-1zM62 333h1v1h-1zM81 323h1v1h-1zM71 324h1v1h-1zM75 330h1v1h-1zM68 324h1v1h-1zM63 323h1v1h-1zM69 325h1v1h-1zM74 328h1v1h-1zM69 331h1v1h-1zM68 328h1v1h-1zM80 328h1v1h-1zM71 330h1v1h-1zM66 328h1v1h-1zM64 329h1v1h-1zM70 326h1v1h-1zM77 327h1v1h-1zM66 330h1v1h-1zM63 328h1v1h-1zM76 326h1v1h-1zM71 331h1v1h-1zM70 330h1v1h-1zM84 328h1v1h-1zM62 326h1v1h-1zM72 331h1v1h-1zM68 326h1v1h-1zM74 324h1v1h-1zM78 326h1v1h-1zM62 325h1v1h-1zM76 324h1v1h-1zM76 325h1v1h-1zM69 331h1v1h-1zM87 331h1v1h-1zM70 333h1v1h-1zM64 331h1v1h-1zM73 327h1v1h-1zM81 326h1v1h-1zM77 327h1v1h-1zM68 325h1v1h-1zM74 332h1v1h-1zM74 332h1v1h-1zM83 327h1v1h-1zM66 327h1v1h-1zM62 329h1v1h-1zM68 331h1v1h-1zM69 330h1v1h-1zM73 324h1v1h-1zM67 327h1v1h-1zM64 323h1v1h-1zM78 334h1v1h-1zM69 333h1v1h-1zM72 331h1v1h-1zM77 332h1v1h-1zM62 335h1v1h-1zM64 331h1v1h-1zM87 323h1v1h-1zM69 328h1v1h-1zM63 321h1v1h-1zM69 326h1v1h-1zM66 324h1v1h-1zM62 328h1v1h-1zM68 330h1v1h-1zM70 325h1v1h-1zM70 327h1v1h-1zM74 329h1v1h-1zM60 328h1v1h-1zM76 321h1v1h-1zM67 327h1v1h-1zM78 331h1v1h-1zM72 329h1v1h-1zM61 324h1v1h-1zM74 328h1v1h-1zM63 329h1v1h-1zM72 325h1v1h-1zM78 331h1v1h-1zM84 326h1v1h-1zM70 327h1v1h-1zM75 328h1v1h-1zM72 336h1v1h-1zM76 327h1v1h-1zM68 331h1v1h-1zM72 327h1v1h-1zM73 329h1v1h-1zM65 321h1v1h-1zM76 329h1v1h-1zM78 328h1v1h-1zM71 324h1v1h-1zM69 333h1v1h-1zM68 328h1v1h-1zM71 328h1v1h-1zM78 324h1v1h-1zM80 323h1v1h-1zM67 327h1v1h-1zM64 324h1v1h-1zM65 330h1v1h-1zM77 331h1v1h-1zM72 326h1v1h-1zM72 323h1v1h-1zM73 327h1v1h-1zM73 325h1v1h-1zM69 329h1v1h-1zM63 329h1v1h-1zM66 327h1v1h-1zM71 329h1v1h-1zM73 332h1v1h-1zM68 334h1v1h-1zM67 327h1v1h-1zM79 331h1v1h-1zM67 328h1v1h-1zM72 325h1v1h-1zM68 332h1v1h-1zM65 330h1v1h-1zM60 329h1v1h-1zM67 330h1v1h-1zM65 328h1v1h-1zM76 325h1v1h-1zM63 334h1v1h-1zM68 331h1v1h-1zM75 329h1v1h-1zM70 331h1v1h-1zM74 332h1v1h-1zM76 328h1v1h-1zM68 327h1v1h-1zM64 330h1v1h-1zM79 328h1v1h-1zM69 336h1v1h-1zM74 327h1v1h-1zM82 330h1v1h-1zM68 330h1v1h-1zM71 327h1v1h-1zM73 331h1v1h-1zM68 328h1v1h-1zM79 327h1v1h-1zM76 328h1v1h-1zM77 326h1v1h-1zM71 332h1v1h-1zM68 330h1v1h-1zM68 332h1v1h-1zM68 324h1v1h-1zM73 326h1v1h-1zM76 329h1v1h-1zM70 332h1v1h-1zM67 329h1v1h-1zM71 328h1v1h-1zM72 332h1v1h-1zM72 332h1v1h-1zM82 334h1v1h-1zM65 322h1v1h-1zM73 329h1v1h-1zM75 327h1v1h-1zM71 326h1v1h-1zM69 329h1v1h-1zM63 325h1v1h-1zM66 321h1v1h-1zM75 325h1v1h-1zM80 328h1v1h-1zM66 334h1v1h-1zM73 326h1v1h-1zM74 325h1v1h-1zM77 322h1v1h-1zM72 327h1v1h-1zM73 328h1v1h-1zM76 329h1v1h-1zM63 324h1v1h-1zM71 326h1v1h-1zM65 323h1v1h-1zM60 320h1v1h-1zM74 332h1v1h-1zM77 330h1v1h-1zM68 329h1v1h-1zM69 329h1v1h-1zM69 325h1v1h-1zM69 332h1v1h-1zM71 325h1v1h-1zM73 334h1v1h-1zM67 329h1v1h-1zM65 322h1v1h-1zM67 331h1v1h-1zM76 335h1v1h-1zM67 328h1v1h-1zM80 332h1v1h-1zM69 328h1v1h-1zM79 326h1v1h-1zM62 320h1v1h-1zM66 332h1v1h-1zM73 327h1v1h-1zM73 330h1v1h-1zM69 325h1v1h-1zM84 325h1v1h-1zM71 332h1v1h-1zM72 327h1v1h-1zM66 327h1v1h-1zM81 324h1v1h-1zM76 329h1v1h-1zM73 331h1v1h-1zM73 328h1v1h-1zM67 324h1v1h-1zM73 333h1v1h-1zM76 326h1v1h-1zM65 328h1v1h-1zM72 334h1v1h-1zM76 328h1v1h-1zM71 323h1v1h-1zM68 325h1v1h-1zM63 327h1v1h-1zM66 334h1v1h-1zM62 329h1v1h-1zM77 328h1v1h-1zM71 331h1v1h-1zM62 333h1v1h-1zM70 326h1v1h-1zM62 333h1v1h-1zM78 330h1v1h-1zM78 321h1v1h-1zM61 329h1v1h-1zM66 333h1v1h-1zM72 328h1v1h-1zM68 336h1v1h-1zM65 329h1v1h-1zM67 325h1v1h-1zM69 330h1v1h-1zM67 329h1v1h-1zM72 331h1v1h-1zM69 328h1v1h-1zM65 333h1v1h-1zM70 327h1v1h-1zM80 324h1v1h-1zM70 329h1v1h-1zM72 326h1v1h-1zM73 327h1v1h-1zM72 328h1v1h-1zM78 329h1v1h-1zM63 331h1v1h-1zM70 331h1v1h-1zM71 332h1v1h-1zM67 329h1v1h-1zM66 327h1v1h-1zM79 323h1v1h-1zM66 327h1v1h-1zM67 326h1v1h-1zM68 323h1v1h-1zM69 334h1v1h-1zM71 322h1v1h-1zM69 330h1v1h-1zM73 330h1v1h-1zM71 328h1v1h-1zM73 337h1v1h-1zM79 328h1v1h-1zM65 326h1v1h-1zM81 334h1v1h-1zM67 326h1v1h-1zM74 324h1v1h-1zM71 325h1v1h-1zM68 326h1v1h-1zM81 330h1v1h-1zM65 324h1v1h-1zM65 330h1v1h-1zM77 336h1v1h-1zM71 326h1v1h-1zM82 328h1v1h-1zM81 331h1v1h-1zM75 332h1v1h-1zM72 326h1v1h-1zM75 325h1v1h-1zM62 325h1v1h-1zM71 332h1v1h-1zM71 331h1v1h-1zM67 321h1v1h-1zM72 321h1v1h-1zM61 324h1v1h-1zM76 324h1v1h-1zM78 330h1v1h-1zM62 329h1v1h-1zM71 335h1v1h-1zM80 331h1v1h-1zM73 329h1v1h-1zM63 332h1v1h-1zM64 326h1v1h-1zM76 324h1v1h-1zM82 329h1v1h-1zM63 331h1v1h-1zM70 323h1v1h-1zM65 331h1v1h-1zM68 331h1v1h-1zM72 327h1v1h-1zM70 329h1v1h-1zM66 328h1v1h-1zM84 329h1v1h-1zM69 331h1v1h-1zM69 326h1v1h-1zM77 332h1v1h-1zM70 331h1v1h-1zM69 331h1v1h-1zM76 322h1v1h-1zM63 322h1v1h-1zM75 331h1v1h-1zM77 327h1v1h-1zM74 326h1v1h-1zM69 326h1v1h-1zM70 324h1v1h-1zM69 326h1v1h-1zM72 326h1v1h-1zM76 330h1v1h-1zM71 325h1v1h-1zM68 332h1v1h-1zM65 321h1v1h-1zM70 337h1v1h-1zM71 324h1v1h-1zM78 330h1v1h-1zM70 331h1v1h-1zM67 328h1v1h-1zM69 331h1v1h-1zM67 328h1v1h-1zM69 323h1v1h-1zM60 332h1v1h-1zM62 327h1v1h-1zM73 323h1v1h-1zM70 326h1v1h-1zM71 329h1v1h-1zM78 329h1v1h-1zM63 332h1v1h-1zM77 330h1v1h-1zM73 330h1v1h-1zM66 322h1v1h-1zM80 336h1v1h-1zM61 329h1v1h-1zM63 331h1v1h-1zM69 327h1v1h-1zM73 328h1v1h-1zM69 329h1v1h-1zM68 333h1v1h-1zM70 330h1v1h-1zM86 335h1v1h-1zM79 327h1v1h-1zM71 330h1v1h-1zM63 327h1v1h-1zM72 333h1v1h-1zM63 329h1v1h-1zM71 332h1v1h-1zM72 334h1v1h-1zM68 322h1v1h-1zM72 336h1v1h-1zM68 329h1v1h-1zM66 327h1v1h-1zM80 322h1v1h-1zM74 327h1v1h-1zM68 321h1v1h-1zM65 329h1v1h-1zM71 328h1v1h-1zM74 334h1v1h-1zM76 327h1v1h-1zM80 332h1v1h-1zM73 332h1v1h-1zM63 335h1v1h-1zM83 328h1v1h-1zM78 331h1v1h-1zM75 323h1v1h-1zM79 325h1v1h-1zM61 328h1v1h-1zM68 328h1v1h-1zM67 324h1v1h-1zM78 327h1v1h-1zM63 331h1v1h-1zM68 327h1v1h-1zM80 328h1v1h-1zM74 326h1v1h-1zM68 333h1v1h-1zM82 334h1v1h-1zM62 329h1v1h-1zM73 328h1v1h-1zM69 334h1v1h-1zM73 330h1v1h-1zM68 326h1v1h-1zM65 324h1v1h-1zM71 327h1v1h-1zM62 336h1v1h-1zM73 327h1v1h-1zM68 338h1v1h-1zM76 328h1v1h-1zM67 328h1v1h-1zM66 333h1v1h-1zM73 328h1v1h-1zM78 330h1v1h-1zM71 324h1v1h-1zM74 326h1v1h-1zM61 329h1v1h-1zM64 326h1v1h-1zM74 322h1v1h-1zM65 330h1v1h-1zM66 328h1v1h-1zM81 328h1v1h-1zM64 326h1v1h-1zM65 321h1v1h-1zM63 327h1v1h-1zM62 330h1v1h-1zM81 333h1v1h-1zM78 332h1v1h-1zM62 329h1v1h-1zM83 329h1v1h-1zM75 329h1v1h-1zM69 331h1v1h-1zM75 330h1v1h-1zM73 327h1v1h-1zM65 330h1v1h-1zM64 331h1v1h-1zM70 329h1v1h-1zM68 333h1v1h-1zM65 329h1v1h-1zM76 331h1v1h-1zM63 329h1v1h-1zM76 327h1v1h-1zM67 325h1v1h-1zM71 328h1v1h-1zM63 330h1v1h-1zM70 333h1v1h-1zM65 328h1v1h-1zM70 327h1v1h-1zM70 333h1v1h-1zM75 329h1v1h-1zM72 327h1v1h-1zM64 331h1v1h-1zM66 324h1v1h-1zM63 328h1v1h-1zM78 328h1v1h-1zM80 325h1v1h-1zM75 332h1v1h-1zM72 334h1v1h-1zM74 324h1v1h-1zM73 329h1v1h-1zM64 336h1v1h-1zM78 327h1v1h-1zM78 325h1v1h-1zM72 328h1v1h-1zM68 335h1v1h-1zM68 329h1v1h-1zM67 329h1v1h-1zM64 334h1v1h-1zM71 321h1v1h-1zM67 331h1v1h-1zM69 331h1v1h-1zM81 324h1v1h-1zM74 330h1v1h-1zM66 329h1v1h-1zM74 329h1v1h-1zM60 326h1v1h-1zM77 327h1v1h-1zM72 326h1v1h-1zM69 329h1v1h-1zM74 328h1v1h-1zM79 334h1v1h-1zM67 331h1v1h-1zM64 323h1v1h-1zM84 330h1v1h-1zM70 333h1v1h-1zM80 329h1v1h-1zM66 332h1v1h-1zM72 328h1v1h-1zM66 331h1v1h-1zM74 325h1v1h-1zM68 331h1v1h-1zM66 324h1v1h-1zM80 333h1v1h-1zM72 324h1v1h-1zM69 330h1v1h-1zM64 328h1v1h-1zM62 329h1v1h-1zM66 330h1v1h-1zM67 328h1v1h-1zM70 326h1v1h-1zM65 329h1v1h-1zM67 330h1v1h-1zM76 335h1v1h-1zM61 326h1v1h-1zM74 329h1v1h-1zM73 330h1v1h-1zM67 327h1v1h-1zM72 325h1v1h-1zM65 327h1v1h-1zM67 332h1v1h-1zM63 328h1v1h-1zM73 331h1v1h-1zM79 326h1v1h-1zM66 330h1v1h-1zM78 326h1v1h-1zM64 329h1v1h-1zM63 329h1v1h-1zM81 333h1v1h-1zM66 323h1v1h-1zM75 330h1v1h-1zM71 333h1v1h-1zM74 327h1v1h-1zM70 326h1v1h-1zM71 329h1v1h-1zM75 329h1v1h-1zM79 330h1v1h-1zM73 330h1v1h-1zM69 325h1v1h-1zM76 324h1v1h-1zM65 324h1v1h-1zM74 328h1v1h-1zM67 330h1v1h-1zM71 337h1v1h-1zM75 330h1v1h-1zM65 329h1v1h-1zM89 333h1v1h-1zM71 326h1v1h-1zM72 330h1v1h-1zM65 332h1v1h-1zM70 331h1v1h-1zM68 330h1v1h-1zM61 327h1v1h-1zM60 324h1v1h-1zM72 328h1v1h-1zM69 327h1v1h-1zM68 330h1v1h-1zM70 323h1v1h-1zM74 332h1v1h-1zM62 326h1v1h-1zM74 323h1v1h-1zM68 324h1v1h-1zM67 326h1v1h-1zM69 332h1v1h-1zM76 331h1v1h-1zM74 325h1v1h-1zM76 329h1v1h-1zM66 328h1v1h-1zM68 323h1v1h-1zM62 325h1v1h-1zM66 322h1v1h-1zM67 326h1v1h-1zM67 320h1v1h-1zM75 326h1v1h-1zM73 325h1v1h-1zM75 326h1v1h-1zM71 326h1v1h-1zM77 332h1v1h-1zM71 327h1v1h-1zM76 329h1v1h-1zM73 331h1v1h-1zM75 331h1v1h-1zM70 331h1v1h-1zM62 327h1v1h-1zM61 325h1v1h-1zM83 326h1v1h-1zM73 327h1v1h-1zM73 329h1v1h-1zM69 328h1v1h-1zM67 332h1v1h-1zM89 328h1v1h-1zM63 334h1v1h-1zM70 332h1v1h-1zM70 327h1v1h-1zM63 331h1v1h-1zM62 319h1v1h-1zM65 333h1v1h-1zM68 330h1v1h-1zM67 330h1v1h-1zM75 323h1v1h-1zM62 337h1v1h-1zM73 328h1v1h-1zM80 328h1v1h-1zM76 332h1v1h-1zM63 328h1v1h-1zM75 331h1v1h-1zM73 325h1v1h-1zM66 331h1v1h-1zM78 329h1v1h-1zM67 332h1v1h-1zM71 325h1v1h-1zM63 333h1v1h-1zM72 329h1v1h-1zM67 335h1v1h-1zM67 326h1v1h-1zM77 335h1v1h-1zM71 331h1v1h-1zM60 331h1v1h-1zM74 326h1v1h-1zM75 330h1v1h-1zM65 331h1v1h-1zM67 326h1v1h-1zM70 325h1v1h-1zM68 326h1v1h-1zM71 333h1v1h-1zM74 329h1v1h-1zM67 332h1v1h-1zM84 329h1v1h-1zM65 329h1v1h-1zM66 329h1v1h-1zM83 327h1v1h-1zM85 332h1v1h-1zM70 329h1v1h-1zM69 329h1v1h-1zM63 324h1v1h-1zM77 330h1v1h-1zM71 326h1v1h-1zM64 327h1v1h-1zM73 332h1v1h-1zM79 325h1v1h-1zM74 328h1v1h-1zM84 331h1v1h-1zM78 332h1v1h-1zM73 327h1v1h-1zM70 330h1v1h-1zM74 329h1v1h-1zM78 325h1v1h-1zM76 321h1v1h-1zM77 322h1v1h-1zM71 330h1v1h-1zM75 329h1v1h-1zM78 324h1v1h-1zM69 326h1v1h-1zM62 327h1v1h-1zM81 327h1v1h-1zM74 328h1v1h-1zM67 336h1v1h-1zM72 326h1v1h-1zM68 329h1v1h-1zM69 326h1v1h-1zM61 326h1v1h-1zM71 328h1v1h-1zM69 327h1v1h-1zM77 330h1v1h-1zM69 329h1v1h-1zM72 326h1v1h-1zM68 335h1v1h-1zM68 325h1v1h-1zM61 330h1v1h-1zM76 336h1v1h-1zM71 326h1v1h-1zM66 333h1v1h-1zM71 333h1v1h-1zM67 330h1v1h-1zM65 322h1v1h-1zM72 333h1v1h-1zM78 329h1v1h-1zM68 327h1v1h-1zM61 333h1v1h-1zM66 326h1v1h-1zM82 332h1v1h-1zM65 327h1v1h-1zM78 330h1v1h-1zM68 325h1v1h-1zM75 327h1v1h-1zM69 326h1v1h-1zM67 329h1v1h-1zM84 328h1v1h-1zM69 329h1v1h-1zM74 333h1v1h-1zM68 328h1v1h-1zM69 322h1v1h-1zM72 328h1v1h-1zM73 329h1v1h-1zM84 332h1v1h-1zM70 332h1v1h-1zM69 332h1v1h-1zM66 328h1v1h-1zM61 331h1v1h-1zM74 333h1v1h-1zM79 330h1v1h-1zM76 327h1v1h-1zM68 329h1v1h-1zM63 326h1v1h-1zM70 330h1v1h-1zM70 324h1v1h-1zM77 332h1v1h-1zM65 330h1v1h-1zM68 335h1v1h-1zM70 328h1v1h-1zM68 328h1v1h-1zM66 329h1v1h-1zM66 325h1v1h-1zM69 325h1v1h-1zM77 327h1v1h-1zM85 328h1v1h-1zM81 325h1v1h-1zM73 325h1v1h-1zM82 328h1v1h-1zM69 331h1v1h-1zM67 328h1v1h-1zM85 331h1v1h-1zM63 332h1v1h-1zM67 331h1v1h-1zM68 327h1v1h-1zM80 327h1v1h-1zM66 322h1v1h-1zM75 326h1v1h-1zM67 330h1v1h-1zM62 325h1v1h-1zM72 333h1v1h-1zM71 333h1v1h-1zM63 327h1v1h-1zM64 332h1v1h-1zM65 324h1v1h-1zM76 325h1v1h-1zM73 327h1v1h-1zM72 329h1v1h-1zM73 328h1v1h-1zM67 326h1v1h-1zM73 335h1v1h-1zM66 329h1v1h-1zM61 329h1v1h-1zM65 331h1v1h-1zM71 329h1v1h-1zM71 328h1v1h-1zM77 327h1v1h-1zM69 333h1v1h-1zM73 325h1v1h-1zM64 323h1v1h-1zM72 326h1v1h-1zM67 323h1v1h-1zM63 335h1v1h-1zM77 330h1v1h-1zM61 333h1v1h-1zM77 333h1v1h-1zM67 330h1v1h-1zM64 330h1v1h-1zM64 326h1v1h-1zM65 328h1v1h-1zM65 327h1v1h-1zM72 329h1v1h-1zM78 333h1v1h-1zM75 331h1v1h-1zM79 328h1v1h-1zM64 323h1v1h-1zM66 331h1v1h-1zM69 328h1v1h-1zM72 324h1v1h-1zM67 330h1v1h-1zM70 332h1v1h-1zM71 322h1v1h-1zM60 330h1v1h-1zM82 323h1v1h-1zM63 329h1v1h-1zM72 334h1v1h-1zM77 329h1v1h-1zM65 330h1v1h-1zM70 327h1v1h-1zM81 328h1v1h-1zM68 336h1v1h-1zM77 333h1v1h-1zM72 327h1v1h-1zM72 327h1v1h-1zM75 329h1v1h-1zM69 336h1v1h-1zM69 329h1v1h-1zM76 332h1v1h-1zM72 327h1v1h-1zM73 324h1v1h-1zM62 333h1v1h-1zM70 328h1v1h-1zM78 326h1v1h-1zM76 326h1v1h-1zM72 326h1v1h-1zM67 327h1v1h-1zM66 323h1v1h-1zM73 332h1v1h-1zM79 330h1v1h-1zM70 332h1v1h-1zM79 327h1v1h-1zM68 330h1v1h-1zM78 329h1v1h-1zM64 332h1v1h-1zM71 331h1v1h-1zM63 330h1v1h-1zM74 326h1v1h-1zM74 325h1v1h-1zM64 326h1v1h-1zM65 326h1v1h-1zM67 327h1v1h-1zM60 324h1v1h-1zM64 334h1v1h-1zM64 329h1v1h-1zM75 322h1v1h-1zM79 325h1v1h-1zM67 324h1v1h-1zM68 329h1v1h-1zM71 332h1v1h-1zM67 325h1v1h-1zM68 331h1v1h-1zM76 328h1v1h-1zM72 332h1v1h-1zM70 333h1v1h-1zM66 330h1v1h-1zM80 331h1v1h-1zM66 328h1v1h-1zM71 327h1v1h-1zM63 325h1v1h-1zM66 330h1v1h-1zM71 328h1v1h-1zM68 327h1v1h-1zM74 328h1v1h-1zM71 328h1v1h-1zM61 325h1v1h-1zM77 332h1v1h-1zM66 328h1v1h-1zM80 333h1v1h-1zM70 325h1v1h-1zM65 324h1v1h-1zM74 329h1v1h-1zM68 331h1v1h-1zM70 326h1v1h-1zM64 331h1v1h-1zM74 332h1v1h-1zM77 332h1v1h-1zM67 328h1v1h-1zM82 328h1v1h-1zM66 323h1v1h-1zM72 329h1v1h-1zM84 324h1v1h-1zM79 326h1v1h-1zM78 325h1v1h-1zM72 320h1v1h-1zM73 325h1v1h-1zM71 335h1v1h-1zM72 331h1v1h-1zM64 324h1v1h-1zM69 328h1v1h-1zM63 331h1v1h-1zM68 330h1v1h-1zM72 328h1v1h-1zM65 326h1v1h-1zM68 331h1v1h-1zM67 328h1v1h-1zM70 331h1v1h-1zM76 330h1v1h-1zM72 327h1v1h-1zM73 333h1v1h-1zM61 327h1v1h-1zM68 330h1v1h-1zM75 326h1v1h-1zM64 328h1v1h-1zM67 328h1v1h-1zM64 326h1v1h-1zM79 329h1v1h-1zM67 333h1v1h-1zM65 335h1v1h-1zM74 333h1v1h-1zM77 328h1v1h-1zM73 333h1v1h-1zM76 330h1v1h-1zM71 334h1v1h-1zM69 324h1v1h-1zM67 333h1v1h-1zM67 327h1v1h-1zM66 332h1v1h-1zM72 327h1v1h-1zM69 331h1v1h-1zM71 328h1v1h-1zM74 322h1v1h-1zM70 325h1v1h-1zM61 328h1v1h-1zM65 329h1v1h-1zM63 321h1v1h-1zM71 326h1v1h-1zM62 328h1v1h-1zM62 329h1v1h-1zM63 326h1v1h-1zM76 324h1v1h-1zM68 329h1v1h-1zM77 327h1v1h-1zM69 331h1v1h-1zM67 327h1v1h-1zM74 331h1v1h-1zM74 326h1v1h-1zM71 329h1v1h-1zM63 329h1v1h-1zM67 330h1v1h-1zM62 325h1v1h-1zM73 334h1v1h-1zM67 326h1v1h-1zM73 334h1v1h-1zM79 341h1v1h-1zM74 331h1v1h-1zM80 333h1v1h-1zM75 327h1v1h-1zM84 332h1v1h-1zM78 330h1v1h-1zM83 327h1v1h-1zM77 325h1v1h-1zM86 332h1v1h-1zM77 330h1v1h-1zM75 338h1v1h-1zM67 329h1v1h-1zM70 332h1v1h-1zM68 335h1v1h-1zM75 330h1v1h-1zM80 327h1v1h-1zM81 332h1v1h-1zM77 328h1v1h-1zM71 326h1v1h-1zM74 330h1v1h-1zM70 336h1v1h-1zM84 335h1v1h-1zM78 330h1v1h-1zM91 340h1v1h-1zM71 328h1v1h-1zM86 331h1v1h-1zM69 325h1v1h-1zM73 335h1v1h-1zM65 331h1v1h-1zM79 324h1v1h-1zM74 328h1v1h-1zM79 339h1v1h-1zM87 335h1v1h-1zM74 332h1v1h-1zM77 335h1v1h-1zM82 324h1v1h-1zM74 328h1v1h-1zM69 326h1v1h-1zM77 328h1v1h-1zM78 330h1v1h-1zM81 334h1v1h-1zM81 336h1v1h-1zM68 336h1v1h-1zM85 329h1v1h-1zM70 331h1v1h-1zM77 334h1v1h-1zM69 328h1v1h-1zM75 330h1v1h-1zM89 333h1v1h-1zM76 327h1v1h-1zM66 334h1v1h-1zM77 337h1v1h-1zM76 326h1v1h-1zM84 321h1v1h-1zM62 332h1v1h-1zM66 327h1v1h-1zM73 332h1v1h-1zM61 329h1v1h-1zM84 333h1v1h-1zM67 335h1v1h-1zM61 330h1v1h-1zM68 326h1v1h-1zM81 320h1v1h-1zM79 322h1v1h-1zM82 328h1v1h-1zM79 332h1v1h-1zM77 329h1v1h-1zM70 324h1v1h-1zM71 324h1v1h-1zM69 334h1v1h-1zM78 322h1v1h-1zM67 334h1v1h-1zM89 327h1v1h-1zM79 334h1v1h-1zM84 332h1v1h-1zM81 335h1v1h-1zM82 337h1v1h-1zM74 328h1v1h-1zM91 327h1v1h-1zM65 329h1v1h-1zM78 328h1v1h-1zM74 334h1v1h-1zM72 331h1v1h-1zM77 331h1v1h-1zM68 333h1v1h-1zM81 329h1v1h-1zM81 336h1v1h-1zM75 323h1v1h-1zM80 332h1v1h-1zM65 333h1v1h-1zM69 328h1v1h-1zM72 335h1v1h-1zM72 322h1v1h-1zM83 325h1v1h-1zM81 336h1v1h-1zM92 327h1v1h-1zM75 337h1v1h-1zM80 337h1v1h-1zM72 330h1v1h-1zM67 333h1v1h-1zM66 327h1v1h-1zM67 329h1v1h-1zM86 328h1v1h-1zM77 334h1v1h-1zM73 325h1v1h-1zM74 330h1v1h-1zM69 331h1v1h-1zM74 333h1v1h-1zM74 321h1v1h-1zM80 323h1v1h-1zM82 327h1v1h-1zM60 330h1v1h-1zM76 332h1v1h-1zM86 332h1v1h-1zM65 340h1v1h-1zM72 334h1v1h-1zM76 334h1v1h-1zM83 329h1v1h-1zM79 334h1v1h-1zM72 334h1v1h-1zM78 334h1v1h-1zM83 330h1v1h-1zM77 334h1v1h-1zM90 338h1v1h-1zM78 327h1v1h-1zM65 321h1v1h-1zM67 335h1v1h-1zM73 334h1v1h-1zM72 330h1v1h-1zM79 329h1v1h-1zM89 329h1v1h-1zM81 325h1v1h-1zM87 329h1v1h-1zM68 333h1v1h-1zM70 328h1v1h-1zM80 329h1v1h-1zM75 332h1v1h-1zM79 329h1v1h-1zM76 332h1v1h-1zM69 331h1v1h-1zM89 326h1v1h-1zM84 331h1v1h-1zM61 326h1v1h-1zM69 335h1v1h-1zM74 327h1v1h-1zM80 330h1v1h-1zM74 323h1v1h-1zM63 329h1v1h-1zM81 325h1v1h-1zM72 338h1v1h-1zM84 330h1v1h-1zM77 333h1v1h-1zM83 323h1v1h-1zM81 325h1v1h-1zM82 330h1v1h-1zM70 325h1v1h-1zM83 336h1v1h-1zM76 329h1v1h-1zM64 332h1v1h-1zM71 332h1v1h-1zM71 330h1v1h-1zM78 334h1v1h-1zM80 328h1v1h-1zM65 333h1v1h-1zM80 336h1v1h-1zM74 332h1v1h-1zM65 331h1v1h-1zM81 329h1v1h-1zM68 331h1v1h-1zM64 334h1v1h-1zM81 330h1v1h-1zM82 323h1v1h-1zM69 332h1v1h-1zM83 330h1v1h-1zM83 333h1v1h-1zM70 331h1v1h-1zM91 338h1v1h-1zM74 326h1v1h-1zM76 327h1v1h-1zM80 326h1v1h-1zM69 332h1v1h-1zM78 331h1v1h-1zM84 334h1v1h-1zM87 337h1v1h-1zM90 332h1v1h-1zM79 334h1v1h-1zM77 326h1v1h-1zM68 333h1v1h-1zM74 327h1v1h-1zM86 323h1v1h-1zM67 330h1v1h-1zM76 331h1v1h-1zM74 327h1v1h-1zM77 327h1v1h-1zM71 334h1v1h-1zM82 330h1v1h-1zM83 329h1v1h-1zM63 328h1v1h-1zM84 332h1v1h-1zM68 331h1v1h-1zM72 330h1v1h-1zM84 325h1v1h-1zM75 329h1v1h-1zM79 328h1v1h-1zM81 331h1v1h-1zM79 336h1v1h-1zM70 335h1v1h-1zM66 334h1v1h-1zM80 331h1v1h-1zM81 329h1v1h-1zM77 332h1v1h-1zM73 329h1v1h-1zM82 329h1v1h-1zM74 327h1v1h-1zM63 331h1v1h-1zM77 331h1v1h-1zM79 339h1v1h-1zM81 333h1v1h-1zM67 329h1v1h-1zM68 334h1v1h-1zM77 329h1v1h-1zM71 335h1v1h-1zM74 334h1v1h-1zM78 326h1v1h-1zM90 331h1v1h-1zM77 330h1v1h-1zM89 332h1v1h-1zM84 334h1v1h-1zM75 328h1v1h-1zM74 332h1v1h-1zM86 335h1v1h-1zM70 326h1v1h-1zM71 324h1v1h-1zM77 336h1v1h-1zM78 335h1v1h-1zM63 336h1v1h-1zM77 327h1v1h-1zM72 330h1v1h-1zM74 332h1v1h-1zM76 333h1v1h-1zM73 330h1v1h-1zM84 331h1v1h-1zM79 335h1v1h-1zM73 329h1v1h-1zM75 328h1v1h-1zM84 329h1v1h-1zM81 329h1v1h-1zM85 331h1v1h-1zM74 330h1v1h-1zM76 329h1v1h-1zM92 337h1v1h-1zM74 332h1v1h-1zM89 329h1v1h-1zM82 336h1v1h-1zM71 328h1v1h-1zM63 331h1v1h-1zM80 330h1v1h-1zM69 328h1v1h-1zM69 329h1v1h-1zM60 331h1v1h-1zM85 325h1v1h-1zM76 329h1v1h-1zM75 332h1v1h-1zM78 332h1v1h-1zM77 332h1v1h-1zM76 341h1v1h-1zM79 334h1v1h-1zM73 330h1v1h-1zM81 331h1v1h-1zM78 333h1v1h-1zM75 330h1v1h-1zM88 337h1v1h-1zM63 326h1v1h-1zM87 333h1v1h-1zM78 326h1v1h-1zM61 334h1v1h-1zM71 333h1v1h-1zM109 366h1v1h-1zM105 349h1v1h-1zM114 366h1v1h-1zM114 369h1v1h-1zM107 368h1v1h-1zM116 365h1v1h-1zM109 371h1v1h-1zM106 373h1v1h-1zM108 358h1v1h-1zM103 362h1v1h-1zM108 365h1v1h-1zM103 369h1v1h-1zM113 369h1v1h-1zM110 366h1v1h-1zM104 367h1v1h-1zM111 364h1v1h-1zM103 373h1v1h-1zM109 350h1v1h-1zM111 371h1v1h-1zM109 368h1v1h-1zM105 372h1v1h-1zM109 371h1v1h-1zM108 373h1v1h-1zM109 357h1v1h-1zM113 346h1v1h-1zM115 367h1v1h-1zM114 367h1v1h-1zM107 369h1v1h-1zM106 370h1v1h-1zM109 371h1v1h-1zM110 359h1v1h-1zM102 360h1v1h-1zM107 373h1v1h-1zM115 361h1v1h-1zM104 373h1v1h-1zM106 369h1v1h-1zM107 367h1v1h-1zM111 372h1v1h-1zM109 358h1v1h-1zM108 371h1v1h-1zM104 364h1v1h-1zM111 363h1v1h-1zM109 351h1v1h-1zM107 368h1v1h-1zM109 362h1v1h-1zM112 367h1v1h-1zM104 373h1v1h-1zM104 363h1v1h-1zM106 361h1v1h-1zM106 364h1v1h-1zM98 367h1v1h-1zM107 364h1v1h-1zM113 367h1v1h-1zM108 365h1v1h-1zM113 373h1v1h-1zM99 370h1v1h-1zM109 371h1v1h-1zM113 360h1v1h-1zM115 368h1v1h-1zM108 350h1v1h-1zM106 369h1v1h-1zM110 367h1v1h-1zM105 357h1v1h-1zM108 368h1v1h-1zM103 368h1v1h-1zM109 363h1v1h-1zM109 373h1v1h-1zM115 366h1v1h-1zM110 350h1v1h-1zM109 373h1v1h-1zM106 347h1v1h-1zM109 363h1v1h-1zM108 364h1v1h-1zM110 357h1v1h-1zM112 367h1v1h-1zM102 362h1v1h-1zM110 371h1v1h-1zM111 361h1v1h-1zM105 373h1v1h-1zM107 365h1v1h-1zM117 357h1v1h-1zM112 364h1v1h-1zM112 368h1v1h-1zM110 373h1v1h-1zM113 369h1v1h-1zM105 372h1v1h-1zM106 367h1v1h-1zM103 353h1v1h-1zM111 371h1v1h-1zM106 371h1v1h-1zM111 357h1v1h-1zM111 366h1v1h-1zM104 373h1v1h-1zM112 371h1v1h-1zM110 368h1v1h-1zM110 372h1v1h-1zM110 361h1v1h-1zM109 373h1v1h-1zM109 357h1v1h-1zM113 364h1v1h-1zM106 365h1v1h-1zM105 365h1v1h-1zM106 369h1v1h-1zM113 373h1v1h-1zM108 361h1v1h-1zM116 369h1v1h-1zM99 365h1v1h-1zM107 361h1v1h-1zM108 357h1v1h-1zM110 368h1v1h-1zM114 372h1v1h-1zM108 370h1v1h-1zM105 373h1v1h-1zM112 367h1v1h-1zM114 358h1v1h-1zM101 357h1v1h-1zM111 361h1v1h-1zM110 373h1v1h-1zM106 368h1v1h-1zM107 361h1v1h-1zM110 364h1v1h-1zM109 364h1v1h-1zM108 360h1v1h-1zM105 371h1v1h-1zM110 366h1v1h-1zM107 357h1v1h-1zM109 365h1v1h-1zM107 358h1v1h-1zM110 362h1v1h-1zM111 359h1v1h-1zM110 361h1v1h-1zM111 369h1v1h-1zM104 371h1v1h-1zM111 369h1v1h-1zM110 362h1v1h-1zM107 353h1v1h-1zM108 367h1v1h-1zM99 370h1v1h-1zM109 370h1v1h-1zM107 373h1v1h-1zM101 370h1v1h-1zM111 370h1v1h-1zM107 346h1v1h-1zM108 365h1v1h-1zM111 364h1v1h-1zM109 366h1v1h-1zM108 369h1v1h-1zM110 352h1v1h-1zM111 354h1v1h-1zM101 373h1v1h-1zM109 360h1v1h-1zM107 372h1v1h-1zM105 370h1v1h-1zM113 364h1v1h-1zM112 360h1v1h-1zM105 371h1v1h-1zM105 371h1v1h-1zM112 368h1v1h-1zM107 362h1v1h-1zM108 361h1v1h-1zM103 360h1v1h-1zM108 369h1v1h-1zM113 365h1v1h-1zM107 370h1v1h-1zM109 367h1v1h-1zM115 365h1v1h-1zM112 371h1v1h-1zM114 367h1v1h-1zM111 372h1v1h-1zM113 370h1v1h-1zM103 367h1v1h-1zM106 372h1v1h-1zM103 365h1v1h-1zM117 368h1v1h-1zM110 369h1v1h-1zM109 369h1v1h-1zM106 369h1v1h-1zM106 364h1v1h-1zM99 371h1v1h-1zM117 370h1v1h-1zM109 362h1v1h-1zM109 371h1v1h-1zM105 353h1v1h-1zM109 373h1v1h-1zM110 366h1v1h-1zM109 370h1v1h-1zM111 363h1v1h-1zM106 372h1v1h-1zM110 368h1v1h-1zM112 370h1v1h-1zM111 372h1v1h-1zM110 370h1v1h-1zM109 364h1v1h-1zM105 370h1v1h-1zM111 368h1v1h-1zM108 363h1v1h-1zM112 367h1v1h-1zM104 362h1v1h-1zM107 360h1v1h-1zM112 369h1v1h-1zM112 366h1v1h-1zM108 368h1v1h-1zM109 372h1v1h-1zM111 368h1v1h-1zM109 361h1v1h-1zM106 365h1v1h-1zM111 371h1v1h-1zM109 359h1v1h-1zM109 373h1v1h-1zM112 357h1v1h-1zM110 371h1v1h-1zM107 373h1v1h-1zM110 367h1v1h-1zM115 363h1v1h-1zM106 368h1v1h-1zM108 349h1v1h-1zM106 369h1v1h-1zM110 372h1v1h-1zM105 361h1v1h-1zM111 368h1v1h-1zM112 371h1v1h-1zM107 359h1v1h-1zM106 355h1v1h-1zM104 368h1v1h-1zM109 362h1v1h-1zM105 361h1v1h-1zM107 368h1v1h-1zM108 363h1v1h-1zM107 363h1v1h-1zM112 367h1v1h-1zM113 349h1v1h-1zM101 371h1v1h-1zM106 357h1v1h-1zM110 353h1v1h-1zM106 360h1v1h-1zM107 367h1v1h-1zM110 357h1v1h-1zM114 363h1v1h-1zM113 368h1v1h-1zM108 373h1v1h-1zM109 367h1v1h-1zM108 366h1v1h-1zM109 347h1v1h-1zM105 361h1v1h-1zM104 354h1v1h-1zM108 372h1v1h-1zM112 358h1v1h-1zM112 368h1v1h-1zM102 372h1v1h-1zM108 362h1v1h-1zM107 372h1v1h-1zM110 362h1v1h-1zM105 362h1v1h-1zM112 357h1v1h-1zM108 367h1v1h-1zM111 354h1v1h-1zM112 372h1v1h-1zM102 371h1v1h-1zM108 350h1v1h-1zM114 366h1v1h-1zM109 362h1v1h-1zM113 368h1v1h-1zM110 360h1v1h-1zM107 370h1v1h-1zM110 361h1v1h-1zM112 362h1v1h-1zM113 367h1v1h-1zM113 355h1v1h-1zM105 362h1v1h-1zM112 366h1v1h-1zM104 371h1v1h-1zM109 370h1v1h-1zM108 364h1v1h-1zM111 356h1v1h-1zM110 367h1v1h-1zM113 370h1v1h-1zM107 369h1v1h-1zM112 371h1v1h-1zM110 358h1v1h-1zM109 364h1v1h-1zM105 368h1v1h-1zM111 360h1v1h-1zM110 361h1v1h-1zM112 368h1v1h-1zM109 368h1v1h-1zM108 372h1v1h-1zM110 366h1v1h-1zM111 372h1v1h-1zM111 359h1v1h-1zM116 373h1v1h-1zM116 372h1v1h-1zM100 359h1v1h-1zM112 364h1v1h-1zM106 364h1v1h-1zM116 369h1v1h-1zM106 368h1v1h-1zM113 369h1v1h-1zM105 372h1v1h-1zM105 372h1v1h-1zM112 364h1v1h-1zM107 369h1v1h-1zM117 365h1v1h-1zM108 363h1v1h-1zM114 366h1v1h-1zM105 368h1v1h-1zM106 349h1v1h-1zM109 354h1v1h-1zM105 373h1v1h-1zM111 366h1v1h-1zM101 373h1v1h-1zM110 366h1v1h-1zM107 358h1v1h-1zM106 353h1v1h-1zM110 359h1v1h-1zM108 363h1v1h-1zM108 359h1v1h-1zM112 367h1v1h-1zM110 373h1v1h-1zM110 359h1v1h-1zM114 370h1v1h-1zM109 360h1v1h-1zM112 362h1v1h-1zM108 352h1v1h-1zM111 361h1v1h-1zM111 373h1v1h-1zM107 355h1v1h-1zM104 366h1v1h-1zM105 354h1v1h-1zM106 371h1v1h-1zM111 351h1v1h-1zM109 361h1v1h-1zM108 371h1v1h-1zM111 368h1v1h-1zM112 371h1v1h-1zM114 363h1v1h-1zM107 361h1v1h-1zM111 366h1v1h-1zM111 363h1v1h-1zM106 373h1v1h-1zM109 372h1v1h-1zM106 358h1v1h-1zM108 362h1v1h-1zM110 365h1v1h-1zM103 371h1v1h-1zM106 355h1v1h-1zM106 373h1v1h-1zM109 369h1v1h-1zM107 355h1v1h-1zM110 357h1v1h-1zM107 352h1v1h-1zM107 368h1v1h-1zM111 363h1v1h-1zM110 357h1v1h-1zM110 371h1v1h-1zM109 362h1v1h-1zM113 369h1v1h-1zM113 357h1v1h-1zM108 364h1v1h-1zM106 367h1v1h-1zM106 362h1v1h-1zM115 372h1v1h-1zM106 363h1v1h-1zM104 368h1v1h-1zM110 360h1v1h-1zM112 351h1v1h-1zM109 369h1v1h-1zM104 371h1v1h-1zM107 361h1v1h-1zM114 361h1v1h-1zM110 371h1v1h-1zM108 358h1v1h-1zM109 368h1v1h-1zM110 371h1v1h-1zM109 369h1v1h-1zM105 366h1v1h-1zM105 357h1v1h-1zM116 364h1v1h-1zM107 360h1v1h-1zM113 369h1v1h-1zM107 360h1v1h-1zM113 364h1v1h-1zM112 372h1v1h-1zM108 368h1v1h-1zM116 370h1v1h-1zM106 365h1v1h-1zM108 351h1v1h-1zM106 365h1v1h-1zM106 366h1v1h-1zM108 373h1v1h-1zM106 372h1v1h-1zM108 371h1v1h-1zM114 366h1v1h-1zM103 373h1v1h-1zM105 364h1v1h-1zM106 372h1v1h-1zM107 363h1v1h-1zM113 369h1v1h-1zM112 373h1v1h-1zM111 371h1v1h-1zM110 368h1v1h-1zM117 368h1v1h-1zM106 353h1v1h-1zM105 371h1v1h-1zM109 363h1v1h-1zM110 369h1v1h-1zM108 364h1v1h-1zM106 364h1v1h-1zM104 371h1v1h-1zM108 372h1v1h-1zM107 368h1v1h-1zM107 366h1v1h-1zM105 373h1v1h-1zM113 364h1v1h-1zM110 355h1v1h-1zM116 373h1v1h-1zM107 365h1v1h-1zM109 371h1v1h-1zM108 361h1v1h-1zM109 358h1v1h-1zM108 359h1v1h-1zM108 372h1v1h-1zM103 352h1v1h-1zM108 366h1v1h-1zM112 372h1v1h-1zM103 360h1v1h-1zM108 360h1v1h-1zM111 370h1v1h-1zM114 371h1v1h-1zM109 368h1v1h-1zM111 364h1v1h-1zM114 358h1v1h-1zM114 371h1v1h-1zM108 351h1v1h-1zM107 367h1v1h-1zM112 350h1v1h-1zM110 362h1v1h-1zM107 370h1v1h-1zM108 370h1v1h-1zM110 369h1v1h-1zM108 363h1v1h-1zM108 368h1v1h-1zM108 355h1v1h-1zM104 370h1v1h-1zM115 365h1v1h-1zM113 365h1v1h-1zM115 373h1v1h-1zM109 360h1v1h-1zM109 368h1v1h-1zM111 363h1v1h-1zM112 369h1v1h-1zM102 373h1v1h-1zM110 365h1v1h-1zM106 346h1v1h-1zM109 366h1v1h-1zM107 372h1v1h-1zM114 352h1v1h-1zM111 352h1v1h-1zM109 364h1v1h-1zM114 363h1v1h-1zM109 373h1v1h-1zM107 364h1v1h-1zM108 369h1v1h-1zM108 373h1v1h-1zM109 364h1v1h-1zM112 372h1v1h-1zM109 368h1v1h-1zM109 360h1v1h-1zM113 368h1v1h-1zM110 372h1v1h-1zM112 360h1v1h-1zM109 372h1v1h-1zM104 369h1v1h-1zM105 370h1v1h-1zM103 366h1v1h-1zM110 366h1v1h-1zM107 361h1v1h-1zM106 365h1v1h-1zM110 354h1v1h-1zM109 359h1v1h-1zM110 364h1v1h-1zM106 372h1v1h-1zM105 368h1v1h-1zM114 361h1v1h-1zM106 373h1v1h-1zM109 371h1v1h-1zM113 358h1v1h-1zM104 351h1v1h-1zM111 370h1v1h-1zM109 369h1v1h-1zM109 350h1v1h-1zM110 372h1v1h-1zM105 373h1v1h-1zM101 372h1v1h-1zM116 368h1v1h-1zM108 366h1v1h-1zM112 367h1v1h-1zM113 372h1v1h-1zM110 353h1v1h-1zM110 356h1v1h-1zM111 368h1v1h-1zM115 370h1v1h-1zM111 371h1v1h-1zM113 362h1v1h-1zM108 368h1v1h-1zM107 372h1v1h-1zM109 369h1v1h-1zM110 367h1v1h-1zM111 373h1v1h-1zM116 373h1v1h-1zM112 367h1v1h-1zM109 373h1v1h-1zM116 372h1v1h-1zM110 368h1v1h-1zM110 367h1v1h-1zM111 372h1v1h-1zM108 366h1v1h-1zM106 361h1v1h-1zM109 371h1v1h-1zM108 371h1v1h-1zM106 373h1v1h-1zM109 353h1v1h-1zM108 363h1v1h-1zM107 363h1v1h-1zM103 373h1v1h-1zM108 368h1v1h-1zM115 370h1v1h-1zM112 356h1v1h-1zM113 373h1v1h-1zM109 359h1v1h-1zM113 367h1v1h-1zM107 357h1v1h-1zM108 363h1v1h-1zM111 364h1v1h-1zM104 363h1v1h-1zM109 364h1v1h-1zM110 354h1v1h-1zM115 363h1v1h-1zM107 371h1v1h-1zM110 362h1v1h-1zM107 365h1v1h-1zM107 373h1v1h-1zM100 368h1v1h-1zM106 355h1v1h-1zM113 366h1v1h-1zM111 372h1v1h-1zM109 354h1v1h-1zM117 359h1v1h-1zM111 366h1v1h-1zM105 370h1v1h-1zM108 369h1v1h-1zM109 358h1v1h-1zM114 353h1v1h-1zM106 357h1v1h-1zM110 360h1v1h-1zM112 368h1v1h-1zM107 356h1v1h-1zM109 362h1v1h-1zM102 373h1v1h-1zM109 370h1v1h-1zM102 360h1v1h-1zM108 373h1v1h-1zM115 371h1v1h-1zM110 363h1v1h-1zM109 370h1v1h-1zM110 364h1v1h-1zM117 373h1v1h-1zM111 364h1v1h-1zM113 366h1v1h-1zM108 365h1v1h-1zM108 363h1v1h-1zM106 353h1v1h-1zM108 372h1v1h-1zM107 354h1v1h-1zM112 367h1v1h-1zM111 371h1v1h-1zM109 371h1v1h-1zM107 361h1v1h-1zM99 369h1v1h-1zM107 369h1v1h-1zM110 357h1v1h-1zM111 368h1v1h-1zM98 371h1v1h-1zM100 372h1v1h-1zM109 354h1v1h-1zM105 368h1v1h-1zM108 363h1v1h-1zM108 353h1v1h-1zM111 371h1v1h-1zM104 349h1v1h-1zM107 366h1v1h-1zM112 368h1v1h-1zM110 368h1v1h-1zM106 372h1v1h-1zM111 368h1v1h-1zM110 353h1v1h-1zM106 362h1v1h-1zM111 361h1v1h-1zM111 371h1v1h-1zM112 368h1v1h-1zM105 365h1v1h-1zM112 370h1v1h-1zM108 370h1v1h-1zM106 369h1v1h-1zM107 371h1v1h-1zM113 360h1v1h-1zM107 369h1v1h-1zM108 368h1v1h-1zM107 365h1v1h-1zM106 371h1v1h-1zM112 370h1v1h-1zM117 371h1v1h-1zM114 368h1v1h-1zM110 347h1v1h-1zM112 369h1v1h-1zM108 355h1v1h-1zM107 362h1v1h-1zM106 352h1v1h-1zM114 370h1v1h-1zM108 362h1v1h-1zM107 364h1v1h-1zM107 364h1v1h-1zM110 370h1v1h-1zM107 361h1v1h-1zM109 362h1v1h-1zM110 371h1v1h-1zM114 371h1v1h-1zM105 356h1v1h-1zM110 369h1v1h-1zM107 362h1v1h-1zM108 361h1v1h-1zM114 361h1v1h-1zM111 368h1v1h-1zM108 354h1v1h-1zM111 359h1v1h-1zM109 357h1v1h-1zM113 373h1v1h-1zM107 360h1v1h-1zM110 356h1v1h-1zM108 371h1v1h-1zM109 359h1v1h-1zM109 358h1v1h-1zM107 366h1v1h-1zM109 370h1v1h-1zM113 373h1v1h-1zM107 371h1v1h-1zM108 372h1v1h-1zM110 366h1v1h-1zM107 364h1v1h-1zM112 361h1v1h-1zM112 373h1v1h-1zM101 365h1v1h-1zM107 364h1v1h-1zM106 351h1v1h-1zM112 367h1v1h-1zM112 367h1v1h-1zM105 360h1v1h-1zM107 371h1v1h-1zM109 357h1v1h-1zM108 363h1v1h-1zM111 361h1v1h-1zM112 370h1v1h-1zM111 369h1v1h-1zM113 367h1v1h-1zM112 373h1v1h-1zM109 371h1v1h-1zM108 357h1v1h-1zM107 367h1v1h-1zM112 362h1v1h-1zM112 358h1v1h-1zM113 372h1v1h-1zM108 368h1v1h-1zM108 359h1v1h-1zM110 371h1v1h-1zM113 361h1v1h-1zM110 372h1v1h-1zM110 366h1v1h-1zM107 356h1v1h-1zM111 368h1v1h-1zM111 367h1v1h-1zM106 370h1v1h-1zM115 361h1v1h-1zM106 370h1v1h-1zM112 370h1v1h-1zM108 363h1v1h-1zM110 370h1v1h-1zM106 370h1v1h-1zM111 364h1v1h-1zM108 373h1v1h-1zM108 371h1v1h-1zM112 369h1v1h-1zM112 373h1v1h-1zM110 371h1v1h-1zM110 359h1v1h-1zM115 372h1v1h-1zM108 372h1v1h-1zM110 373h1v1h-1zM110 357h1v1h-1zM104 372h1v1h-1zM103 360h1v1h-1zM109 369h1v1h-1zM112 359h1v1h-1zM110 364h1v1h-1zM107 370h1v1h-1zM107 368h1v1h-1zM112 367h1v1h-1zM108 369h1v1h-1zM104 366h1v1h-1zM111 368h1v1h-1zM110 346h1v1h-1zM110 364h1v1h-1zM113 365h1v1h-1zM114 368h1v1h-1zM111 360h1v1h-1zM109 359h1v1h-1zM102 359h1v1h-1zM110 367h1v1h-1zM109 363h1v1h-1zM114 372h1v1h-1zM114 371h1v1h-1zM111 373h1v1h-1zM114 365h1v1h-1zM109 363h1v1h-1zM109 357h1v1h-1zM106 363h1v1h-1zM108 370h1v1h-1zM110 363h1v1h-1zM113 371h1v1h-1zM107 363h1v1h-1zM112 369h1v1h-1zM117 364h1v1h-1zM105 363h1v1h-1zM108 370h1v1h-1zM109 369h1v1h-1zM112 366h1v1h-1zM116 367h1v1h-1zM113 366h1v1h-1zM109 362h1v1h-1zM106 363h1v1h-1zM109 357h1v1h-1zM109 364h1v1h-1zM110 367h1v1h-1zM106 363h1v1h-1zM114 364h1v1h-1zM107 363h1v1h-1zM111 369h1v1h-1zM110 361h1v1h-1zM106 360h1v1h-1zM109 365h1v1h-1zM109 362h1v1h-1zM108 369h1v1h-1zM112 367h1v1h-1zM107 369h1v1h-1zM118 371h1v1h-1zM113 370h1v1h-1zM106 364h1v1h-1zM100 373h1v1h-1zM113 364h1v1h-1zM110 364h1v1h-1zM109 364h1v1h-1zM106 364h1v1h-1zM104 367h1v1h-1zM102 372h1v1h-1zM117 361h1v1h-1zM114 355h1v1h-1zM107 365h1v1h-1zM115 358h1v1h-1zM103 368h1v1h-1zM112 372h1v1h-1zM112 370h1v1h-1zM106 369h1v1h-1zM107 370h1v1h-1zM106 356h1v1h-1zM109 370h1v1h-1zM114 373h1v1h-1zM112 365h1v1h-1zM110 365h1v1h-1zM113 360h1v1h-1zM103 366h1v1h-1zM116 373h1v1h-1zM109 372h1v1h-1zM105 350h1v1h-1zM108 358h1v1h-1zM107 362h1v1h-1zM109 370h1v1h-1zM110 354h1v1h-1zM102 354h1v1h-1zM113 360h1v1h-1zM115 370h1v1h-1zM114 365h1v1h-1zM113 369h1v1h-1zM113 371h1v1h-1zM115 371h1v1h-1zM104 370h1v1h-1zM112 373h1v1h-1zM106 365h1v1h-1zM117 365h1v1h-1zM106 368h1v1h-1zM105 366h1v1h-1zM113 367h1v1h-1zM111 370h1v1h-1zM109 365h1v1h-1zM110 372h1v1h-1zM111 366h1v1h-1zM115 364h1v1h-1zM107 361h1v1h-1zM107 354h1v1h-1zM107 367h1v1h-1zM109 365h1v1h-1zM109 367h1v1h-1zM105 361h1v1h-1zM110 363h1v1h-1zM105 360h1v1h-1zM108 367h1v1h-1zM108 368h1v1h-1zM108 366h1v1h-1zM114 367h1v1h-1zM115 365h1v1h-1zM113 366h1v1h-1zM114 352h1v1h-1zM108 369h1v1h-1zM114 365h1v1h-1zM109 355h1v1h-1zM110 369h1v1h-1zM110 348h1v1h-1zM104 370h1v1h-1zM107 357h1v1h-1zM110 368h1v1h-1zM109 364h1v1h-1zM106 369h1v1h-1zM105 364h1v1h-1zM109 366h1v1h-1zM105 373h1v1h-1zM105 365h1v1h-1zM109 359h1v1h-1zM110 369h1v1h-1zM106 361h1v1h-1zM103 360h1v1h-1zM110 369h1v1h-1zM112 369h1v1h-1zM108 352h1v1h-1zM108 361h1v1h-1zM100 373h1v1h-1zM111 349h1v1h-1zM106 354h1v1h-1zM112 371h1v1h-1zM107 372h1v1h-1zM109 363h1v1h-1zM108 359h1v1h-1zM103 364h1v1h-1zM119 371h1v1h-1zM103 369h1v1h-1zM109 372h1v1h-1zM106 366h1v1h-1zM108 363h1v1h-1zM114 373h1v1h-1zM102 371h1v1h-1zM108 372h1v1h-1zM110 351h1v1h-1zM109 351h1v1h-1zM110 361h1v1h-1zM106 368h1v1h-1zM103 371h1v1h-1zM105 360h1v1h-1zM108 359h1v1h-1zM111 352h1v1h-1zM109 365h1v1h-1zM115 366h1v1h-1zM109 371h1v1h-1zM110 363h1v1h-1zM110 371h1v1h-1zM103 363h1v1h-1zM111 365h1v1h-1zM105 371h1v1h-1zM108 368h1v1h-1zM117 371h1v1h-1zM105 369h1v1h-1zM109 362h1v1h-1zM110 361h1v1h-1zM109 370h1v1h-1zM109 361h1v1h-1zM107 363h1v1h-1zM115 352h1v1h-1zM102 366h1v1h-1zM105 372h1v1h-1zM114 364h1v1h-1zM111 362h1v1h-1zM107 360h1v1h-1zM106 356h1v1h-1zM108 365h1v1h-1zM119 372h1v1h-1zM111 365h1v1h-1zM105 366h1v1h-1zM110 368h1v1h-1zM107 365h1v1h-1zM114 367h1v1h-1zM110 371h1v1h-1zM113 364h1v1h-1zM110 366h1v1h-1zM116 360h1v1h-1zM110 369h1v1h-1zM110 372h1v1h-1zM106 365h1v1h-1zM108 362h1v1h-1zM110 359h1v1h-1zM107 358h1v1h-1zM117 358h1v1h-1zM109 366h1v1h-1zM106 371h1v1h-1zM112 367h1v1h-1zM107 368h1v1h-1zM110 372h1v1h-1zM109 363h1v1h-1zM107 367h1v1h-1zM114 373h1v1h-1zM109 359h1v1h-1zM112 354h1v1h-1zM108 353h1v1h-1zM104 363h1v1h-1zM105 357h1v1h-1zM107 361h1v1h-1zM108 357h1v1h-1zM109 365h1v1h-1zM111 363h1v1h-1zM105 370h1v1h-1zM110 363h1v1h-1zM105 358h1v1h-1zM107 360h1v1h-1zM118 371h1v1h-1zM114 373h1v1h-1zM108 373h1v1h-1zM115 368h1v1h-1zM114 365h1v1h-1zM111 350h1v1h-1zM114 369h1v1h-1zM108 371h1v1h-1zM109 364h1v1h-1zM107 350h1v1h-1zM111 372h1v1h-1zM105 367h1v1h-1zM107 364h1v1h-1zM111 363h1v1h-1zM107 369h1v1h-1zM110 370h1v1h-1zM115 363h1v1h-1zM106 361h1v1h-1zM114 367h1v1h-1zM107 368h1v1h-1zM106 356h1v1h-1zM110 354h1v1h-1zM113 372h1v1h-1zM107 349h1v1h-1zM106 369h1v1h-1zM107 369h1v1h-1zM107 354h1v1h-1zM109 346h1v1h-1zM106 372h1v1h-1zM108 366h1v1h-1zM110 367h1v1h-1zM108 369h1v1h-1zM113 364h1v1h-1zM107 365h1v1h-1zM106 371h1v1h-1zM116 373h1v1h-1zM114 368h1v1h-1zM109 373h1v1h-1zM112 360h1v1h-1zM110 365h1v1h-1zM107 370h1v1h-1zM111 367h1v1h-1zM110 370h1v1h-1zM114 370h1v1h-1zM102 372h1v1h-1zM112 372h1v1h-1zM110 365h1v1h-1zM107 361h1v1h-1zM107 370h1v1h-1zM108 373h1v1h-1zM105 361h1v1h-1zM107 372h1v1h-1zM112 368h1v1h-1zM104 364h1v1h-1zM108 371h1v1h-1zM100 372h1v1h-1zM107 366h1v1h-1zM110 371h1v1h-1zM109 362h1v1h-1zM109 372h1v1h-1zM105 373h1v1h-1zM111 364h1v1h-1zM106 369h1v1h-1zM112 371h1v1h-1zM110 367h1v1h-1zM108 368h1v1h-1zM114 368h1v1h-1zM108 356h1v1h-1zM113 371h1v1h-1zM109 364h1v1h-1zM109 366h1v1h-1zM113 370h1v1h-1zM110 353h1v1h-1zM109 372h1v1h-1zM109 361h1v1h-1zM110 372h1v1h-1zM109 351h1v1h-1zM108 364h1v1h-1zM105 372h1v1h-1zM100 369h1v1h-1zM109 356h1v1h-1zM108 369h1v1h-1zM112 345h1v1h-1zM111 365h1v1h-1zM113 371h1v1h-1zM109 363h1v1h-1zM106 367h1v1h-1zM112 370h1v1h-1zM107 368h1v1h-1zM108 363h1v1h-1zM114 372h1v1h-1zM111 364h1v1h-1zM112 354h1v1h-1zM105 346h1v1h-1zM109 370h1v1h-1zM113 366h1v1h-1zM105 357h1v1h-1zM110 367h1v1h-1zM110 363h1v1h-1zM101 367h1v1h-1zM115 370h1v1h-1zM107 365h1v1h-1zM109 361h1v1h-1zM115 371h1v1h-1zM103 371h1v1h-1zM111 370h1v1h-1zM107 366h1v1h-1zM109 360h1v1h-1zM106 368h1v1h-1zM114 370h1v1h-1zM105 361h1v1h-1zM110 373h1v1h-1zM111 366h1v1h-1zM109 358h1v1h-1zM108 372h1v1h-1zM108 370h1v1h-1zM112 351h1v1h-1zM110 348h1v1h-1zM109 356h1v1h-1zM105 364h1v1h-1zM110 358h1v1h-1zM111 371h1v1h-1zM109 364h1v1h-1zM113 358h1v1h-1zM102 372h1v1h-1zM118 369h1v1h-1zM108 373h1v1h-1zM105 360h1v1h-1zM103 363h1v1h-1zM112 368h1v1h-1zM111 359h1v1h-1zM108 371h1v1h-1zM109 366h1v1h-1zM110 370h1v1h-1zM107 371h1v1h-1zM113 360h1v1h-1zM111 366h1v1h-1zM109 367h1v1h-1zM104 359h1v1h-1zM114 365h1v1h-1zM107 369h1v1h-1zM105 371h1v1h-1zM113 365h1v1h-1zM111 361h1v1h-1zM102 363h1v1h-1zM103 370h1v1h-1zM108 368h1v1h-1zM104 371h1v1h-1zM108 373h1v1h-1zM119 373h1v1h-1zM118 356h1v1h-1zM109 369h1v1h-1zM111 353h1v1h-1zM112 373h1v1h-1zM109 366h1v1h-1zM104 362h1v1h-1zM113 371h1v1h-1zM108 367h1v1h-1zM111 366h1v1h-1zM111 352h1v1h-1zM106 364h1v1h-1zM115 368h1v1h-1zM109 369h1v1h-1zM110 369h1v1h-1zM107 371h1v1h-1zM112 368h1v1h-1zM112 364h1v1h-1zM107 372h1v1h-1zM111 369h1v1h-1zM108 358h1v1h-1zM105 355h1v1h-1zM108 364h1v1h-1zM111 365h1v1h-1zM111 357h1v1h-1zM113 365h1v1h-1zM107 364h1v1h-1zM108 367h1v1h-1zM109 357h1v1h-1zM111 364h1v1h-1zM109 372h1v1h-1zM106 369h1v1h-1zM105 352h1v1h-1zM113 373h1v1h-1zM113 363h1v1h-1zM107 362h1v1h-1zM114 370h1v1h-1zM109 366h1v1h-1zM111 366h1v1h-1zM113 366h1v1h-1zM107 370h1v1h-1zM106 366h1v1h-1zM104 354h1v1h-1zM110 353h1v1h-1zM111 369h1v1h-1zM112 372h1v1h-1zM111 362h1v1h-1zM109 358h1v1h-1zM113 368h1v1h-1zM106 354h1v1h-1zM110 372h1v1h-1zM111 361h1v1h-1zM109 368h1v1h-1zM115 372h1v1h-1zM111 368h1v1h-1zM114 373h1v1h-1zM112 362h1v1h-1zM108 364h1v1h-1zM116 370h1v1h-1zM113 367h1v1h-1zM109 368h1v1h-1zM109 351h1v1h-1zM106 357h1v1h-1zM109 346h1v1h-1zM108 366h1v1h-1zM110 363h1v1h-1zM108 356h1v1h-1zM111 367h1v1h-1zM109 358h1v1h-1zM103 370h1v1h-1zM107 372h1v1h-1zM106 367h1v1h-1zM105 362h1v1h-1zM108 361h1v1h-1zM112 357h1v1h-1zM105 363h1v1h-1zM102 362h1v1h-1zM109 354h1v1h-1zM120 372h1v1h-1zM107 362h1v1h-1zM110 354h1v1h-1zM108 363h1v1h-1zM112 373h1v1h-1zM114 362h1v1h-1zM109 356h1v1h-1zM113 360h1v1h-1zM105 372h1v1h-1zM110 366h1v1h-1zM104 372h1v1h-1zM110 366h1v1h-1zM107 370h1v1h-1zM110 361h1v1h-1zM106 359h1v1h-1zM110 370h1v1h-1zM109 360h1v1h-1zM107 366h1v1h-1zM106 368h1v1h-1zM105 371h1v1h-1zM108 371h1v1h-1zM110 369h1v1h-1zM109 372h1v1h-1zM109 349h1v1h-1zM113 356h1v1h-1zM108 360h1v1h-1zM110 370h1v1h-1zM112 360h1v1h-1zM111 371h1v1h-1zM110 370h1v1h-1zM109 361h1v1h-1zM116 369h1v1h-1zM109 366h1v1h-1zM108 368h1v1h-1zM111 359h1v1h-1zM115 370h1v1h-1zM114 371h1v1h-1zM109 361h1v1h-1zM112 362h1v1h-1zM111 359h1v1h-1zM109 358h1v1h-1zM111 350h1v1h-1zM111 365h1v1h-1zM110 356h1v1h-1zM114 358h1v1h-1zM108 358h1v1h-1zM113 352h1v1h-1zM115 356h1v1h-1zM116 363h1v1h-1zM110 361h1v1h-1zM108 372h1v1h-1zM104 361h1v1h-1zM109 366h1v1h-1zM118 373h1v1h-1zM104 367h1v1h-1zM104 368h1v1h-1zM112 372h1v1h-1zM111 361h1v1h-1zM103 364h1v1h-1zM109 369h1v1h-1zM110 373h1v1h-1zM104 370h1v1h-1zM113 373h1v1h-1zM105 365h1v1h-1zM113 372h1v1h-1zM110 370h1v1h-1zM107 373h1v1h-1zM103 372h1v1h-1zM108 366h1v1h-1zM109 353h1v1h-1zM109 367h1v1h-1zM107 367h1v1h-1zM108 363h1v1h-1zM112 352h1v1h-1zM106 360h1v1h-1zM108 362h1v1h-1zM111 370h1v1h-1zM109 370h1v1h-1zM112 361h1v1h-1zM114 363h1v1h-1zM108 373h1v1h-1zM110 362h1v1h-1zM100 360h1v1h-1zM108 371h1v1h-1zM111 356h1v1h-1zM105 364h1v1h-1zM114 373h1v1h-1zM102 370h1v1h-1zM114 366h1v1h-1zM108 354h1v1h-1zM106 365h1v1h-1zM107 365h1v1h-1zM108 370h1v1h-1zM106 365h1v1h-1zM105 362h1v1h-1zM107 359h1v1h-1zM112 370h1v1h-1zM111 371h1v1h-1zM114 372h1v1h-1zM107 362h1v1h-1zM108 372h1v1h-1zM108 356h1v1h-1zM110 370h1v1h-1zM111 365h1v1h-1zM116 372h1v1h-1zM111 363h1v1h-1zM110 369h1v1h-1zM113 360h1v1h-1zM107 354h1v1h-1zM105 366h1v1h-1zM111 371h1v1h-1zM110 363h1v1h-1zM109 362h1v1h-1zM112 369h1v1h-1zM108 371h1v1h-1zM109 367h1v1h-1zM110 368h1v1h-1zM111 356h1v1h-1zM112 362h1v1h-1zM109 373h1v1h-1zM110 371h1v1h-1zM101 359h1v1h-1zM113 369h1v1h-1zM103 371h1v1h-1zM109 356h1v1h-1zM117 355h1v1h-1zM108 352h1v1h-1zM105 349h1v1h-1zM115 373h1v1h-1zM107 370h1v1h-1zM108 364h1v1h-1zM108 368h1v1h-1zM112 368h1v1h-1zM106 364h1v1h-1zM106 372h1v1h-1zM114 360h1v1h-1zM97 362h1v1h-1zM112 365h1v1h-1zM108 366h1v1h-1zM105 365h1v1h-1zM106 365h1v1h-1zM112 368h1v1h-1zM112 355h1v1h-1zM116 360h1v1h-1zM104 359h1v1h-1zM97 366h1v1h-1zM104 370h1v1h-1zM106 368h1v1h-1zM105 372h1v1h-1zM113 348h1v1h-1zM119 361h1v1h-1zM110 370h1v1h-1zM98 371h1v1h-1zM113 362h1v1h-1zM104 373h1v1h-1zM108 367h1v1h-1zM112 362h1v1h-1zM109 360h1v1h-1zM107 360h1v1h-1zM109 372h1v1h-1zM112 369h1v1h-1zM118 352h1v1h-1zM104 366h1v1h-1zM112 360h1v1h-1zM109 371h1v1h-1zM112 356h1v1h-1zM100 368h1v1h-1zM106 363h1v1h-1zM111 372h1v1h-1zM107 355h1v1h-1zM105 364h1v1h-1zM116 371h1v1h-1zM97 358h1v1h-1zM116 367h1v1h-1zM109 369h1v1h-1zM103 370h1v1h-1zM111 368h1v1h-1zM114 373h1v1h-1zM103 373h1v1h-1zM112 364h1v1h-1zM103 368h1v1h-1zM109 366h1v1h-1zM111 366h1v1h-1zM107 364h1v1h-1zM111 367h1v1h-1zM104 369h1v1h-1zM113 371h1v1h-1zM105 367h1v1h-1zM104 371h1v1h-1zM107 364h1v1h-1zM107 358h1v1h-1zM103 372h1v1h-1zM112 369h1v1h-1zM107 370h1v1h-1zM111 373h1v1h-1zM100 354h1v1h-1zM100 371h1v1h-1zM106 353h1v1h-1zM102 367h1v1h-1zM107 359h1v1h-1zM110 365h1v1h-1zM113 355h1v1h-1zM115 365h1v1h-1zM111 357h1v1h-1zM104 361h1v1h-1zM110 364h1v1h-1zM105 360h1v1h-1zM110 370h1v1h-1zM102 371h1v1h-1zM115 369h1v1h-1zM110 372h1v1h-1zM106 370h1v1h-1zM100 370h1v1h-1zM109 365h1v1h-1zM105 373h1v1h-1zM109 365h1v1h-1zM104 360h1v1h-1zM104 371h1v1h-1zM111 359h1v1h-1zM115 364h1v1h-1zM101 366h1v1h-1zM106 362h1v1h-1zM109 361h1v1h-1zM107 361h1v1h-1zM105 365h1v1h-1zM119 364h1v1h-1zM103 362h1v1h-1zM109 362h1v1h-1zM105 345h1v1h-1zM107 370h1v1h-1zM95 366h1v1h-1zM112 358h1v1h-1zM106 360h1v1h-1zM103 359h1v1h-1zM116 354h1v1h-1zM106 367h1v1h-1zM104 368h1v1h-1zM103 365h1v1h-1zM113 357h1v1h-1zM108 347h1v1h-1zM106 360h1v1h-1zM101 361h1v1h-1zM103 370h1v1h-1zM109 357h1v1h-1zM97 368h1v1h-1zM103 359h1v1h-1zM109 364h1v1h-1zM121 359h1v1h-1zM103 367h1v1h-1zM96 360h1v1h-1zM112 366h1v1h-1zM105 368h1v1h-1zM101 364h1v1h-1zM111 371h1v1h-1zM106 359h1v1h-1zM102 373h1v1h-1zM101 365h1v1h-1zM108 354h1v1h-1zM98 370h1v1h-1zM113 367h1v1h-1zM101 361h1v1h-1zM115 373h1v1h-1zM109 368h1v1h-1zM107 355h1v1h-1zM109 368h1v1h-1zM104 359h1v1h-1zM107 364h1v1h-1zM116 358h1v1h-1zM105 360h1v1h-1zM112 366h1v1h-1zM103 359h1v1h-1zM107 361h1v1h-1zM113 368h1v1h-1zM101 370h1v1h-1zM109 356h1v1h-1zM96 372h1v1h-1zM101 368h1v1h-1zM105 367h1v1h-1zM112 361h1v1h-1zM111 363h1v1h-1zM103 360h1v1h-1zM107 368h1v1h-1zM108 367h1v1h-1zM100 353h1v1h-1zM110 354h1v1h-1zM115 366h1v1h-1zM114 367h1v1h-1zM105 356h1v1h-1zM105 372h1v1h-1zM102 370h1v1h-1zM105 364h1v1h-1zM106 354h1v1h-1zM111 349h1v1h-1zM108 365h1v1h-1zM103 350h1v1h-1zM112 354h1v1h-1zM112 358h1v1h-1zM104 367h1v1h-1zM106 364h1v1h-1zM107 365h1v1h-1zM99 362h1v1h-1zM108 355h1v1h-1zM111 362h1v1h-1zM117 361h1v1h-1zM108 369h1v1h-1zM106 368h1v1h-1zM111 365h1v1h-1zM112 359h1v1h-1zM103 367h1v1h-1zM109 372h1v1h-1zM111 364h1v1h-1zM97 364h1v1h-1zM115 372h1v1h-1zM106 356h1v1h-1zM112 370h1v1h-1zM107 352h1v1h-1zM106 370h1v1h-1zM107 353h1v1h-1zM109 366h1v1h-1zM112 362h1v1h-1zM106 353h1v1h-1zM102 366h1v1h-1zM104 367h1v1h-1zM103 360h1v1h-1zM112 366h1v1h-1zM91 353h1v1h-1zM92 359h1v1h-1zM64 365h1v1h-1zM86 347h1v1h-1zM71 364h1v1h-1zM60 357h1v1h-1zM77 370h1v1h-1zM87 367h1v1h-1zM79 366h1v1h-1zM61 345h1v1h-1zM88 360h1v1h-1zM74 346h1v1h-1zM78 354h1v1h-1zM73 349h1v1h-1zM91 358h1v1h-1zM77 350h1v1h-1zM86 353h1v1h-1zM91 366h1v1h-1zM79 367h1v1h-1zM87 366h1v1h-1zM66 365h1v1h-1zM66 354h1v1h-1zM84 345h1v1h-1zM82 346h1v1h-1zM91 361h1v1h-1zM71 372h1v1h-1zM65 359h1v1h-1zM73 358h1v1h-1zM89 369h1v1h-1zM77 355h1v1h-1zM102 369h1v1h-1zM131 356h1v1h-1zM93 352h1v1h-1zM115 351h1v1h-1zM100 350h1v1h-1zM103 350h1v1h-1zM131 362h1v1h-1zM120 349h1v1h-1zM115 360h1v1h-1zM98 370h1v1h-1zM130 366h1v1h-1zM111 360h1v1h-1zM97 357h1v1h-1zM115 354h1v1h-1zM97 351h1v1h-1zM105 333h1v1h-1zM102 325h1v1h-1zM100 334h1v1h-1zM109 323h1v1h-1zM110 331h1v1h-1zM104 333h1v1h-1zM100 335h1v1h-1zM103 328h1v1h-1zM211 364h1v1h-1zM215 357h1v1h-1zM223 363h1v1h-1zM213 371h1v1h-1zM218 368h1v1h-1zM210 368h1v1h-1zM213 370h1v1h-1zM208 372h1v1h-1zM209 360h1v1h-1zM216 350h1v1h-1zM213 364h1v1h-1zM213 367h1v1h-1zM207 372h1v1h-1zM219 369h1v1h-1zM210 372h1v1h-1zM208 365h1v1h-1zM211 370h1v1h-1zM214 357h1v1h-1zM214 372h1v1h-1zM218 371h1v1h-1zM206 369h1v1h-1zM209 372h1v1h-1zM218 372h1v1h-1zM221 362h1v1h-1zM208 361h1v1h-1zM211 350h1v1h-1zM204 367h1v1h-1zM207 362h1v1h-1zM207 364h1v1h-1zM210 361h1v1h-1zM206 360h1v1h-1zM215 357h1v1h-1zM211 368h1v1h-1zM210 372h1v1h-1zM215 369h1v1h-1zM210 373h1v1h-1zM205 367h1v1h-1zM211 356h1v1h-1zM219 354h1v1h-1zM211 373h1v1h-1zM213 370h1v1h-1zM210 367h1v1h-1zM210 355h1v1h-1zM213 365h1v1h-1zM199 367h1v1h-1zM205 372h1v1h-1zM208 362h1v1h-1zM210 353h1v1h-1zM217 366h1v1h-1zM221 355h1v1h-1zM213 350h1v1h-1zM213 371h1v1h-1zM214 364h1v1h-1zM217 360h1v1h-1zM207 358h1v1h-1zM209 372h1v1h-1zM212 370h1v1h-1zM212 366h1v1h-1zM203 355h1v1h-1zM213 357h1v1h-1zM204 366h1v1h-1zM215 372h1v1h-1zM215 369h1v1h-1zM201 363h1v1h-1zM213 370h1v1h-1zM212 357h1v1h-1zM208 359h1v1h-1zM215 366h1v1h-1zM220 364h1v1h-1zM213 356h1v1h-1zM206 366h1v1h-1zM205 363h1v1h-1zM205 370h1v1h-1zM206 369h1v1h-1zM216 371h1v1h-1zM212 372h1v1h-1zM211 369h1v1h-1zM215 363h1v1h-1zM211 358h1v1h-1zM211 367h1v1h-1zM207 357h1v1h-1zM208 368h1v1h-1zM211 372h1v1h-1zM206 368h1v1h-1zM218 366h1v1h-1zM212 369h1v1h-1zM209 364h1v1h-1zM215 361h1v1h-1zM207 354h1v1h-1zM216 363h1v1h-1zM220 368h1v1h-1zM208 368h1v1h-1zM209 370h1v1h-1zM207 372h1v1h-1zM205 367h1v1h-1zM206 367h1v1h-1zM212 369h1v1h-1zM208 367h1v1h-1zM215 354h1v1h-1zM200 364h1v1h-1zM213 367h1v1h-1zM211 358h1v1h-1zM211 364h1v1h-1zM208 367h1v1h-1zM219 363h1v1h-1zM209 359h1v1h-1zM213 367h1v1h-1zM210 366h1v1h-1zM209 366h1v1h-1zM211 373h1v1h-1zM213 347h1v1h-1zM207 352h1v1h-1zM209 355h1v1h-1zM205 364h1v1h-1zM213 367h1v1h-1zM207 373h1v1h-1zM208 368h1v1h-1zM214 363h1v1h-1zM211 357h1v1h-1zM212 350h1v1h-1zM210 362h1v1h-1zM213 365h1v1h-1zM211 368h1v1h-1zM207 353h1v1h-1zM212 371h1v1h-1zM209 370h1v1h-1zM210 359h1v1h-1zM212 363h1v1h-1zM208 369h1v1h-1zM206 371h1v1h-1zM216 371h1v1h-1zM219 365h1v1h-1zM209 368h1v1h-1zM216 371h1v1h-1zM212 354h1v1h-1zM208 359h1v1h-1zM208 348h1v1h-1zM210 364h1v1h-1zM209 359h1v1h-1zM209 363h1v1h-1zM210 368h1v1h-1zM207 353h1v1h-1zM215 369h1v1h-1zM206 356h1v1h-1zM206 368h1v1h-1zM215 361h1v1h-1zM215 372h1v1h-1zM217 356h1v1h-1zM211 353h1v1h-1zM208 364h1v1h-1zM216 368h1v1h-1zM210 370h1v1h-1zM210 364h1v1h-1zM207 365h1v1h-1zM213 366h1v1h-1zM200 367h1v1h-1zM213 362h1v1h-1zM202 368h1v1h-1zM214 352h1v1h-1zM204 363h1v1h-1zM214 355h1v1h-1zM222 366h1v1h-1zM210 363h1v1h-1zM206 355h1v1h-1zM219 364h1v1h-1zM209 362h1v1h-1zM206 357h1v1h-1zM217 370h1v1h-1zM199 363h1v1h-1zM205 361h1v1h-1zM205 368h1v1h-1zM208 369h1v1h-1zM202 363h1v1h-1zM214 361h1v1h-1zM216 368h1v1h-1zM211 365h1v1h-1zM209 363h1v1h-1zM203 372h1v1h-1zM213 371h1v1h-1zM208 367h1v1h-1zM213 359h1v1h-1zM216 372h1v1h-1zM211 358h1v1h-1zM202 364h1v1h-1zM207 368h1v1h-1zM217 362h1v1h-1zM212 369h1v1h-1zM217 365h1v1h-1zM200 371h1v1h-1zM210 365h1v1h-1zM210 364h1v1h-1zM204 356h1v1h-1zM208 372h1v1h-1zM215 366h1v1h-1zM213 369h1v1h-1zM209 365h1v1h-1zM212 362h1v1h-1zM217 371h1v1h-1zM206 363h1v1h-1zM212 365h1v1h-1zM216 367h1v1h-1zM208 359h1v1h-1zM217 367h1v1h-1zM210 371h1v1h-1zM216 365h1v1h-1zM215 366h1v1h-1zM212 367h1v1h-1zM210 372h1v1h-1zM208 358h1v1h-1zM212 371h1v1h-1zM212 360h1v1h-1zM218 370h1v1h-1zM211 350h1v1h-1zM212 356h1v1h-1zM217 351h1v1h-1zM212 367h1v1h-1zM213 365h1v1h-1zM219 371h1v1h-1zM211 362h1v1h-1zM213 364h1v1h-1zM214 367h1v1h-1zM210 359h1v1h-1zM206 364h1v1h-1zM204 366h1v1h-1zM210 370h1v1h-1zM216 371h1v1h-1zM215 366h1v1h-1zM219 369h1v1h-1zM215 367h1v1h-1zM208 359h1v1h-1zM204 371h1v1h-1zM209 369h1v1h-1zM210 368h1v1h-1zM208 368h1v1h-1zM215 359h1v1h-1zM208 358h1v1h-1zM214 370h1v1h-1zM215 368h1v1h-1zM203 364h1v1h-1zM209 367h1v1h-1zM217 367h1v1h-1zM215 371h1v1h-1zM211 365h1v1h-1zM206 370h1v1h-1zM208 370h1v1h-1zM211 367h1v1h-1zM216 348h1v1h-1zM213 373h1v1h-1zM211 368h1v1h-1zM212 370h1v1h-1zM215 372h1v1h-1zM203 364h1v1h-1zM207 357h1v1h-1zM211 372h1v1h-1zM216 365h1v1h-1zM216 366h1v1h-1zM208 351h1v1h-1zM211 370h1v1h-1zM207 372h1v1h-1zM209 368h1v1h-1zM212 358h1v1h-1zM209 369h1v1h-1zM208 363h1v1h-1zM206 368h1v1h-1zM204 365h1v1h-1zM210 372h1v1h-1zM212 367h1v1h-1zM214 359h1v1h-1zM207 372h1v1h-1zM208 352h1v1h-1zM216 363h1v1h-1zM213 367h1v1h-1zM215 367h1v1h-1zM208 369h1v1h-1zM208 369h1v1h-1zM206 364h1v1h-1zM216 372h1v1h-1zM206 361h1v1h-1zM203 365h1v1h-1zM208 364h1v1h-1zM217 365h1v1h-1zM211 370h1v1h-1zM212 371h1v1h-1zM211 365h1v1h-1zM211 361h1v1h-1zM210 368h1v1h-1zM205 356h1v1h-1zM218 362h1v1h-1zM210 361h1v1h-1zM216 363h1v1h-1zM204 359h1v1h-1zM213 357h1v1h-1zM205 369h1v1h-1zM205 363h1v1h-1zM212 350h1v1h-1zM216 369h1v1h-1zM217 359h1v1h-1zM217 361h1v1h-1zM210 360h1v1h-1zM215 370h1v1h-1zM208 367h1v1h-1zM208 372h1v1h-1zM212 370h1v1h-1zM210 370h1v1h-1zM215 365h1v1h-1zM203 363h1v1h-1zM216 367h1v1h-1zM208 360h1v1h-1zM218 371h1v1h-1zM216 361h1v1h-1zM206 371h1v1h-1zM211 367h1v1h-1zM214 360h1v1h-1zM208 354h1v1h-1zM208 365h1v1h-1zM210 362h1v1h-1zM214 360h1v1h-1zM215 364h1v1h-1zM209 365h1v1h-1zM215 367h1v1h-1zM217 358h1v1h-1zM215 372h1v1h-1zM208 361h1v1h-1zM207 365h1v1h-1zM212 364h1v1h-1zM214 359h1v1h-1zM213 362h1v1h-1zM209 356h1v1h-1zM207 363h1v1h-1zM216 354h1v1h-1zM210 350h1v1h-1zM218 355h1v1h-1zM206 362h1v1h-1zM209 369h1v1h-1zM208 359h1v1h-1zM220 371h1v1h-1zM217 371h1v1h-1zM209 366h1v1h-1zM203 364h1v1h-1zM216 372h1v1h-1zM212 363h1v1h-1zM206 369h1v1h-1zM204 366h1v1h-1zM213 372h1v1h-1zM210 361h1v1h-1zM212 365h1v1h-1zM213 369h1v1h-1zM209 361h1v1h-1zM210 360h1v1h-1zM214 372h1v1h-1zM211 354h1v1h-1zM210 372h1v1h-1zM214 368h1v1h-1zM202 364h1v1h-1zM217 368h1v1h-1zM213 366h1v1h-1zM207 371h1v1h-1zM210 371h1v1h-1zM217 367h1v1h-1zM213 363h1v1h-1zM204 357h1v1h-1zM207 356h1v1h-1zM212 361h1v1h-1zM218 359h1v1h-1zM214 368h1v1h-1zM210 361h1v1h-1zM214 364h1v1h-1zM211 367h1v1h-1zM210 360h1v1h-1zM213 365h1v1h-1zM201 370h1v1h-1zM215 365h1v1h-1zM213 363h1v1h-1zM209 360h1v1h-1zM207 369h1v1h-1zM205 372h1v1h-1zM212 354h1v1h-1zM212 365h1v1h-1zM212 369h1v1h-1zM219 367h1v1h-1zM202 358h1v1h-1zM208 371h1v1h-1zM207 368h1v1h-1zM215 362h1v1h-1zM210 367h1v1h-1zM207 366h1v1h-1zM212 352h1v1h-1zM213 368h1v1h-1zM218 368h1v1h-1zM212 369h1v1h-1zM209 357h1v1h-1zM209 369h1v1h-1zM208 356h1v1h-1zM213 363h1v1h-1zM215 371h1v1h-1zM210 360h1v1h-1zM210 367h1v1h-1zM217 370h1v1h-1zM211 369h1v1h-1zM213 371h1v1h-1zM206 373h1v1h-1zM208 365h1v1h-1zM201 372h1v1h-1zM205 363h1v1h-1zM212 353h1v1h-1zM216 364h1v1h-1zM210 367h1v1h-1zM205 372h1v1h-1zM211 368h1v1h-1zM216 366h1v1h-1zM210 371h1v1h-1zM215 366h1v1h-1zM211 364h1v1h-1zM205 371h1v1h-1zM207 360h1v1h-1zM210 361h1v1h-1zM221 369h1v1h-1zM214 371h1v1h-1zM210 369h1v1h-1zM212 371h1v1h-1zM212 372h1v1h-1zM209 360h1v1h-1zM211 367h1v1h-1zM210 357h1v1h-1zM214 357h1v1h-1zM218 359h1v1h-1zM217 369h1v1h-1zM210 368h1v1h-1zM213 356h1v1h-1zM208 361h1v1h-1zM206 367h1v1h-1zM211 355h1v1h-1zM214 372h1v1h-1zM211 371h1v1h-1zM215 372h1v1h-1zM215 365h1v1h-1zM215 371h1v1h-1zM210 372h1v1h-1zM206 356h1v1h-1zM219 367h1v1h-1zM214 366h1v1h-1zM213 372h1v1h-1zM209 366h1v1h-1zM219 363h1v1h-1zM214 372h1v1h-1zM211 363h1v1h-1zM209 356h1v1h-1zM207 365h1v1h-1zM205 369h1v1h-1zM214 370h1v1h-1zM209 367h1v1h-1zM209 370h1v1h-1zM213 362h1v1h-1zM209 369h1v1h-1zM214 362h1v1h-1zM208 362h1v1h-1zM209 367h1v1h-1zM215 370h1v1h-1zM208 369h1v1h-1zM214 366h1v1h-1zM213 369h1v1h-1zM211 371h1v1h-1zM204 355h1v1h-1zM205 371h1v1h-1zM207 357h1v1h-1zM205 371h1v1h-1zM215 369h1v1h-1zM207 367h1v1h-1zM205 372h1v1h-1zM209 362h1v1h-1zM211 367h1v1h-1zM203 371h1v1h-1zM214 365h1v1h-1zM214 369h1v1h-1zM208 371h1v1h-1zM214 363h1v1h-1zM204 371h1v1h-1zM209 354h1v1h-1zM210 355h1v1h-1zM211 359h1v1h-1zM216 369h1v1h-1zM210 358h1v1h-1zM207 352h1v1h-1zM212 357h1v1h-1zM212 359h1v1h-1zM213 367h1v1h-1zM210 361h1v1h-1zM212 364h1v1h-1zM208 367h1v1h-1zM214 369h1v1h-1zM208 359h1v1h-1zM209 354h1v1h-1zM216 370h1v1h-1zM208 358h1v1h-1zM211 362h1v1h-1zM214 369h1v1h-1zM210 360h1v1h-1zM215 360h1v1h-1zM208 371h1v1h-1zM215 353h1v1h-1zM204 367h1v1h-1zM205 361h1v1h-1zM211 362h1v1h-1zM217 365h1v1h-1zM218 365h1v1h-1zM208 354h1v1h-1zM211 349h1v1h-1zM209 354h1v1h-1zM202 364h1v1h-1zM214 371h1v1h-1zM217 369h1v1h-1zM212 370h1v1h-1zM209 360h1v1h-1zM208 353h1v1h-1zM210 367h1v1h-1zM213 362h1v1h-1zM209 365h1v1h-1zM223 363h1v1h-1zM212 370h1v1h-1zM206 358h1v1h-1zM211 358h1v1h-1zM216 368h1v1h-1zM213 359h1v1h-1zM210 364h1v1h-1zM208 364h1v1h-1zM207 371h1v1h-1zM206 366h1v1h-1zM209 368h1v1h-1zM212 357h1v1h-1zM209 361h1v1h-1zM218 369h1v1h-1zM213 365h1v1h-1zM209 366h1v1h-1zM211 367h1v1h-1zM217 366h1v1h-1zM203 369h1v1h-1zM212 362h1v1h-1zM224 372h1v1h-1zM215 365h1v1h-1zM207 367h1v1h-1zM212 359h1v1h-1zM210 363h1v1h-1zM223 366h1v1h-1zM208 367h1v1h-1zM210 372h1v1h-1zM209 371h1v1h-1zM205 358h1v1h-1zM210 369h1v1h-1zM213 365h1v1h-1zM209 367h1v1h-1zM213 370h1v1h-1zM214 364h1v1h-1zM214 353h1v1h-1zM203 371h1v1h-1zM217 357h1v1h-1zM215 371h1v1h-1zM214 358h1v1h-1zM211 372h1v1h-1zM211 359h1v1h-1zM209 358h1v1h-1zM213 364h1v1h-1zM214 350h1v1h-1zM208 365h1v1h-1zM215 366h1v1h-1zM209 368h1v1h-1zM213 357h1v1h-1zM210 368h1v1h-1zM215 363h1v1h-1zM218 350h1v1h-1zM212 372h1v1h-1zM209 372h1v1h-1zM209 365h1v1h-1zM214 368h1v1h-1zM209 360h1v1h-1zM215 366h1v1h-1zM212 359h1v1h-1zM215 356h1v1h-1zM209 359h1v1h-1zM207 364h1v1h-1zM208 365h1v1h-1zM213 361h1v1h-1zM207 371h1v1h-1zM214 372h1v1h-1zM203 358h1v1h-1zM208 367h1v1h-1zM210 371h1v1h-1zM203 370h1v1h-1zM208 367h1v1h-1zM205 362h1v1h-1zM211 358h1v1h-1zM210 365h1v1h-1zM214 368h1v1h-1zM208 358h1v1h-1zM204 368h1v1h-1zM209 363h1v1h-1zM212 372h1v1h-1zM211 370h1v1h-1zM212 371h1v1h-1zM216 362h1v1h-1zM209 365h1v1h-1zM210 368h1v1h-1zM207 369h1v1h-1zM208 372h1v1h-1zM216 370h1v1h-1zM213 371h1v1h-1zM200 365h1v1h-1zM216 365h1v1h-1zM202 371h1v1h-1zM209 363h1v1h-1zM215 359h1v1h-1zM212 370h1v1h-1zM213 366h1v1h-1zM215 369h1v1h-1zM212 367h1v1h-1zM206 353h1v1h-1zM212 355h1v1h-1zM208 368h1v1h-1zM202 348h1v1h-1zM210 367h1v1h-1zM213 366h1v1h-1zM212 369h1v1h-1zM211 372h1v1h-1zM218 362h1v1h-1zM212 372h1v1h-1zM215 372h1v1h-1zM213 370h1v1h-1zM217 351h1v1h-1zM209 366h1v1h-1zM216 366h1v1h-1zM218 355h1v1h-1zM209 366h1v1h-1zM216 364h1v1h-1zM205 366h1v1h-1zM213 371h1v1h-1zM214 355h1v1h-1zM207 371h1v1h-1zM204 359h1v1h-1zM211 366h1v1h-1zM210 360h1v1h-1zM212 371h1v1h-1zM212 368h1v1h-1zM215 362h1v1h-1zM217 357h1v1h-1zM213 366h1v1h-1zM205 355h1v1h-1zM214 369h1v1h-1zM213 351h1v1h-1zM212 359h1v1h-1zM218 362h1v1h-1zM212 369h1v1h-1zM209 371h1v1h-1zM213 360h1v1h-1zM204 361h1v1h-1zM216 371h1v1h-1zM211 363h1v1h-1zM219 367h1v1h-1zM214 371h1v1h-1zM213 371h1v1h-1zM212 364h1v1h-1zM206 364h1v1h-1zM211 368h1v1h-1zM213 373h1v1h-1zM215 352h1v1h-1zM213 369h1v1h-1zM214 364h1v1h-1zM214 354h1v1h-1zM209 371h1v1h-1zM212 362h1v1h-1zM210 369h1v1h-1zM205 371h1v1h-1zM205 356h1v1h-1zM215 363h1v1h-1zM218 367h1v1h-1zM217 355h1v1h-1zM207 372h1v1h-1zM218 362h1v1h-1zM218 371h1v1h-1zM208 364h1v1h-1zM213 366h1v1h-1zM218 360h1v1h-1zM212 372h1v1h-1zM217 368h1v1h-1zM209 355h1v1h-1zM210 372h1v1h-1zM215 366h1v1h-1zM210 371h1v1h-1zM212 365h1v1h-1zM212 371h1v1h-1zM207 361h1v1h-1zM218 369h1v1h-1zM211 367h1v1h-1zM210 368h1v1h-1zM209 371h1v1h-1zM211 354h1v1h-1zM207 366h1v1h-1zM215 371h1v1h-1zM210 370h1v1h-1zM215 362h1v1h-1zM207 361h1v1h-1zM207 365h1v1h-1zM207 365h1v1h-1zM212 371h1v1h-1zM206 357h1v1h-1zM215 370h1v1h-1zM210 370h1v1h-1zM215 366h1v1h-1zM210 360h1v1h-1zM215 367h1v1h-1zM207 362h1v1h-1zM207 355h1v1h-1zM213 350h1v1h-1zM209 362h1v1h-1zM216 369h1v1h-1zM208 367h1v1h-1zM214 370h1v1h-1zM208 363h1v1h-1zM204 364h1v1h-1zM218 368h1v1h-1zM210 371h1v1h-1zM215 365h1v1h-1zM212 369h1v1h-1zM205 350h1v1h-1zM213 371h1v1h-1zM215 351h1v1h-1zM217 366h1v1h-1zM218 366h1v1h-1zM213 361h1v1h-1zM211 360h1v1h-1zM211 363h1v1h-1zM206 368h1v1h-1zM214 360h1v1h-1zM214 358h1v1h-1zM213 366h1v1h-1zM208 361h1v1h-1zM214 361h1v1h-1zM209 369h1v1h-1zM216 357h1v1h-1zM208 368h1v1h-1zM209 371h1v1h-1zM210 356h1v1h-1zM206 371h1v1h-1zM207 357h1v1h-1zM210 368h1v1h-1zM201 357h1v1h-1zM220 369h1v1h-1zM213 370h1v1h-1zM212 369h1v1h-1zM207 367h1v1h-1zM212 362h1v1h-1zM211 368h1v1h-1zM211 350h1v1h-1zM205 360h1v1h-1zM211 367h1v1h-1zM203 359h1v1h-1zM210 360h1v1h-1zM207 371h1v1h-1zM209 360h1v1h-1zM210 360h1v1h-1zM215 361h1v1h-1zM216 365h1v1h-1zM211 364h1v1h-1zM206 372h1v1h-1zM217 363h1v1h-1zM205 359h1v1h-1zM209 365h1v1h-1zM210 357h1v1h-1zM208 353h1v1h-1zM217 358h1v1h-1zM213 370h1v1h-1zM215 358h1v1h-1zM210 362h1v1h-1zM215 372h1v1h-1zM210 364h1v1h-1zM210 360h1v1h-1zM212 363h1v1h-1zM213 367h1v1h-1zM214 364h1v1h-1zM210 363h1v1h-1zM205 358h1v1h-1zM210 372h1v1h-1zM198 371h1v1h-1zM210 355h1v1h-1zM207 370h1v1h-1zM215 367h1v1h-1zM199 362h1v1h-1zM220 366h1v1h-1zM210 358h1v1h-1zM204 361h1v1h-1zM213 361h1v1h-1zM213 367h1v1h-1zM213 371h1v1h-1zM221 369h1v1h-1zM207 373h1v1h-1zM212 363h1v1h-1zM212 369h1v1h-1zM208 372h1v1h-1zM212 352h1v1h-1zM207 365h1v1h-1zM213 368h1v1h-1zM216 370h1v1h-1zM214 360h1v1h-1zM204 366h1v1h-1zM212 360h1v1h-1zM209 369h1v1h-1zM216 363h1v1h-1zM210 356h1v1h-1zM219 362h1v1h-1zM205 370h1v1h-1zM213 368h1v1h-1zM207 357h1v1h-1zM219 366h1v1h-1zM218 372h1v1h-1zM207 365h1v1h-1zM214 369h1v1h-1zM211 371h1v1h-1zM203 372h1v1h-1zM206 368h1v1h-1zM211 370h1v1h-1zM213 369h1v1h-1zM209 370h1v1h-1zM212 358h1v1h-1zM212 364h1v1h-1zM212 372h1v1h-1zM207 350h1v1h-1zM212 358h1v1h-1zM213 367h1v1h-1zM204 369h1v1h-1zM217 359h1v1h-1zM218 369h1v1h-1zM212 372h1v1h-1zM220 366h1v1h-1zM207 371h1v1h-1zM207 371h1v1h-1zM208 365h1v1h-1zM208 364h1v1h-1zM220 371h1v1h-1zM211 370h1v1h-1zM211 362h1v1h-1zM212 352h1v1h-1zM218 363h1v1h-1zM212 368h1v1h-1zM209 356h1v1h-1zM212 364h1v1h-1zM217 366h1v1h-1zM210 372h1v1h-1zM217 365h1v1h-1zM212 367h1v1h-1zM210 372h1v1h-1zM213 369h1v1h-1zM219 353h1v1h-1zM210 366h1v1h-1zM216 355h1v1h-1zM214 369h1v1h-1zM212 368h1v1h-1zM211 370h1v1h-1zM215 368h1v1h-1zM214 371h1v1h-1zM213 372h1v1h-1zM214 364h1v1h-1zM207 363h1v1h-1zM208 362h1v1h-1zM207 367h1v1h-1zM210 363h1v1h-1zM210 371h1v1h-1zM209 365h1v1h-1zM214 372h1v1h-1zM207 365h1v1h-1zM210 366h1v1h-1zM215 358h1v1h-1zM219 368h1v1h-1zM211 362h1v1h-1zM216 364h1v1h-1zM217 368h1v1h-1zM207 354h1v1h-1zM212 369h1v1h-1zM207 363h1v1h-1zM209 359h1v1h-1zM213 371h1v1h-1zM205 366h1v1h-1zM213 362h1v1h-1zM210 362h1v1h-1zM210 369h1v1h-1zM213 367h1v1h-1zM207 368h1v1h-1zM203 366h1v1h-1zM211 367h1v1h-1zM208 367h1v1h-1zM210 354h1v1h-1zM206 370h1v1h-1zM207 370h1v1h-1zM206 372h1v1h-1zM206 358h1v1h-1zM207 371h1v1h-1zM208 362h1v1h-1zM211 359h1v1h-1zM225 369h1v1h-1zM208 370h1v1h-1zM204 371h1v1h-1zM214 368h1v1h-1zM205 372h1v1h-1zM207 368h1v1h-1zM210 363h1v1h-1zM211 362h1v1h-1zM211 367h1v1h-1zM212 366h1v1h-1zM210 371h1v1h-1zM216 362h1v1h-1zM215 371h1v1h-1zM209 358h1v1h-1zM210 361h1v1h-1zM205 370h1v1h-1zM214 359h1v1h-1zM210 368h1v1h-1zM220 372h1v1h-1zM208 361h1v1h-1zM218 367h1v1h-1zM207 370h1v1h-1zM203 370h1v1h-1zM207 366h1v1h-1zM213 371h1v1h-1zM215 363h1v1h-1zM207 363h1v1h-1zM215 369h1v1h-1zM209 370h1v1h-1zM210 369h1v1h-1zM218 365h1v1h-1zM212 362h1v1h-1zM212 365h1v1h-1zM212 371h1v1h-1zM212 359h1v1h-1zM218 371h1v1h-1zM207 372h1v1h-1zM208 359h1v1h-1zM207 362h1v1h-1zM208 360h1v1h-1zM214 367h1v1h-1zM207 372h1v1h-1zM217 369h1v1h-1zM211 365h1v1h-1zM207 361h1v1h-1zM208 364h1v1h-1zM205 368h1v1h-1zM204 367h1v1h-1zM216 360h1v1h-1zM215 360h1v1h-1zM207 367h1v1h-1zM209 363h1v1h-1zM218 368h1v1h-1zM208 364h1v1h-1zM212 369h1v1h-1zM213 366h1v1h-1zM210 360h1v1h-1zM210 371h1v1h-1zM209 366h1v1h-1zM211 369h1v1h-1zM204 361h1v1h-1zM211 365h1v1h-1zM212 353h1v1h-1zM205 365h1v1h-1zM213 368h1v1h-1zM207 367h1v1h-1zM199 370h1v1h-1zM202 365h1v1h-1zM211 364h1v1h-1zM213 362h1v1h-1zM209 360h1v1h-1zM204 366h1v1h-1zM210 371h1v1h-1zM215 371h1v1h-1zM211 354h1v1h-1zM204 370h1v1h-1zM213 366h1v1h-1zM210 368h1v1h-1zM210 369h1v1h-1zM211 350h1v1h-1zM213 365h1v1h-1zM210 347h1v1h-1zM206 368h1v1h-1zM210 365h1v1h-1zM211 366h1v1h-1zM216 372h1v1h-1zM206 364h1v1h-1zM210 364h1v1h-1zM207 366h1v1h-1zM212 366h1v1h-1zM208 368h1v1h-1zM215 370h1v1h-1zM208 370h1v1h-1zM206 367h1v1h-1zM204 368h1v1h-1zM206 364h1v1h-1zM206 358h1v1h-1zM210 353h1v1h-1zM211 362h1v1h-1zM210 370h1v1h-1zM212 372h1v1h-1zM207 371h1v1h-1zM213 361h1v1h-1zM210 351h1v1h-1zM213 358h1v1h-1zM214 371h1v1h-1zM209 368h1v1h-1zM217 372h1v1h-1zM214 360h1v1h-1zM209 369h1v1h-1zM219 365h1v1h-1zM217 357h1v1h-1zM204 364h1v1h-1zM202 360h1v1h-1zM208 362h1v1h-1zM215 359h1v1h-1zM214 371h1v1h-1zM211 371h1v1h-1zM215 356h1v1h-1zM214 363h1v1h-1zM209 363h1v1h-1zM212 365h1v1h-1zM215 357h1v1h-1zM208 364h1v1h-1zM208 355h1v1h-1zM208 357h1v1h-1zM218 372h1v1h-1zM214 369h1v1h-1zM215 365h1v1h-1zM209 354h1v1h-1zM211 369h1v1h-1zM216 360h1v1h-1zM210 362h1v1h-1zM216 366h1v1h-1zM211 372h1v1h-1zM211 370h1v1h-1zM213 364h1v1h-1zM215 365h1v1h-1zM218 361h1v1h-1zM209 366h1v1h-1zM219 372h1v1h-1zM208 367h1v1h-1zM207 357h1v1h-1zM201 362h1v1h-1zM215 366h1v1h-1zM217 356h1v1h-1zM205 369h1v1h-1zM209 370h1v1h-1zM210 370h1v1h-1zM204 369h1v1h-1zM211 364h1v1h-1zM212 365h1v1h-1zM209 370h1v1h-1zM206 367h1v1h-1zM211 364h1v1h-1zM213 363h1v1h-1zM205 367h1v1h-1zM210 367h1v1h-1zM213 351h1v1h-1zM198 370h1v1h-1zM212 362h1v1h-1zM219 370h1v1h-1zM205 368h1v1h-1zM216 363h1v1h-1zM210 359h1v1h-1zM213 354h1v1h-1zM210 369h1v1h-1zM206 366h1v1h-1zM203 370h1v1h-1zM222 372h1v1h-1zM206 358h1v1h-1zM210 365h1v1h-1zM217 370h1v1h-1zM212 360h1v1h-1zM212 367h1v1h-1zM202 372h1v1h-1zM208 371h1v1h-1zM206 355h1v1h-1zM205 348h1v1h-1zM212 351h1v1h-1zM214 361h1v1h-1zM207 369h1v1h-1zM208 357h1v1h-1zM213 369h1v1h-1zM215 368h1v1h-1zM206 372h1v1h-1zM216 371h1v1h-1zM215 372h1v1h-1zM211 372h1v1h-1zM206 371h1v1h-1zM213 369h1v1h-1zM214 365h1v1h-1zM219 370h1v1h-1zM208 368h1v1h-1zM218 368h1v1h-1zM209 370h1v1h-1zM213 369h1v1h-1zM210 369h1v1h-1zM211 357h1v1h-1zM217 353h1v1h-1zM208 360h1v1h-1zM214 356h1v1h-1zM210 365h1v1h-1zM211 363h1v1h-1zM208 370h1v1h-1zM212 368h1v1h-1zM202 370h1v1h-1zM210 367h1v1h-1zM215 364h1v1h-1zM214 357h1v1h-1zM204 362h1v1h-1zM206 368h1v1h-1zM209 356h1v1h-1zM219 359h1v1h-1zM209 362h1v1h-1zM211 370h1v1h-1zM210 370h1v1h-1zM212 370h1v1h-1zM208 350h1v1h-1zM212 364h1v1h-1zM213 356h1v1h-1zM215 351h1v1h-1zM207 366h1v1h-1zM215 372h1v1h-1zM219 366h1v1h-1zM215 371h1v1h-1zM214 367h1v1h-1zM200 372h1v1h-1zM217 369h1v1h-1zM219 365h1v1h-1zM216 365h1v1h-1zM213 361h1v1h-1zM214 362h1v1h-1zM224 361h1v1h-1zM208 359h1v1h-1zM209 365h1v1h-1zM216 359h1v1h-1zM212 372h1v1h-1zM201 368h1v1h-1zM212 358h1v1h-1zM212 353h1v1h-1zM207 369h1v1h-1zM213 358h1v1h-1zM212 351h1v1h-1zM203 361h1v1h-1zM213 354h1v1h-1zM220 363h1v1h-1zM219 370h1v1h-1zM206 366h1v1h-1zM205 363h1v1h-1zM211 358h1v1h-1zM212 362h1v1h-1zM205 369h1v1h-1zM208 361h1v1h-1zM217 367h1v1h-1zM212 366h1v1h-1zM216 370h1v1h-1zM216 370h1v1h-1zM209 356h1v1h-1zM209 367h1v1h-1zM206 372h1v1h-1zM202 370h1v1h-1zM209 363h1v1h-1zM205 368h1v1h-1zM209 365h1v1h-1zM212 368h1v1h-1zM212 370h1v1h-1zM213 372h1v1h-1zM209 371h1v1h-1zM211 363h1v1h-1zM216 365h1v1h-1zM210 362h1v1h-1zM211 364h1v1h-1zM200 368h1v1h-1zM206 361h1v1h-1zM216 372h1v1h-1zM207 362h1v1h-1zM206 367h1v1h-1zM215 371h1v1h-1zM206 364h1v1h-1zM215 364h1v1h-1zM210 367h1v1h-1zM208 370h1v1h-1zM203 357h1v1h-1zM217 371h1v1h-1zM203 370h1v1h-1zM205 371h1v1h-1zM214 367h1v1h-1zM205 367h1v1h-1zM213 364h1v1h-1zM211 359h1v1h-1zM210 372h1v1h-1zM206 359h1v1h-1zM208 365h1v1h-1zM212 363h1v1h-1zM206 371h1v1h-1zM214 369h1v1h-1zM212 370h1v1h-1zM213 359h1v1h-1zM212 372h1v1h-1zM213 367h1v1h-1zM213 367h1v1h-1zM215 368h1v1h-1zM213 369h1v1h-1zM212 366h1v1h-1zM207 360h1v1h-1zM203 369h1v1h-1zM211 371h1v1h-1zM215 362h1v1h-1zM207 368h1v1h-1zM204 363h1v1h-1zM208 368h1v1h-1zM212 355h1v1h-1zM215 373h1v1h-1zM210 354h1v1h-1zM206 354h1v1h-1zM211 355h1v1h-1zM214 372h1v1h-1zM211 363h1v1h-1zM215 362h1v1h-1zM209 352h1v1h-1zM215 362h1v1h-1zM219 372h1v1h-1zM207 356h1v1h-1zM207 360h1v1h-1zM213 349h1v1h-1zM226 372h1v1h-1zM213 365h1v1h-1zM211 363h1v1h-1zM217 363h1v1h-1zM210 358h1v1h-1zM204 358h1v1h-1zM207 360h1v1h-1zM216 359h1v1h-1zM203 372h1v1h-1zM204 368h1v1h-1zM214 361h1v1h-1zM212 364h1v1h-1zM216 356h1v1h-1zM206 372h1v1h-1zM208 365h1v1h-1zM209 372h1v1h-1zM205 367h1v1h-1zM210 349h1v1h-1zM210 371h1v1h-1zM215 368h1v1h-1zM210 371h1v1h-1zM209 357h1v1h-1zM213 363h1v1h-1zM215 355h1v1h-1zM215 359h1v1h-1zM212 366h1v1h-1zM209 368h1v1h-1zM209 372h1v1h-1zM205 361h1v1h-1zM211 359h1v1h-1zM219 371h1v1h-1zM212 365h1v1h-1zM214 372h1v1h-1zM203 366h1v1h-1zM208 361h1v1h-1zM211 372h1v1h-1zM206 364h1v1h-1zM214 357h1v1h-1zM214 351h1v1h-1zM213 372h1v1h-1zM214 362h1v1h-1zM206 360h1v1h-1zM216 366h1v1h-1zM208 369h1v1h-1zM203 358h1v1h-1zM211 354h1v1h-1zM213 367h1v1h-1zM208 359h1v1h-1zM203 370h1v1h-1zM206 369h1v1h-1zM210 356h1v1h-1zM200 364h1v1h-1zM215 359h1v1h-1zM216 369h1v1h-1zM210 363h1v1h-1zM216 364h1v1h-1zM210 361h1v1h-1zM206 372h1v1h-1zM214 369h1v1h-1zM213 357h1v1h-1zM207 360h1v1h-1zM205 362h1v1h-1zM206 369h1v1h-1zM216 364h1v1h-1zM224 367h1v1h-1zM208 371h1v1h-1zM214 371h1v1h-1zM212 367h1v1h-1zM210 370h1v1h-1zM215 365h1v1h-1zM207 366h1v1h-1zM211 360h1v1h-1zM205 371h1v1h-1zM201 365h1v1h-1zM211 367h1v1h-1zM206 358h1v1h-1zM205 372h1v1h-1zM214 372h1v1h-1zM210 356h1v1h-1zM213 367h1v1h-1zM218 362h1v1h-1zM212 367h1v1h-1zM213 372h1v1h-1zM205 371h1v1h-1zM215 372h1v1h-1zM215 368h1v1h-1zM206 369h1v1h-1zM213 346h1v1h-1zM212 352h1v1h-1zM210 361h1v1h-1zM211 371h1v1h-1zM221 358h1v1h-1zM208 359h1v1h-1zM210 359h1v1h-1zM211 371h1v1h-1zM210 363h1v1h-1zM202 369h1v1h-1zM214 371h1v1h-1zM215 366h1v1h-1zM218 362h1v1h-1zM208 367h1v1h-1zM205 368h1v1h-1zM214 366h1v1h-1zM207 355h1v1h-1zM211 370h1v1h-1zM209 370h1v1h-1zM212 369h1v1h-1zM209 360h1v1h-1zM214 365h1v1h-1zM207 357h1v1h-1zM222 370h1v1h-1zM215 372h1v1h-1zM208 370h1v1h-1zM207 359h1v1h-1zM210 368h1v1h-1zM209 366h1v1h-1zM207 362h1v1h-1zM217 357h1v1h-1zM215 357h1v1h-1zM206 359h1v1h-1zM214 369h1v1h-1zM211 356h1v1h-1zM214 358h1v1h-1zM208 357h1v1h-1zM220 361h1v1h-1zM211 351h1v1h-1zM220 371h1v1h-1zM209 364h1v1h-1zM217 370h1v1h-1zM211 356h1v1h-1zM218 354h1v1h-1zM210 365h1v1h-1zM206 370h1v1h-1zM206 364h1v1h-1zM208 366h1v1h-1zM214 368h1v1h-1zM213 368h1v1h-1zM212 370h1v1h-1zM216 370h1v1h-1zM217 349h1v1h-1zM207 362h1v1h-1zM215 366h1v1h-1zM221 367h1v1h-1zM208 368h1v1h-1zM209 358h1v1h-1zM213 360h1v1h-1zM212 354h1v1h-1zM208 368h1v1h-1zM211 360h1v1h-1zM219 372h1v1h-1zM215 361h1v1h-1zM208 359h1v1h-1zM203 369h1v1h-1zM207 356h1v1h-1zM212 353h1v1h-1zM207 371h1v1h-1zM208 357h1v1h-1zM214 369h1v1h-1zM210 366h1v1h-1zM209 370h1v1h-1zM212 364h1v1h-1zM218 367h1v1h-1zM212 370h1v1h-1zM214 365h1v1h-1zM211 363h1v1h-1zM218 362h1v1h-1zM206 365h1v1h-1zM206 369h1v1h-1zM209 368h1v1h-1zM220 369h1v1h-1zM218 369h1v1h-1zM207 355h1v1h-1zM209 364h1v1h-1zM213 360h1v1h-1zM211 362h1v1h-1zM215 369h1v1h-1zM209 356h1v1h-1zM205 348h1v1h-1zM214 370h1v1h-1zM217 371h1v1h-1zM204 372h1v1h-1zM203 364h1v1h-1zM209 368h1v1h-1zM202 371h1v1h-1zM213 361h1v1h-1zM206 371h1v1h-1zM214 362h1v1h-1zM209 367h1v1h-1zM212 372h1v1h-1zM214 367h1v1h-1zM210 367h1v1h-1zM207 364h1v1h-1zM215 362h1v1h-1zM204 370h1v1h-1zM218 371h1v1h-1zM208 372h1v1h-1zM209 360h1v1h-1zM213 355h1v1h-1zM213 366h1v1h-1zM213 371h1v1h-1zM204 370h1v1h-1zM208 346h1v1h-1zM212 363h1v1h-1zM213 362h1v1h-1zM211 367h1v1h-1zM216 360h1v1h-1zM210 362h1v1h-1zM215 367h1v1h-1zM216 370h1v1h-1zM212 357h1v1h-1zM210 362h1v1h-1zM214 358h1v1h-1zM213 365h1v1h-1zM214 371h1v1h-1zM207 370h1v1h-1zM213 364h1v1h-1zM218 365h1v1h-1zM210 353h1v1h-1zM212 363h1v1h-1zM210 371h1v1h-1zM215 367h1v1h-1zM202 365h1v1h-1zM218 360h1v1h-1zM213 370h1v1h-1zM210 370h1v1h-1zM212 365h1v1h-1zM216 371h1v1h-1zM213 368h1v1h-1zM214 368h1v1h-1zM216 363h1v1h-1zM212 357h1v1h-1zM214 359h1v1h-1zM217 356h1v1h-1zM213 361h1v1h-1zM208 361h1v1h-1zM215 369h1v1h-1zM220 367h1v1h-1zM210 359h1v1h-1zM213 360h1v1h-1zM213 365h1v1h-1zM215 355h1v1h-1zM209 361h1v1h-1zM211 363h1v1h-1zM220 371h1v1h-1zM214 371h1v1h-1zM208 369h1v1h-1zM215 365h1v1h-1zM211 358h1v1h-1zM218 369h1v1h-1zM204 364h1v1h-1zM211 355h1v1h-1zM216 369h1v1h-1zM205 371h1v1h-1zM208 358h1v1h-1zM211 367h1v1h-1zM210 364h1v1h-1zM213 370h1v1h-1zM205 359h1v1h-1zM208 351h1v1h-1zM219 363h1v1h-1zM208 364h1v1h-1zM213 358h1v1h-1zM211 368h1v1h-1zM215 360h1v1h-1zM213 366h1v1h-1zM213 365h1v1h-1zM216 362h1v1h-1zM212 360h1v1h-1zM203 366h1v1h-1zM208 366h1v1h-1zM218 372h1v1h-1zM215 357h1v1h-1zM210 355h1v1h-1zM204 363h1v1h-1zM208 365h1v1h-1zM220 364h1v1h-1zM216 360h1v1h-1zM216 362h1v1h-1zM204 371h1v1h-1zM206 358h1v1h-1zM208 373h1v1h-1zM206 348h1v1h-1zM212 362h1v1h-1zM206 372h1v1h-1zM213 368h1v1h-1zM210 360h1v1h-1zM209 360h1v1h-1zM214 370h1v1h-1zM213 368h1v1h-1zM212 369h1v1h-1zM209 368h1v1h-1zM211 364h1v1h-1zM203 355h1v1h-1zM203 361h1v1h-1zM208 372h1v1h-1zM212 368h1v1h-1zM218 355h1v1h-1zM213 370h1v1h-1zM207 356h1v1h-1zM209 372h1v1h-1zM206 365h1v1h-1zM211 365h1v1h-1zM211 368h1v1h-1zM211 359h1v1h-1zM212 352h1v1h-1zM215 352h1v1h-1zM214 371h1v1h-1zM206 363h1v1h-1zM215 366h1v1h-1zM207 359h1v1h-1zM213 354h1v1h-1zM211 368h1v1h-1zM219 370h1v1h-1zM211 364h1v1h-1zM211 368h1v1h-1zM210 360h1v1h-1zM215 366h1v1h-1zM213 371h1v1h-1zM210 368h1v1h-1zM215 372h1v1h-1zM220 365h1v1h-1zM218 369h1v1h-1zM217 350h1v1h-1zM209 350h1v1h-1zM211 368h1v1h-1zM212 369h1v1h-1zM203 370h1v1h-1zM219 367h1v1h-1zM205 369h1v1h-1zM213 365h1v1h-1zM206 355h1v1h-1zM212 371h1v1h-1zM215 364h1v1h-1zM213 367h1v1h-1zM207 373h1v1h-1zM208 370h1v1h-1zM215 359h1v1h-1zM211 371h1v1h-1zM212 354h1v1h-1zM215 367h1v1h-1zM200 363h1v1h-1zM212 355h1v1h-1zM217 366h1v1h-1zM219 371h1v1h-1zM214 367h1v1h-1zM208 371h1v1h-1zM216 369h1v1h-1zM219 366h1v1h-1zM208 361h1v1h-1zM208 372h1v1h-1zM210 372h1v1h-1zM210 347h1v1h-1zM203 361h1v1h-1zM200 370h1v1h-1zM205 369h1v1h-1zM208 365h1v1h-1zM213 361h1v1h-1zM209 359h1v1h-1zM212 360h1v1h-1zM217 360h1v1h-1zM215 365h1v1h-1zM207 361h1v1h-1zM216 370h1v1h-1zM211 365h1v1h-1zM213 365h1v1h-1zM216 371h1v1h-1zM215 372h1v1h-1zM205 372h1v1h-1zM206 364h1v1h-1zM212 368h1v1h-1zM214 369h1v1h-1zM220 359h1v1h-1zM214 371h1v1h-1zM209 367h1v1h-1zM209 363h1v1h-1zM208 366h1v1h-1zM205 365h1v1h-1zM205 368h1v1h-1zM209 359h1v1h-1zM212 370h1v1h-1zM208 360h1v1h-1zM211 347h1v1h-1zM210 367h1v1h-1zM210 365h1v1h-1zM210 346h1v1h-1zM212 364h1v1h-1zM211 369h1v1h-1zM201 353h1v1h-1zM212 367h1v1h-1zM212 369h1v1h-1zM208 364h1v1h-1zM212 364h1v1h-1zM208 371h1v1h-1zM212 370h1v1h-1zM208 356h1v1h-1zM214 370h1v1h-1zM213 371h1v1h-1zM204 371h1v1h-1zM208 356h1v1h-1zM214 367h1v1h-1zM213 358h1v1h-1zM212 371h1v1h-1zM207 349h1v1h-1zM208 361h1v1h-1zM212 370h1v1h-1zM212 350h1v1h-1zM211 356h1v1h-1zM208 362h1v1h-1zM210 359h1v1h-1zM209 372h1v1h-1zM206 369h1v1h-1zM206 361h1v1h-1zM208 355h1v1h-1zM205 357h1v1h-1zM213 367h1v1h-1zM214 367h1v1h-1zM215 365h1v1h-1zM208 369h1v1h-1zM208 359h1v1h-1zM212 358h1v1h-1zM209 362h1v1h-1zM210 366h1v1h-1zM210 366h1v1h-1zM204 369h1v1h-1zM217 368h1v1h-1zM205 367h1v1h-1zM204 363h1v1h-1zM215 366h1v1h-1zM206 366h1v1h-1zM215 359h1v1h-1zM212 354h1v1h-1zM212 352h1v1h-1zM210 355h1v1h-1zM206 354h1v1h-1zM206 358h1v1h-1zM211 372h1v1h-1zM211 369h1v1h-1zM206 363h1v1h-1zM206 363h1v1h-1zM207 365h1v1h-1zM211 367h1v1h-1zM213 366h1v1h-1zM215 364h1v1h-1zM209 362h1v1h-1zM217 365h1v1h-1zM214 369h1v1h-1zM218 373h1v1h-1zM207 363h1v1h-1zM213 364h1v1h-1zM216 361h1v1h-1zM203 371h1v1h-1zM215 365h1v1h-1zM213 370h1v1h-1zM215 368h1v1h-1zM212 367h1v1h-1zM216 368h1v1h-1zM209 364h1v1h-1zM209 370h1v1h-1zM214 366h1v1h-1zM214 350h1v1h-1zM205 360h1v1h-1zM216 370h1v1h-1zM216 359h1v1h-1zM215 360h1v1h-1zM208 365h1v1h-1zM217 371h1v1h-1zM213 369h1v1h-1zM215 356h1v1h-1zM211 357h1v1h-1zM209 371h1v1h-1zM208 370h1v1h-1zM209 359h1v1h-1zM215 364h1v1h-1zM208 364h1v1h-1zM208 368h1v1h-1zM212 367h1v1h-1zM210 355h1v1h-1zM202 369h1v1h-1zM208 371h1v1h-1zM209 366h1v1h-1zM218 360h1v1h-1zM214 357h1v1h-1zM207 361h1v1h-1zM206 372h1v1h-1zM209 357h1v1h-1zM212 362h1v1h-1zM208 366h1v1h-1zM213 367h1v1h-1zM205 369h1v1h-1zM212 370h1v1h-1zM217 373h1v1h-1zM201 352h1v1h-1zM211 361h1v1h-1zM212 368h1v1h-1zM213 349h1v1h-1zM211 364h1v1h-1zM211 365h1v1h-1zM212 362h1v1h-1zM211 363h1v1h-1zM211 360h1v1h-1zM218 365h1v1h-1zM215 358h1v1h-1zM208 361h1v1h-1zM209 370h1v1h-1zM215 362h1v1h-1zM206 372h1v1h-1zM215 367h1v1h-1zM205 372h1v1h-1zM221 372h1v1h-1zM217 368h1v1h-1zM209 365h1v1h-1zM209 366h1v1h-1zM202 365h1v1h-1zM211 360h1v1h-1zM216 369h1v1h-1zM214 364h1v1h-1zM210 370h1v1h-1zM220 369h1v1h-1zM214 371h1v1h-1zM213 372h1v1h-1zM210 366h1v1h-1zM213 363h1v1h-1zM222 364h1v1h-1zM213 360h1v1h-1zM204 356h1v1h-1zM212 365h1v1h-1zM218 356h1v1h-1zM215 353h1v1h-1zM209 372h1v1h-1zM213 366h1v1h-1zM205 353h1v1h-1zM214 363h1v1h-1zM207 361h1v1h-1zM209 362h1v1h-1zM208 370h1v1h-1zM208 372h1v1h-1zM218 359h1v1h-1zM218 371h1v1h-1zM210 366h1v1h-1zM211 371h1v1h-1zM218 362h1v1h-1zM210 372h1v1h-1zM209 365h1v1h-1zM207 368h1v1h-1zM218 366h1v1h-1zM212 359h1v1h-1zM211 369h1v1h-1zM209 364h1v1h-1zM207 361h1v1h-1zM215 361h1v1h-1zM207 371h1v1h-1zM209 364h1v1h-1zM204 366h1v1h-1zM206 368h1v1h-1zM209 360h1v1h-1zM209 367h1v1h-1zM205 361h1v1h-1zM208 363h1v1h-1zM210 366h1v1h-1zM200 365h1v1h-1zM214 372h1v1h-1zM207 365h1v1h-1zM201 371h1v1h-1zM207 363h1v1h-1zM210 355h1v1h-1zM208 364h1v1h-1zM208 356h1v1h-1zM211 363h1v1h-1zM201 349h1v1h-1zM205 357h1v1h-1zM210 362h1v1h-1zM208 359h1v1h-1zM203 360h1v1h-1zM205 369h1v1h-1zM200 364h1v1h-1zM200 364h1v1h-1zM207 357h1v1h-1zM220 364h1v1h-1zM213 363h1v1h-1zM214 364h1v1h-1zM208 366h1v1h-1zM216 363h1v1h-1zM210 368h1v1h-1zM208 356h1v1h-1zM213 366h1v1h-1zM202 354h1v1h-1zM197 370h1v1h-1zM202 369h1v1h-1zM215 360h1v1h-1zM212 358h1v1h-1zM209 362h1v1h-1zM207 366h1v1h-1zM207 351h1v1h-1zM210 355h1v1h-1zM204 369h1v1h-1zM212 360h1v1h-1zM203 353h1v1h-1zM206 359h1v1h-1zM203 349h1v1h-1zM207 363h1v1h-1zM203 361h1v1h-1zM199 353h1v1h-1zM206 367h1v1h-1zM208 353h1v1h-1zM210 354h1v1h-1zM206 360h1v1h-1zM214 356h1v1h-1zM207 361h1v1h-1zM206 356h1v1h-1zM207 356h1v1h-1zM215 359h1v1h-1zM208 360h1v1h-1zM203 356h1v1h-1zM220 366h1v1h-1zM208 370h1v1h-1zM207 352h1v1h-1zM212 358h1v1h-1zM205 359h1v1h-1zM207 352h1v1h-1zM212 352h1v1h-1zM202 359h1v1h-1zM206 355h1v1h-1zM212 364h1v1h-1zM217 368h1v1h-1zM207 363h1v1h-1zM207 364h1v1h-1zM213 355h1v1h-1zM201 357h1v1h-1zM204 364h1v1h-1zM204 366h1v1h-1zM198 361h1v1h-1zM206 360h1v1h-1zM212 353h1v1h-1zM211 364h1v1h-1zM214 359h1v1h-1zM207 368h1v1h-1zM214 364h1v1h-1zM204 367h1v1h-1zM202 358h1v1h-1zM210 372h1v1h-1zM208 365h1v1h-1zM211 369h1v1h-1zM208 357h1v1h-1zM214 359h1v1h-1zM211 371h1v1h-1zM209 361h1v1h-1zM206 362h1v1h-1zM211 372h1v1h-1zM205 370h1v1h-1zM213 363h1v1h-1zM212 351h1v1h-1zM202 361h1v1h-1zM210 358h1v1h-1zM210 372h1v1h-1zM200 358h1v1h-1zM205 363h1v1h-1zM208 368h1v1h-1zM215 365h1v1h-1zM205 364h1v1h-1zM212 369h1v1h-1zM217 363h1v1h-1zM209 354h1v1h-1zM200 361h1v1h-1zM207 361h1v1h-1zM209 359h1v1h-1zM214 367h1v1h-1zM211 367h1v1h-1zM207 368h1v1h-1zM202 365h1v1h-1zM208 364h1v1h-1zM207 354h1v1h-1zM214 359h1v1h-1zM212 356h1v1h-1zM201 364h1v1h-1zM206 361h1v1h-1zM209 365h1v1h-1zM203 360h1v1h-1zM205 369h1v1h-1zM214 369h1v1h-1zM212 355h1v1h-1zM199 371h1v1h-1zM210 359h1v1h-1zM209 357h1v1h-1zM207 359h1v1h-1zM211 353h1v1h-1zM211 364h1v1h-1zM220 370h1v1h-1zM209 351h1v1h-1zM204 365h1v1h-1zM205 366h1v1h-1zM211 366h1v1h-1zM217 366h1v1h-1zM211 365h1v1h-1zM211 358h1v1h-1zM209 368h1v1h-1zM206 364h1v1h-1zM208 367h1v1h-1zM202 364h1v1h-1zM212 360h1v1h-1zM210 361h1v1h-1zM209 366h1v1h-1zM204 369h1v1h-1zM207 348h1v1h-1zM205 353h1v1h-1zM209 350h1v1h-1zM207 358h1v1h-1zM210 357h1v1h-1zM213 363h1v1h-1zM214 360h1v1h-1zM203 371h1v1h-1zM206 357h1v1h-1zM203 357h1v1h-1zM214 356h1v1h-1zM204 360h1v1h-1zM215 363h1v1h-1zM206 358h1v1h-1zM213 355h1v1h-1zM205 352h1v1h-1zM207 363h1v1h-1zM209 358h1v1h-1zM208 355h1v1h-1zM207 360h1v1h-1zM211 364h1v1h-1zM206 355h1v1h-1zM199 358h1v1h-1zM209 348h1v1h-1zM211 348h1v1h-1zM211 368h1v1h-1zM202 361h1v1h-1zM211 351h1v1h-1zM205 357h1v1h-1zM214 358h1v1h-1zM204 357h1v1h-1zM204 372h1v1h-1zM205 348h1v1h-1zM209 358h1v1h-1zM203 363h1v1h-1zM219 365h1v1h-1zM217 363h1v1h-1zM207 353h1v1h-1zM206 357h1v1h-1zM205 350h1v1h-1zM204 367h1v1h-1zM198 364h1v1h-1zM193 367h1v1h-1zM190 361h1v1h-1zM187 364h1v1h-1zM193 361h1v1h-1zM194 371h1v1h-1zM188 363h1v1h-1zM193 363h1v1h-1zM187 365h1v1h-1zM188 367h1v1h-1zM191 365h1v1h-1zM188 362h1v1h-1zM193 362h1v1h-1zM194 364h1v1h-1zM191 365h1v1h-1zM192 360h1v1h-1zM195 359h1v1h-1zM192 361h1v1h-1zM194 364h1v1h-1zM194 360h1v1h-1zM188 357h1v1h-1zM196 360h1v1h-1zM194 360h1v1h-1zM191 365h1v1h-1zM193 360h1v1h-1zM192 360h1v1h-1zM191 371h1v1h-1zM189 364h1v1h-1zM190 358h1v1h-1zM190 368h1v1h-1zM194 360h1v1h-1zM192 358h1v1h-1zM192 365h1v1h-1zM191 355h1v1h-1zM194 362h1v1h-1zM185 365h1v1h-1zM189 366h1v1h-1zM193 360h1v1h-1zM190 360h1v1h-1zM193 362h1v1h-1zM195 368h1v1h-1zM193 353h1v1h-1zM187 366h1v1h-1zM190 363h1v1h-1zM188 369h1v1h-1zM231 368h1v1h-1zM208 345h1v1h-1zM223 346h1v1h-1zM212 346h1v1h-1zM215 348h1v1h-1zM216 350h1v1h-1zM212 350h1v1h-1zM232 352h1v1h-1zM181 325h1v1h-1z" fill="#000" fill-opacity="0.9" filter="url(#bl)"/>
<text x="99.6" y="208" font-size="7.9" text-anchor="start" >rat IgG</text>
<text x="197.7" y="202.2" font-size="8.0" text-anchor="start" >anti-</text>
<text x="197.7" y="211.1" font-size="8.0" text-anchor="start" >&#945;4 integrin</text>
<text x="98.1" y="306.4" font-size="8.0" text-anchor="start" >anti-</text>
<text x="98.1" y="315.7" font-size="8.0" text-anchor="start" >PSGL-1</text>
<text x="197.7" y="306.8" font-size="8.0" text-anchor="start" >anti-</text>
<text x="197.7" y="316.8" font-size="8.0" text-anchor="start" >&#945;4 integrin</text>
<text x="212.3" y="323.8" font-size="8.0" text-anchor="middle" >+</text>
<text x="197.7" y="331.5" font-size="8.0" text-anchor="start" >anti-</text>
<text x="197.7" y="341.3" font-size="8.0" text-anchor="start" >PSGL-1</text>
<text x="266.2" y="9.9" font-size="12" style="font-family:'Liberation Sans',sans-serif;font-weight:bold">C</text>
<line x1="298.0" y1="64.00" x2="518.6" y2="64.00" stroke="#aaa" stroke-width="0.9"/>
<line x1="298.0" y1="115.20" x2="518.6" y2="115.20" stroke="#aaa" stroke-width="0.9"/>
<line x1="298.0" y1="166.40" x2="518.6" y2="166.40" stroke="#aaa" stroke-width="0.9"/>
<path d="M298.0 217.6 V12.8 H518.6 V217.6 Z" fill="none" stroke="#888" stroke-width="1.4"/>
<line x1="296.0" y1="217.60" x2="298.0" y2="217.60" stroke="#808080" stroke-width="0.9"/>
<text x="293.4" y="220.20" font-size="6.9" text-anchor="end" >0.001</text>
<line x1="296.0" y1="166.40" x2="298.0" y2="166.40" stroke="#808080" stroke-width="0.9"/>
<text x="293.4" y="169.00" font-size="6.9" text-anchor="end" >0.01</text>
<line x1="296.0" y1="115.20" x2="298.0" y2="115.20" stroke="#808080" stroke-width="0.9"/>
<text x="293.4" y="117.80" font-size="6.9" text-anchor="end" >0.1</text>
<line x1="296.0" y1="64.00" x2="298.0" y2="64.00" stroke="#808080" stroke-width="0.9"/>
<text x="293.4" y="66.60" font-size="6.9" text-anchor="end" >1</text>
<line x1="296.0" y1="12.80" x2="298.0" y2="12.80" stroke="#808080" stroke-width="0.9"/>
<text x="293.4" y="15.40" font-size="6.9" text-anchor="end" >10</text>
<line x1="366.5" y1="217.6" x2="366.5" y2="219.6" stroke="#808080" stroke-width="0.9"/>
<text x="366.5" y="228.6" font-size="6.2" text-anchor="middle" >1</text>
<line x1="389.5" y1="217.6" x2="389.5" y2="219.6" stroke="#808080" stroke-width="0.9"/>
<text x="389.5" y="228.6" font-size="6.2" text-anchor="middle" >2</text>
<line x1="412.5" y1="217.6" x2="412.5" y2="219.6" stroke="#808080" stroke-width="0.9"/>
<text x="412.5" y="228.6" font-size="6.2" text-anchor="middle" >3</text>
<line x1="435.5" y1="217.6" x2="435.5" y2="219.6" stroke="#808080" stroke-width="0.9"/>
<text x="435.5" y="228.6" font-size="6.2" text-anchor="middle" >4</text>
<line x1="458.5" y1="217.6" x2="458.5" y2="219.6" stroke="#808080" stroke-width="0.9"/>
<text x="458.5" y="228.6" font-size="6.2" text-anchor="middle" >5</text>
<line x1="481.5" y1="217.6" x2="481.5" y2="219.6" stroke="#808080" stroke-width="0.9"/>
<text x="481.5" y="228.6" font-size="6.2" text-anchor="middle" >6</text>
<text x="421.3" y="244" font-size="8.4" text-anchor="middle" >Months</text>
<text x="0" y="0" font-size="8.5" text-anchor="middle" style="font-style:italic" transform="translate(273.4 105.6) rotate(-90)">RU in 1 femur of E-selectin -/- primary recipient</text>
<text x="337.8" y="62.3" font-size="7.6" text-anchor="middle" >rat IgG</text>
<text x="336.6" y="84.2" font-size="7.85" text-anchor="middle" >anti-PSGL-1</text>
<text x="334.2" y="130.2" font-size="7.8" text-anchor="middle" >anti-&#945;4 integrin</text>
<text x="334.2" y="150.5" font-size="7.8" text-anchor="middle" >anti-&#945;4 integrin</text>
<text x="332" y="159.8" font-size="7.6" text-anchor="middle" >+ anti-PSGL-1</text>
<polyline points="366.5,66.0 389.5,72.6 412.5,72.4 435.5,70.6 458.5,68.5 481.5,69.1" fill="none" stroke="#222" stroke-width="1.3"/>
<path d="M366.5 64.2 L368.1 66.0 L366.5 67.8 L364.9 66.0Z" fill="#fff" stroke="#000" stroke-width="0.7"/>
<path d="M389.5 64.3 V72.6 M387.8 64.3 h3.4 M387.8 72.6 h3.4" stroke="#222" stroke-width="0.7"/>
<path d="M389.5 70.8 L391.1 72.6 L389.5 74.39999999999999 L387.9 72.6Z" fill="#fff" stroke="#000" stroke-width="0.7"/>
<path d="M412.5 64.2 V72.4 M410.8 64.2 h3.4 M410.8 72.4 h3.4" stroke="#222" stroke-width="0.7"/>
<path d="M412.5 70.60000000000001 L414.1 72.4 L412.5 74.2 L410.9 72.4Z" fill="#fff" stroke="#000" stroke-width="0.7"/>
<path d="M435.5 62.5 V70.6 M433.8 62.5 h3.4 M433.8 70.6 h3.4" stroke="#222" stroke-width="0.7"/>
<path d="M435.5 68.8 L437.1 70.6 L435.5 72.39999999999999 L433.9 70.6Z" fill="#fff" stroke="#000" stroke-width="0.7"/>
<path d="M458.5 59.4 V68.5 M456.8 59.4 h3.4 M456.8 68.5 h3.4" stroke="#222" stroke-width="0.7"/>
<path d="M458.5 66.7 L460.1 68.5 L458.5 70.3 L456.9 68.5Z" fill="#fff" stroke="#000" stroke-width="0.7"/>
<path d="M481.5 60.0 V69.1 M479.8 60.0 h3.4 M479.8 69.1 h3.4" stroke="#222" stroke-width="0.7"/>
<path d="M481.5 67.3 L483.1 69.1 L481.5 70.89999999999999 L479.9 69.1Z" fill="#fff" stroke="#000" stroke-width="0.7"/>
<polyline points="366.5,81.5 389.5,85.6 412.5,86 435.5,86.6 458.5,83.5 481.5,85.6" fill="none" stroke="#555" stroke-width="0.9"/>
<path d="M366.5 81.5 V87.6 M364.8 81.5 h3.4 M364.8 87.6 h3.4" stroke="#222" stroke-width="0.7"/>
<path d="M366.5 79.7 L368.1 82.7 L364.9 82.7Z" fill="#fff" stroke="#000" stroke-width="0.6"/>
<path d="M389.5 85.6 V91.3 M387.8 85.6 h3.4 M387.8 91.3 h3.4" stroke="#222" stroke-width="0.7"/>
<path d="M389.5 83.8 L391.1 86.8 L387.9 86.8Z" fill="#fff" stroke="#000" stroke-width="0.6"/>
<path d="M412.5 86 V93.2 M410.8 86 h3.4 M410.8 93.2 h3.4" stroke="#222" stroke-width="0.7"/>
<path d="M412.5 84.2 L414.1 87.2 L410.9 87.2Z" fill="#fff" stroke="#000" stroke-width="0.6"/>
<path d="M435.5 86.6 V94 M433.8 86.6 h3.4 M433.8 94 h3.4" stroke="#222" stroke-width="0.7"/>
<path d="M435.5 84.8 L437.1 87.8 L433.9 87.8Z" fill="#fff" stroke="#000" stroke-width="0.6"/>
<path d="M458.5 83.5 V90.4 M456.8 83.5 h3.4 M456.8 90.4 h3.4" stroke="#222" stroke-width="0.7"/>
<path d="M458.5 81.7 L460.1 84.7 L456.9 84.7Z" fill="#fff" stroke="#000" stroke-width="0.6"/>
<path d="M481.5 85.6 V92.5 M479.8 85.6 h3.4 M479.8 92.5 h3.4" stroke="#222" stroke-width="0.7"/>
<path d="M481.5 83.8 L483.1 86.8 L479.9 86.8Z" fill="#fff" stroke="#000" stroke-width="0.6"/>
<polyline points="366.5,132.5 389.5,159.6 412.5,160.6 435.5,163 458.5,168.1 481.5,172.8" fill="none" stroke="#000" stroke-width="1.3"/>
<path d="M366.5 123.4 V132.5 M364.8 123.4 h3.4 M364.8 132.5 h3.4" stroke="#222" stroke-width="0.7"/>
<rect x="364.8" y="130.8" width="3.4" height="3.4" fill="#fff" stroke="#000" stroke-width="0.7"/>
<rect x="387.8" y="157.9" width="3.4" height="3.4" fill="#fff" stroke="#000" stroke-width="0.7"/>
<path d="M412.5 151.9 V160.6 M410.8 151.9 h3.4 M410.8 160.6 h3.4" stroke="#222" stroke-width="0.7"/>
<rect x="410.8" y="158.9" width="3.4" height="3.4" fill="#fff" stroke="#000" stroke-width="0.7"/>
<path d="M435.5 155.9 V163 M433.8 155.9 h3.4 M433.8 163 h3.4" stroke="#222" stroke-width="0.7"/>
<rect x="433.8" y="161.3" width="3.4" height="3.4" fill="#fff" stroke="#000" stroke-width="0.7"/>
<path d="M458.5 160.7 V168.1 M456.8 160.7 h3.4 M456.8 168.1 h3.4" stroke="#222" stroke-width="0.7"/>
<rect x="456.8" y="166.4" width="3.4" height="3.4" fill="#fff" stroke="#000" stroke-width="0.7"/>
<path d="M481.5 165.8 V172.8 M479.8 165.8 h3.4 M479.8 172.8 h3.4" stroke="#222" stroke-width="0.7"/>
<rect x="479.8" y="171.10000000000002" width="3.4" height="3.4" fill="#fff" stroke="#000" stroke-width="0.7"/>
<polyline points="366.5,146.8 389.5,153.4 412.5,167.4 435.5,172.6 458.5,181.4 481.5,182.8" fill="none" stroke="#777" stroke-width="0.5"/>
<path d="M366.5 146.8 V159.8 M364.8 146.8 h3.4 M364.8 159.8 h3.4" stroke="#222" stroke-width="0.7"/>
<path d="M365.1 145.4 L367.9 148.20000000000002 M367.9 145.4 L365.1 148.20000000000002" stroke="#000" stroke-width="0.8"/>
<path d="M389.5 153.4 V182.5 M387.8 153.4 h3.4 M387.8 182.5 h3.4" stroke="#222" stroke-width="0.7"/>
<path d="M388.1 152.0 L390.9 154.8 M390.9 152.0 L388.1 154.8" stroke="#000" stroke-width="0.8"/>
<path d="M412.5 167.4 V193.8 M410.8 167.4 h3.4 M410.8 193.8 h3.4" stroke="#222" stroke-width="0.7"/>
<path d="M411.1 166.0 L413.9 168.8 M413.9 166.0 L411.1 168.8" stroke="#000" stroke-width="0.8"/>
<path d="M435.5 172.6 V198.2 M433.8 172.6 h3.4 M433.8 198.2 h3.4" stroke="#222" stroke-width="0.7"/>
<path d="M434.1 171.2 L436.9 174.0 M436.9 171.2 L434.1 174.0" stroke="#000" stroke-width="0.8"/>
<path d="M458.5 181.4 V206.3 M456.8 181.4 h3.4 M456.8 206.3 h3.4" stroke="#222" stroke-width="0.7"/>
<path d="M457.1 180.0 L459.9 182.8 M459.9 180.0 L457.1 182.8" stroke="#000" stroke-width="0.8"/>
<path d="M481.5 182.8 V200.9 M479.8 182.8 h3.4 M479.8 200.9 h3.4" stroke="#222" stroke-width="0.7"/>
<path d="M480.1 181.4 L482.9 184.20000000000002 M482.9 181.4 L480.1 184.20000000000002" stroke="#000" stroke-width="0.8"/>
<path d="M389.5 149 V159" stroke="#222" stroke-width="0.6"/>
<text x="366.3" y="97" font-size="8" text-anchor="middle" >#</text>
<path d="M375.00 127.10 L375.00 131.10 M373.27 128.10 L376.73 130.10 M376.73 128.10 L373.27 130.10 " stroke="#333" stroke-width="1.2"/>
<path d="M390.00 142.30 L390.00 146.30 M388.27 143.30 L391.73 145.30 M391.73 143.30 L388.27 145.30 " stroke="#333" stroke-width="1.2"/>
<path d="M413.00 142.40 L413.00 146.40 M411.27 143.40 L414.73 145.40 M414.73 143.40 L411.27 145.40 " stroke="#333" stroke-width="1.2"/>
<path d="M436.00 145.00 L436.00 149.00 M434.27 146.00 L437.73 148.00 M437.73 146.00 L434.27 148.00 " stroke="#333" stroke-width="1.2"/>
<path d="M458.80 149.40 L458.80 153.40 M457.07 150.40 L460.53 152.40 M460.53 150.40 L457.07 152.40 " stroke="#333" stroke-width="1.2"/>
<path d="M481.30 155.70 L481.30 159.70 M479.57 156.70 L483.03 158.70 M483.03 156.70 L479.57 158.70 " stroke="#333" stroke-width="1.2"/>
</svg>
</body></html>
